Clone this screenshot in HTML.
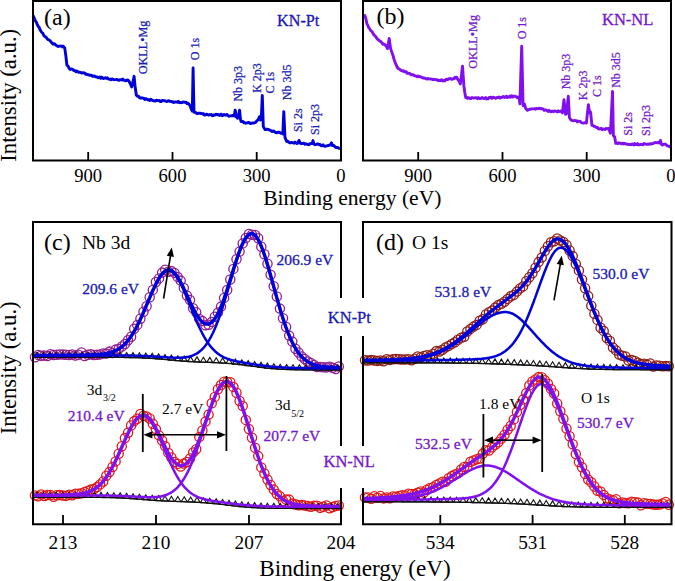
<!DOCTYPE html><html><head><meta charset="utf-8"><style>html,body{margin:0;padding:0;background:#fff;overflow:hidden}svg{display:block}text{font-family:"Liberation Serif",serif}</style></head><body>
<svg width="675" height="581" viewBox="0 0 675 581">
<rect width="675" height="581" fill="#fff"/>
<path d="M33 15.5 L34.2 18 L35.5 21 L36.4 22.3 L37.4 24.9 L38.3 26.5 L39.2 27.4 L40.1 29.8 L41 31.3 L41.9 32.5 L42.9 33.4 L43.8 35.5 L44.8 36.5 L45.8 36.8 L46.9 38.5 L47.9 39.6 L48.9 39.8 L50 40.6 L51 42 L52 43 L53 44.1 L54.1 43.6 L55.2 44.4 L56.2 45.5 L57.2 45.9 L58.2 46.5 L59.3 46.1 L60.3 46.1 L61.2 45.9 L62.1 46.9 L63 46.1 L64.7 47.9 L65.8 55.4 L66.9 65.1 L68.1 66.1 L69.2 68.5 L70.2 69.5 L71.1 69 L72.1 69.2 L73 69.6 L74 70.6 L75 70.6 L76 71.7 L77 71 L78 71.9 L79 72.3 L80 72.2 L81 72.7 L82 73.1 L82.9 72.6 L83.9 72.9 L84.9 73.4 L85.9 74.4 L86.8 74.3 L87.8 74.7 L88.7 74.6 L89.6 75.3 L90.6 75.3 L91.5 75.3 L92.4 76.3 L93.3 76.4 L94.3 75.9 L95.2 76.7 L96.1 76.8 L97 77 L97.9 77.7 L98.9 77.6 L99.8 77.1 L100.7 78.3 L101.6 77.1 L102.6 77.8 L103.5 78.5 L104.4 78.2 L105.4 77.8 L106.3 78.4 L107.3 77.8 L108.2 79 L109.2 79.2 L110.1 79.1 L111.1 79.7 L112 78.9 L113 79.3 L114 79.7 L115 79.6 L116 79.6 L117 79.4 L118 80.1 L119 80.3 L120 79.6 L121 79.7 L121.9 80 L122.8 79.1 L123.7 80.2 L124.7 80.2 L125.6 80.9 L126.5 80.7 L127.4 79.9 L128.3 80.3 L129.3 81.8 L130.3 83.7 L131.7 87 L133 81.7 L134.1 76.3 L135 85.7 L136.3 95 L137.4 96.2 L138.6 96.2 L139.7 97.9 L140.7 98.1 L141.7 97.8 L142.7 98 L143.7 98.1 L144.7 99.5 L145.7 98.7 L146.7 99.1 L147.7 99.7 L148.7 99.6 L149.6 100.5 L150.6 99.3 L151.6 100 L152.5 100.2 L153.5 100.9 L154.4 100.8 L155.4 101 L156.4 100.2 L157.3 100.5 L158.3 100.7 L159.3 100.5 L160.2 101.5 L161.2 101.6 L162.1 100.4 L163.1 100.5 L164 100.7 L165 100.8 L166 101.2 L166.9 101.5 L167.9 101 L168.8 100.7 L169.8 101.4 L170.7 101.4 L171.7 101.7 L172.6 101.8 L173.6 102.5 L174.5 102.1 L175.5 101.9 L176.4 102.1 L177.4 102.2 L178.3 101.3 L179.3 102.7 L180.2 102.5 L181.2 102.7 L182.2 102.6 L183.1 102 L184.1 102.1 L185 102.3 L186 102.2 L187 103.5 L188 103.1 L189 104.3 L190 105.6 L191 108.3 L192.3 111 L193.1 68 L194 112.3 L195 112.3 L196 112.6 L197 113.6 L197.9 113.5 L198.9 113.1 L199.8 113.2 L200.8 113.5 L201.8 113.5 L202.7 114.1 L203.7 113.7 L204.6 115.1 L205.6 114.8 L206.5 114.2 L207.5 114.5 L208.4 115 L209.3 114.8 L210.2 114.8 L211.2 114.4 L212.1 115.6 L213 115.8 L213.9 114.9 L214.9 115 L215.8 114.3 L216.7 114.4 L217.6 114.7 L218.5 114.6 L219.5 115.5 L220.4 114.5 L221.3 114.2 L222.2 115.7 L223.2 115 L224.1 114.4 L225 115 L225.9 115.2 L226.9 114.4 L227.8 115.3 L228.8 116.2 L229.7 116.1 L230.7 115.9 L231.6 115.7 L232.9 115.5 L234.2 116 L235.2 110.1 L236.4 117 L237.6 118.2 L238.6 116 L239.6 110.1 L240.4 119 L241.1 121.5 L242.1 121.5 L243 121.5 L244 122.7 L245 122.6 L245.9 123.2 L246.9 123 L247.9 122.6 L248.9 122.4 L249.8 123.3 L250.8 123.5 L251.8 123.2 L252.8 123 L253.7 123 L254.7 122.8 L255.7 122.3 L256.9 120.7 L258 120 L259.4 116.7 L260.5 120 L261.3 118 L262.3 95.5 L263.3 126.6 L264.2 128.1 L265.2 129.6 L266.2 129.5 L267.2 129.2 L268.2 129.4 L269.2 129.9 L270.2 130.1 L271.2 131 L272.2 131.6 L273.2 131 L274.1 131.2 L275.1 132.2 L276 132.6 L276.9 132.8 L277.8 132.2 L278.8 132.2 L279.7 132.5 L280.6 133.2 L281.7 133.1 L282.8 134 L283.8 111.6 L285 137.5 L286.7 141.4 L287.6 141.1 L288.5 142 L289.4 142.7 L290.3 142.8 L291.2 142.5 L292.2 142.5 L293.1 142.9 L294.1 143.2 L295 142.1 L296 143 L296.9 143.5 L297.9 142.9 L299 140.4 L300 142.9 L301 143.5 L301.9 143.7 L302.9 143.4 L303.9 143.1 L304.9 144.3 L305.8 143.7 L306.8 144.2 L307.9 144.5 L309 144.7 L310 143.6 L311.1 143.5 L312.2 143.5 L313 140.6 L313.8 143.8 L314.9 144.7 L315.9 144.6 L317 143.9 L318 144 L319.1 144.8 L320.1 144.4 L321.1 145.7 L322.1 145.7 L323.1 144.8 L324 146 L325 146.4 L326 146 L327 145.9 L327.9 145.4 L328.9 145.5 L329.9 144.6 L330.8 145 L331.5 142.8 L332.2 145.5 L333.5 145.2 L334.8 146.5 L335.8 147.6 L336.9 147.4 L337.9 147.5 L339 148.5 L340 148.1" fill="none" stroke="#0000d8" stroke-width="2.9" stroke-linejoin="round"/>
<path d="M363.4 16.2 L364.8 15.5 L365.8 18.3 L366.9 23.8 L367.8 25.3 L368.7 27.6 L369.6 28.6 L370.7 30.7 L371.7 31.2 L372.8 32.9 L373.8 34.8 L374.8 35.7 L375.9 36.8 L376.9 38.5 L377.9 39.6 L378.9 40.1 L379.9 41.2 L381 41.6 L382 43 L383.1 44.4 L384.1 44.2 L385.1 45 L386.2 45.8 L387.5 48.6 L389.2 38.5 L390.6 48.6 L391.8 52.1 L393 55.4 L394.1 59.5 L395.1 62.3 L396.1 64.6 L397.2 67.1 L398.2 68.6 L399.2 68.9 L400.3 69.8 L401.3 70.6 L402.3 71 L403.3 70.6 L404.3 71.7 L405.2 71.6 L406.2 71.7 L407.2 73.4 L408.2 73.3 L409.2 73.1 L410.2 74 L411.2 74.7 L412.1 74.8 L413.1 74.8 L414.1 75.5 L415.1 75.8 L416.1 76.1 L417.1 76.7 L418.1 75.9 L419 76.9 L420 76.6 L421 76.9 L422 77.5 L423 78.1 L423.9 77.9 L424.9 78.2 L425.9 78.7 L426.9 79.1 L427.8 78.5 L428.8 78.8 L429.8 79.1 L430.9 79 L431.9 79.2 L432.9 79.6 L434 79.3 L435 79.5 L435.9 79.6 L436.8 79.6 L437.7 80.5 L438.6 80.2 L439.5 80.6 L440.4 80.7 L441.3 79.7 L442.2 80.3 L443.1 81 L444 80.4 L444.9 80.8 L445.8 79.5 L446.7 79.3 L447.6 79.6 L448.5 78.8 L449.4 78.9 L450.3 78.5 L451.2 79.2 L452.1 79.2 L453 78.6 L453.9 78.9 L454.9 77.3 L455.8 77.9 L456.7 77.2 L457.6 79.1 L458.5 80.4 L459.4 81.6 L460.3 84 L461.4 75.7 L462.5 66.1 L463.9 85.9 L464.8 92.5 L465.7 97.6 L466.6 97.2 L467.5 98.4 L468.4 97.6 L469.3 97.8 L470.2 98.7 L471.1 98.5 L472 97.5 L472.9 97.9 L473.9 98.1 L474.8 97.9 L475.7 97.7 L476.6 98 L477.5 98.7 L478.4 97.6 L479.3 98.5 L480.2 98.5 L481.1 98.4 L482 97.6 L482.9 98.1 L483.8 98.5 L484.7 98.3 L485.6 97.5 L486.5 99 L487.4 98.6 L488.3 98.8 L489.2 97.4 L490.1 97.6 L491 97.2 L491.9 98.4 L492.8 97.5 L493.7 97.2 L494.6 97.7 L495.5 98.4 L496.4 98.2 L497.3 97.3 L498.2 97.6 L499.1 97 L500 98.1 L500.9 97.5 L501.8 97.6 L502.7 96.6 L503.6 96.5 L504.5 97.4 L505.4 96.9 L506.4 96.3 L507.3 97.6 L508.2 97 L509.1 97.2 L510 96 L510.9 97.2 L511.8 95.8 L512.7 97 L513.6 96.3 L514.5 96.3 L515.4 96.3 L516.3 96.9 L517.2 97.8 L518.1 97 L519 97.6 L519.9 103.9 L520.8 74.5 L521.7 46.2 L523.1 105.7 L524.5 104 L525.5 108 L527.1 110.2 L528 110.1 L529 109.5 L529.9 109.2 L530.9 109.1 L531.8 108.8 L532.8 108.9 L533.7 108.9 L534.6 108.8 L535.6 109.3 L536.5 108.4 L537.5 108.6 L538.4 108.5 L539.4 108.2 L540.3 108.7 L541.3 108.4 L542.3 109 L543.2 108.9 L544.2 110.3 L545.2 110.2 L546.1 109.9 L547.1 110.6 L548.1 111.5 L549 110.4 L550 111.3 L550.9 111.8 L551.8 111.1 L552.7 111.2 L553.6 111.7 L554.5 111 L555.5 111.2 L556.4 111.4 L557.3 111.9 L558.2 110.8 L559.1 111.6 L560 111.4 L560.9 111 L562.4 112.9 L564 99.6 L565.5 114.4 L566.5 113.5 L568.3 96.3 L569.4 117.5 L570.5 119.3 L571.7 120.6 L572.6 120.6 L573.6 120.7 L574.5 120.4 L575.4 120.6 L576.4 120.7 L577.3 121.9 L578.2 121.3 L579.1 121.3 L580.1 121.4 L581 122.2 L582.1 122.9 L583.2 123.1 L584.2 123 L585.3 122.5 L586.4 123 L587.4 113.4 L588.4 104.6 L589.5 112.9 L590.6 112.1 L591.9 125.3 L592.8 125.4 L593.7 126.2 L594.7 126.1 L595.6 127.1 L596.5 127.6 L597.4 127.4 L598.4 128.8 L599.3 129 L600.3 128.6 L601.2 128.3 L602.2 129.7 L603.1 128.9 L604.1 129.1 L605 129.6 L605.9 128.5 L606.8 128.8 L607.7 128.7 L608.6 128.4 L610.4 133.2 L611.5 112.3 L612.5 91.4 L613.4 135.6 L614.6 136.8 L615.8 143.4 L616.7 143 L617.6 143.6 L618.5 142.8 L619.5 143.3 L620.4 143.1 L621.3 143.7 L622.2 143.2 L623.1 144 L624 143.3 L624.9 143.7 L625.8 143.6 L626.7 144.2 L627.6 144.1 L628.5 144.5 L629.4 144.4 L630.3 144.5 L631.2 144.7 L632.1 144 L633 143.9 L633.9 145 L634.8 143.6 L635.7 144.6 L636.6 144.5 L637.5 143.5 L638.4 144.8 L639.3 144.9 L640.2 144.5 L641.1 144.3 L642 144.6 L643 144.7 L643.9 143.5 L644.8 144.1 L645.8 144 L646.7 144.4 L647.6 144.3 L648.5 144.3 L649.5 143.8 L650.4 144.2 L651.3 143.8 L652.3 143.8 L653.2 143.4 L654.2 142.9 L655.3 142.5 L656.4 142.6 L657.4 142.9 L658.5 142.4 L659.5 143 L660.4 140.4 L661.6 144.6 L662.5 145 L663.4 144.4 L664.3 144.4 L665.2 144 L666.3 144.9 L667.3 145.8 L668.4 146.2 L669.4 146.2 L670.5 147.7" fill="none" stroke="#8010ee" stroke-width="2.9" stroke-linejoin="round"/>
<g fill="none" stroke="#921e8c" stroke-width="1.3"><circle cx="35" cy="357.3" r="4.6"/><circle cx="38.1" cy="354.9" r="4.6"/><circle cx="41.2" cy="355.7" r="4.6"/><circle cx="44.3" cy="355.5" r="4.6"/><circle cx="47.4" cy="356" r="4.6"/><circle cx="50.5" cy="354.2" r="4.6"/><circle cx="53.6" cy="355" r="4.6"/><circle cx="56.7" cy="354.7" r="4.6"/><circle cx="59.8" cy="354.4" r="4.6"/><circle cx="62.9" cy="354.6" r="4.6"/><circle cx="66" cy="354.8" r="4.6"/><circle cx="69.1" cy="355" r="4.6"/><circle cx="72.2" cy="354.5" r="4.6"/><circle cx="75.3" cy="355.5" r="4.6"/><circle cx="78.4" cy="354.7" r="4.6"/><circle cx="81.5" cy="352.5" r="4.6"/><circle cx="84.6" cy="356" r="4.6"/><circle cx="87.7" cy="354.7" r="4.6"/><circle cx="90.8" cy="354.3" r="4.6"/><circle cx="93.9" cy="355" r="4.6"/><circle cx="97" cy="354.8" r="4.6"/><circle cx="100.1" cy="354.4" r="4.6"/><circle cx="103.2" cy="353.4" r="4.6"/><circle cx="106.3" cy="353.6" r="4.6"/><circle cx="109.4" cy="351.6" r="4.6"/><circle cx="112.5" cy="353" r="4.6"/><circle cx="115.6" cy="349.6" r="4.6"/><circle cx="118.7" cy="348.9" r="4.6"/><circle cx="121.8" cy="346.5" r="4.6"/><circle cx="124.9" cy="344" r="4.6"/><circle cx="128" cy="340.2" r="4.6"/><circle cx="131.1" cy="336.7" r="4.6"/><circle cx="134.2" cy="328.7" r="4.6"/><circle cx="137.3" cy="324.9" r="4.6"/><circle cx="140.4" cy="318.7" r="4.6"/><circle cx="143.5" cy="311.7" r="4.6"/><circle cx="146.6" cy="306.3" r="4.6"/><circle cx="149.7" cy="297.2" r="4.6"/><circle cx="152.8" cy="289.9" r="4.6"/><circle cx="155.9" cy="282" r="4.6"/><circle cx="159" cy="278.4" r="4.6"/><circle cx="162.1" cy="272.6" r="4.6"/><circle cx="165.2" cy="269.8" r="4.6"/><circle cx="168.3" cy="271.7" r="4.6"/><circle cx="171.4" cy="271.1" r="4.6"/><circle cx="174.5" cy="272.9" r="4.6"/><circle cx="177.6" cy="276.9" r="4.6"/><circle cx="180.7" cy="280.6" r="4.6"/><circle cx="183.8" cy="287.9" r="4.6"/><circle cx="186.9" cy="295.6" r="4.6"/><circle cx="190" cy="300" r="4.6"/><circle cx="193.1" cy="308.2" r="4.6"/><circle cx="196.2" cy="312.2" r="4.6"/><circle cx="199.3" cy="318.9" r="4.6"/><circle cx="202.4" cy="321.1" r="4.6"/><circle cx="205.5" cy="325.2" r="4.6"/><circle cx="208.6" cy="324.7" r="4.6"/><circle cx="211.7" cy="321.9" r="4.6"/><circle cx="214.8" cy="316.8" r="4.6"/><circle cx="217.9" cy="312.6" r="4.6"/><circle cx="221" cy="306.6" r="4.6"/><circle cx="224.1" cy="297.9" r="4.6"/><circle cx="227.2" cy="290" r="4.6"/><circle cx="230.3" cy="279.5" r="4.6"/><circle cx="233.4" cy="268.9" r="4.6"/><circle cx="236.5" cy="259.2" r="4.6"/><circle cx="239.6" cy="251.6" r="4.6"/><circle cx="242.7" cy="243.4" r="4.6"/><circle cx="245.8" cy="238" r="4.6"/><circle cx="248.9" cy="234" r="4.6"/><circle cx="252" cy="234.8" r="4.6"/><circle cx="255.1" cy="234.9" r="4.6"/><circle cx="258.2" cy="238.3" r="4.6"/><circle cx="261.3" cy="246.7" r="4.6"/><circle cx="264.4" cy="254.3" r="4.6"/><circle cx="267.5" cy="263.7" r="4.6"/><circle cx="270.6" cy="274.7" r="4.6"/><circle cx="273.7" cy="286.3" r="4.6"/><circle cx="276.8" cy="296.5" r="4.6"/><circle cx="279.9" cy="308.6" r="4.6"/><circle cx="283" cy="318.2" r="4.6"/><circle cx="286.1" cy="327" r="4.6"/><circle cx="289.2" cy="335.6" r="4.6"/><circle cx="292.3" cy="341.6" r="4.6"/><circle cx="295.4" cy="348.7" r="4.6"/><circle cx="298.5" cy="352.5" r="4.6"/><circle cx="301.6" cy="356.4" r="4.6"/><circle cx="304.7" cy="359" r="4.6"/><circle cx="307.8" cy="361.5" r="4.6"/><circle cx="310.9" cy="362.9" r="4.6"/><circle cx="314" cy="364.9" r="4.6"/><circle cx="317.1" cy="367.1" r="4.6"/><circle cx="320.2" cy="366.9" r="4.6"/><circle cx="323.3" cy="367.3" r="4.6"/><circle cx="326.4" cy="367.4" r="4.6"/><circle cx="329.5" cy="366.7" r="4.6"/><circle cx="332.6" cy="367.8" r="4.6"/><circle cx="335.7" cy="369.1" r="4.6"/><circle cx="338.8" cy="366.5" r="4.6"/></g>
<path d="M34 357.3 L35 357.3 L36 357.3 L37 357.3 L38 357.3 L39 357.3 L40 357.3 L41 357.3 L42 357.3 L43 357.3 L44 357.3 L45 357.3 L46 357.3 L47 357.3 L48 357.3 L49 357.3 L50 357.3 L51 357.3 L52 357.3 L53 357.3 L54 357.3 L55 357.3 L56 357.3 L57 357.3 L58 357.3 L59 357.3 L60 357.3 L61 357.3 L62 357.3 L63 357.3 L64 357.3 L65 357.3 L66 357.3 L67 357.3 L68 357.3 L69 357.3 L70 357.3 L71 357.3 L72 357.3 L73 357.3 L74 357.3 L75 357.3 L76 357.3 L77 357.3 L78 357.3 L79 357.3 L80 357.3 L81 357.3 L82 357.3 L83 357.3 L84 357.3 L85 357.3 L86 357.3 L87 357.3 L88 357.3 L89 357.3 L90 357.3 L91 357.3 L92 357.3 L93 357.3 L94 357.3 L95 357.3 L96 357.3 L97 357.3 L98 357.3 L99 357.3 L100 357.3 L101 357.3 L102 357.3 L103 357.3 L104 357.3 L105 357.3 L106 357.3 L107 357.4 L108 357.4 L109 357.4 L110 357.4 L111 357.4 L112 357.4 L113 357.4 L114 357.4 L115 357.4 L116 357.4 L117 357.4 L118 357.4 L119 357.4 L120 357.4 L121 357.4 L122 357.4 L123 357.4 L124 357.5 L125 357.5 L126 357.5 L127 357.5 L128 357.5 L129 357.5 L130 357.5 L131 357.6 L132 357.6 L133 357.6 L134 357.6 L135 357.7 L136 357.7 L137 357.7 L138 357.7 L139 357.8 L140 357.8 L141 357.9 L142 357.9 L143 357.9 L144 358 L145 358 L146 358.1 L147 358.1 L148 358.2 L149 358.3 L150 358.3 L151 358.4 L152 358.4 L153 358.5 L154 358.6 L155 358.7 L156 358.7 L157 358.8 L158 358.9 L159 359 L160 359.1 L161 359.1 L162 359.2 L163 359.3 L164 359.4 L165 359.5 L166 359.6 L167 359.7 L168 359.8 L169 359.9 L170 360 L171 360 L172 360.1 L173 360.2 L174 360.3 L175 360.4 L176 360.5 L177 360.6 L178 360.7 L179 360.7 L180 360.8 L181 360.9 L182 361 L183 361.1 L184 361.1 L185 361.2 L186 361.3 L187 361.4 L188 361.4 L189 361.5 L190 361.5 L191 361.6 L192 361.7 L193 361.7 L194 361.8 L195 361.8 L196 361.9 L197 361.9 L198 362 L199 362 L200 362.1 L201 362.1 L202 362.1 L203 362.2 L204 362.2 L205 362.3 L206 362.3 L207 362.3 L208 362.4 L209 362.4 L210 362.4 L211 362.5 L212 362.5 L213 362.6 L214 362.6 L215 362.7 L216 362.7 L217 362.7 L218 362.8 L219 362.8 L220 362.9 L221 363 L222 363 L223 363.1 L224 363.1 L225 363.2 L226 363.3 L227 363.3 L228 363.4 L229 363.5 L230 363.6 L231 363.7 L232 363.8 L233 363.9 L234 364 L235 364.1 L236 364.2 L237 364.3 L238 364.4 L239 364.5 L240 364.6 L241 364.7 L242 364.8 L243 365 L244 365.1 L245 365.2 L246 365.4 L247 365.5 L248 365.6 L249 365.8 L250 365.9 L251 366 L252 366.2 L253 366.3 L254 366.4 L255 366.6 L256 366.7 L257 366.8 L258 367 L259 367.1 L260 367.2 L261 367.4 L262 367.5 L263 367.6 L264 367.7 L265 367.8 L266 368 L267 368.1 L268 368.2 L269 368.3 L270 368.4 L271 368.5 L272 368.6 L273 368.7 L274 368.7 L275 368.8 L276 368.9 L277 369 L278 369 L279 369.1 L280 369.2 L281 369.2 L282 369.3 L283 369.3 L284 369.4 L285 369.4 L286 369.5 L287 369.5 L288 369.6 L289 369.6 L290 369.6 L291 369.7 L292 369.7 L293 369.7 L294 369.7 L295 369.8 L296 369.8 L297 369.8 L298 369.8 L299 369.8 L300 369.8 L301 369.9 L302 369.9 L303 369.9 L304 369.9 L305 369.9 L306 369.9 L307 369.9 L308 369.9 L309 369.9 L310 369.9 L311 369.9 L312 369.9 L313 370 L314 370 L315 370 L316 370 L317 370 L318 370 L319 370 L320 370 L321 370 L322 370 L323 370 L324 370 L325 370 L326 370 L327 370 L328 370 L329 370 L330 370 L331 370 L332 370 L333 370 L334 370 L335 370 L336 370 L337 370 L338 370 L339 370 L340 370" fill="none" stroke="#111" stroke-width="1.3"/>
<path d="M34 357.3L37 352.3L40 357.3ZM40.4 357.3L43.4 352.3L46.4 357.3ZM46.8 357.3L49.8 352.3L52.8 357.3ZM53.2 357.3L56.2 352.3L59.2 357.3ZM59.6 357.3L62.6 352.3L65.6 357.3ZM66 357.3L69 352.3L72 357.3ZM72.4 357.3L75.4 352.3L78.4 357.3ZM78.8 357.3L81.8 352.3L84.8 357.3ZM85.2 357.3L88.2 352.3L91.2 357.3ZM91.6 357.3L94.6 352.3L97.6 357.3ZM98 357.3L101 352.3L104 357.3ZM104.4 357.4L107.4 352.4L110.4 357.4ZM110.8 357.4L113.8 352.4L116.8 357.4ZM117.2 357.4L120.2 352.4L123.2 357.4ZM123.6 357.5L126.6 352.5L129.6 357.5ZM130 357.6L133 352.6L136 357.6ZM136.4 357.8L139.4 352.8L142.4 357.8ZM142.8 358.1L145.8 353.1L148.8 358.1ZM149.2 358.4L152.2 353.4L155.2 358.4ZM155.6 358.9L158.6 353.9L161.6 358.9ZM162 359.5L165 354.5L168 359.5ZM168.4 360.1L171.4 355.1L174.4 360.1ZM174.8 360.7L177.8 355.7L180.8 360.7ZM181.2 361.1L184.2 356.1L187.2 361.1ZM187.6 361.6L190.6 356.6L193.6 361.6ZM194 361.9L197 356.9L200 361.9ZM200.4 362.2L203.4 357.2L206.4 362.2ZM206.8 362.4L209.8 357.4L212.8 362.4ZM213.2 362.7L216.2 357.7L219.2 362.7ZM219.6 363L222.6 358L225.6 363ZM226 363.5L229 358.5L232 363.5ZM232.4 364.1L235.4 359.1L238.4 364.1ZM238.8 364.8L241.8 359.8L244.8 364.8ZM245.2 365.6L248.2 360.6L251.2 365.6ZM251.6 366.5L254.6 361.5L257.6 366.5ZM258 367.4L261 362.4L264 367.4ZM264.4 368.1L267.4 363.1L270.4 368.1ZM270.8 368.7L273.8 363.7L276.8 368.7ZM277.2 369.2L280.2 364.2L283.2 369.2ZM283.6 369.5L286.6 364.5L289.6 369.5ZM290 369.7L293 364.7L296 369.7ZM296.4 369.8L299.4 364.8L302.4 369.8ZM302.8 369.9L305.8 364.9L308.8 369.9ZM309.2 369.9L312.2 364.9L315.2 369.9ZM315.6 370L318.6 365L321.6 370ZM322 370L325 365L328 370ZM328.4 370L331.4 365L334.4 370ZM334.8 370L337.8 365L340.8 370Z" fill="none" stroke="#111" stroke-width="1.1"/>
<path d="M34 355.5 L34.5 355.5 L35 355.5 L35.5 355.5 L36 355.5 L36.5 355.5 L37 355.5 L37.5 355.5 L38 355.5 L38.5 355.5 L39 355.5 L39.5 355.5 L40 355.5 L40.5 355.5 L41 355.5 L41.5 355.5 L42 355.5 L42.5 355.5 L43 355.5 L43.5 355.5 L44 355.5 L44.5 355.5 L45 355.5 L45.5 355.5 L46 355.5 L46.5 355.5 L47 355.5 L47.5 355.5 L48 355.5 L48.5 355.5 L49 355.5 L49.5 355.5 L50 355.5 L50.5 355.5 L51 355.5 L51.5 355.5 L52 355.5 L52.5 355.5 L53 355.5 L53.5 355.5 L54 355.5 L54.5 355.5 L55 355.5 L55.5 355.5 L56 355.5 L56.5 355.5 L57 355.4 L57.5 355.4 L58 355.4 L58.5 355.4 L59 355.4 L59.5 355.4 L60 355.4 L60.5 355.4 L61 355.4 L61.5 355.4 L62 355.4 L62.5 355.4 L63 355.4 L63.5 355.4 L64 355.4 L64.5 355.4 L65 355.4 L65.5 355.4 L66 355.4 L66.5 355.4 L67 355.4 L67.5 355.4 L68 355.4 L68.5 355.4 L69 355.4 L69.5 355.4 L70 355.4 L70.5 355.4 L71 355.4 L71.5 355.4 L72 355.4 L72.5 355.4 L73 355.4 L73.5 355.4 L74 355.4 L74.5 355.4 L75 355.4 L75.5 355.3 L76 355.3 L76.5 355.3 L77 355.3 L77.5 355.3 L78 355.3 L78.5 355.3 L79 355.3 L79.5 355.3 L80 355.3 L80.5 355.3 L81 355.3 L81.5 355.3 L82 355.3 L82.5 355.3 L83 355.3 L83.5 355.3 L84 355.3 L84.5 355.2 L85 355.2 L85.5 355.2 L86 355.2 L86.5 355.2 L87 355.2 L87.5 355.2 L88 355.2 L88.5 355.2 L89 355.2 L89.5 355.1 L90 355.1 L90.5 355.1 L91 355.1 L91.5 355.1 L92 355.1 L92.5 355 L93 355 L93.5 355 L94 355 L94.5 355 L95 354.9 L95.5 354.9 L96 354.9 L96.5 354.9 L97 354.8 L97.5 354.8 L98 354.8 L98.5 354.7 L99 354.7 L99.5 354.6 L100 354.6 L100.5 354.5 L101 354.5 L101.5 354.4 L102 354.4 L102.5 354.3 L103 354.3 L103.5 354.2 L104 354.1 L104.5 354.1 L105 354 L105.5 353.9 L106 353.8 L106.5 353.7 L107 353.6 L107.5 353.5 L108 353.4 L108.5 353.3 L109 353.2 L109.5 353.1 L110 352.9 L110.5 352.8 L111 352.6 L111.5 352.5 L112 352.3 L112.5 352.1 L113 352 L113.5 351.8 L114 351.6 L114.5 351.4 L115 351.1 L115.5 350.9 L116 350.7 L116.5 350.4 L117 350.2 L117.5 349.9 L118 349.6 L118.5 349.3 L119 349 L119.5 348.7 L120 348.3 L120.5 348 L121 347.6 L121.5 347.2 L122 346.8 L122.5 346.4 L123 346 L123.5 345.5 L124 345.1 L124.5 344.6 L125 344.1 L125.5 343.6 L126 343.1 L126.5 342.5 L127 341.9 L127.5 341.3 L128 340.7 L128.5 340.1 L129 339.5 L129.5 338.8 L130 338.1 L130.5 337.4 L131 336.7 L131.5 335.9 L132 335.2 L132.5 334.4 L133 333.6 L133.5 332.8 L134 331.9 L134.5 331.1 L135 330.2 L135.5 329.3 L136 328.4 L136.5 327.4 L137 326.5 L137.5 325.5 L138 324.5 L138.5 323.5 L139 322.5 L139.5 321.4 L140 320.4 L140.5 319.3 L141 318.2 L141.5 317.1 L142 316 L142.5 314.9 L143 313.8 L143.5 312.6 L144 311.5 L144.5 310.3 L145 309.1 L145.5 308 L146 306.8 L146.5 305.6 L147 304.4 L147.5 303.2 L148 302.1 L148.5 300.9 L149 299.7 L149.5 298.5 L150 297.4 L150.5 296.2 L151 295 L151.5 293.9 L152 292.8 L152.5 291.6 L153 290.5 L153.5 289.4 L154 288.4 L154.5 287.3 L155 286.3 L155.5 285.3 L156 284.3 L156.5 283.3 L157 282.4 L157.5 281.5 L158 280.6 L158.5 279.7 L159 278.9 L159.5 278.1 L160 277.3 L160.5 276.6 L161 275.9 L161.5 275.3 L162 274.7 L162.5 274.1 L163 273.6 L163.5 273.1 L164 272.7 L164.5 272.3 L165 271.9 L165.5 271.6 L166 271.3 L166.5 271.1 L167 271 L167.5 270.8 L168 270.8 L168.5 270.7 L169 270.8 L169.5 270.8 L170 270.9 L170.5 271.1 L171 271.3 L171.5 271.6 L172 271.9 L172.5 272.2 L173 272.6 L173.5 273.1 L174 273.6 L174.5 274.1 L175 274.7 L175.5 275.3 L176 275.9 L176.5 276.6 L177 277.4 L177.5 278.1 L178 279 L178.5 279.8 L179 280.7 L179.5 281.6 L180 282.5 L180.5 283.5 L181 284.5 L181.5 285.5 L182 286.5 L182.5 287.6 L183 288.7 L183.5 289.8 L184 290.9 L184.5 292.1 L185 293.2 L185.5 294.4 L186 295.6 L186.5 296.8 L187 298 L187.5 299.2 L188 300.5 L188.5 301.7 L189 302.9 L189.5 304.2 L190 305.4 L190.5 306.7 L191 307.9 L191.5 309.1 L192 310.4 L192.5 311.6 L193 312.8 L193.5 314 L194 315.2 L194.5 316.4 L195 317.6 L195.5 318.8 L196 320 L196.5 321.1 L197 322.3 L197.5 323.4 L198 324.5 L198.5 325.6 L199 326.7 L199.5 327.8 L200 328.8 L200.5 329.8 L201 330.8 L201.5 331.8 L202 332.8 L202.5 333.8 L203 334.7 L203.5 335.6 L204 336.5 L204.5 337.4 L205 338.2 L205.5 339.1 L206 339.9 L206.5 340.7 L207 341.5 L207.5 342.2 L208 342.9 L208.5 343.7 L209 344.3 L209.5 345 L210 345.7 L210.5 346.3 L211 346.9 L211.5 347.5 L212 348.1 L212.5 348.7 L213 349.2 L213.5 349.7 L214 350.2 L214.5 350.7 L215 351.2 L215.5 351.7 L216 352.1 L216.5 352.5 L217 352.9 L217.5 353.3 L218 353.7 L218.5 354.1 L219 354.4 L219.5 354.8 L220 355.1 L220.5 355.4 L221 355.7 L221.5 356 L222 356.3 L222.5 356.6 L223 356.8 L223.5 357.1 L224 357.3 L224.5 357.6 L225 357.8 L225.5 358 L226 358.2 L226.5 358.4 L227 358.6 L227.5 358.8 L228 359 L228.5 359.2 L229 359.3 L229.5 359.5 L230 359.6 L230.5 359.8 L231 359.9 L231.5 360.1 L232 360.2 L232.5 360.4 L233 360.5 L233.5 360.6 L234 360.7 L234.5 360.9 L235 361 L235.5 361.1 L236 361.2 L236.5 361.3 L237 361.4 L237.5 361.5 L238 361.6 L238.5 361.7 L239 361.8 L239.5 361.9 L240 362 L240.5 362.1 L241 362.2 L241.5 362.3 L242 362.4 L242.5 362.5 L243 362.6 L243.5 362.7 L244 362.8 L244.5 362.8 L245 362.9 L245.5 363 L246 363.1 L246.5 363.2 L247 363.3 L247.5 363.3 L248 363.4 L248.5 363.5 L249 363.6 L249.5 363.7 L250 363.7 L250.5 363.8 L251 363.9 L251.5 364 L252 364.1 L252.5 364.1 L253 364.2 L253.5 364.3 L254 364.4 L254.5 364.4 L255 364.5 L255.5 364.6 L256 364.7 L256.5 364.7 L257 364.8 L257.5 364.9 L258 365 L258.5 365 L259 365.1 L259.5 365.2 L260 365.2 L260.5 365.3 L261 365.4 L261.5 365.4 L262 365.5 L262.5 365.6 L263 365.6 L263.5 365.7 L264 365.8 L264.5 365.8 L265 365.9 L265.5 366 L266 366 L266.5 366.1 L267 366.1 L267.5 366.2 L268 366.2 L268.5 366.3 L269 366.4 L269.5 366.4 L270 366.5 L270.5 366.5 L271 366.6 L271.5 366.6 L272 366.7 L272.5 366.7 L273 366.8 L273.5 366.8 L274 366.8 L274.5 366.9 L275 366.9 L275.5 367 L276 367 L276.5 367.1 L277 367.1 L277.5 367.1 L278 367.2 L278.5 367.2 L279 367.2 L279.5 367.3 L280 367.3 L280.5 367.3 L281 367.4 L281.5 367.4 L282 367.4 L282.5 367.5 L283 367.5 L283.5 367.5 L284 367.5 L284.5 367.6 L285 367.6 L285.5 367.6 L286 367.6 L286.5 367.7 L287 367.7 L287.5 367.7 L288 367.7 L288.5 367.7 L289 367.8 L289.5 367.8 L290 367.8 L290.5 367.8 L291 367.8 L291.5 367.9 L292 367.9 L292.5 367.9 L293 367.9 L293.5 367.9 L294 367.9 L294.5 367.9 L295 367.9 L295.5 368 L296 368 L296.5 368 L297 368 L297.5 368 L298 368 L298.5 368 L299 368 L299.5 368 L300 368.1 L300.5 368.1 L301 368.1 L301.5 368.1 L302 368.1 L302.5 368.1 L303 368.1 L303.5 368.1 L304 368.1 L304.5 368.1 L305 368.1 L305.5 368.1 L306 368.1 L306.5 368.1 L307 368.1 L307.5 368.1 L308 368.2 L308.5 368.2 L309 368.2 L309.5 368.2 L310 368.2 L310.5 368.2 L311 368.2 L311.5 368.2 L312 368.2 L312.5 368.2 L313 368.2 L313.5 368.2 L314 368.2 L314.5 368.2 L315 368.2 L315.5 368.2 L316 368.2 L316.5 368.2 L317 368.2 L317.5 368.2 L318 368.2 L318.5 368.2 L319 368.2 L319.5 368.2 L320 368.2 L320.5 368.2 L321 368.2 L321.5 368.2 L322 368.2 L322.5 368.2 L323 368.2 L323.5 368.2 L324 368.2 L324.5 368.2 L325 368.2 L325.5 368.2 L326 368.2 L326.5 368.3 L327 368.3 L327.5 368.3 L328 368.3 L328.5 368.3 L329 368.3 L329.5 368.3 L330 368.3 L330.5 368.3 L331 368.3 L331.5 368.3 L332 368.3 L332.5 368.3 L333 368.3 L333.5 368.3 L334 368.3 L334.5 368.3 L335 368.3 L335.5 368.3 L336 368.3 L336.5 368.3 L337 368.3 L337.5 368.3 L338 368.3 L338.5 368.3 L339 368.3 L339.5 368.3 L340 368.3" fill="none" stroke="#0000d8" stroke-width="2.5"/>
<path d="M34 355.6 L34.5 355.6 L35 355.6 L35.5 355.6 L36 355.6 L36.5 355.6 L37 355.6 L37.5 355.6 L38 355.6 L38.5 355.6 L39 355.6 L39.5 355.6 L40 355.6 L40.5 355.6 L41 355.6 L41.5 355.6 L42 355.6 L42.5 355.6 L43 355.6 L43.5 355.6 L44 355.6 L44.5 355.6 L45 355.6 L45.5 355.6 L46 355.6 L46.5 355.6 L47 355.6 L47.5 355.6 L48 355.6 L48.5 355.6 L49 355.6 L49.5 355.6 L50 355.6 L50.5 355.6 L51 355.6 L51.5 355.6 L52 355.6 L52.5 355.6 L53 355.6 L53.5 355.6 L54 355.6 L54.5 355.6 L55 355.6 L55.5 355.6 L56 355.6 L56.5 355.6 L57 355.6 L57.5 355.6 L58 355.6 L58.5 355.6 L59 355.6 L59.5 355.6 L60 355.6 L60.5 355.6 L61 355.6 L61.5 355.6 L62 355.6 L62.5 355.6 L63 355.6 L63.5 355.6 L64 355.6 L64.5 355.6 L65 355.6 L65.5 355.6 L66 355.6 L66.5 355.6 L67 355.6 L67.5 355.6 L68 355.6 L68.5 355.6 L69 355.6 L69.5 355.6 L70 355.6 L70.5 355.6 L71 355.6 L71.5 355.6 L72 355.6 L72.5 355.6 L73 355.6 L73.5 355.6 L74 355.6 L74.5 355.6 L75 355.6 L75.5 355.6 L76 355.6 L76.5 355.5 L77 355.5 L77.5 355.5 L78 355.5 L78.5 355.5 L79 355.5 L79.5 355.5 L80 355.5 L80.5 355.5 L81 355.5 L81.5 355.5 L82 355.5 L82.5 355.5 L83 355.5 L83.5 355.5 L84 355.5 L84.5 355.5 L85 355.5 L85.5 355.5 L86 355.5 L86.5 355.5 L87 355.5 L87.5 355.5 L88 355.5 L88.5 355.5 L89 355.5 L89.5 355.5 L90 355.5 L90.5 355.5 L91 355.5 L91.5 355.5 L92 355.5 L92.5 355.5 L93 355.5 L93.5 355.5 L94 355.5 L94.5 355.5 L95 355.5 L95.5 355.5 L96 355.5 L96.5 355.5 L97 355.5 L97.5 355.5 L98 355.5 L98.5 355.5 L99 355.5 L99.5 355.5 L100 355.5 L100.5 355.5 L101 355.5 L101.5 355.5 L102 355.5 L102.5 355.5 L103 355.5 L103.5 355.5 L104 355.5 L104.5 355.5 L105 355.5 L105.5 355.5 L106 355.5 L106.5 355.5 L107 355.5 L107.5 355.5 L108 355.5 L108.5 355.5 L109 355.5 L109.5 355.5 L110 355.5 L110.5 355.5 L111 355.5 L111.5 355.5 L112 355.5 L112.5 355.5 L113 355.5 L113.5 355.5 L114 355.5 L114.5 355.5 L115 355.5 L115.5 355.5 L116 355.5 L116.5 355.5 L117 355.5 L117.5 355.5 L118 355.5 L118.5 355.5 L119 355.5 L119.5 355.5 L120 355.5 L120.5 355.5 L121 355.5 L121.5 355.5 L122 355.5 L122.5 355.5 L123 355.5 L123.5 355.5 L124 355.5 L124.5 355.5 L125 355.5 L125.5 355.6 L126 355.6 L126.5 355.6 L127 355.6 L127.5 355.6 L128 355.6 L128.5 355.6 L129 355.6 L129.5 355.6 L130 355.6 L130.5 355.6 L131 355.6 L131.5 355.6 L132 355.6 L132.5 355.6 L133 355.6 L133.5 355.7 L134 355.7 L134.5 355.7 L135 355.7 L135.5 355.7 L136 355.7 L136.5 355.7 L137 355.7 L137.5 355.7 L138 355.8 L138.5 355.8 L139 355.8 L139.5 355.8 L140 355.8 L140.5 355.8 L141 355.8 L141.5 355.9 L142 355.9 L142.5 355.9 L143 355.9 L143.5 355.9 L144 356 L144.5 356 L145 356 L145.5 356 L146 356 L146.5 356.1 L147 356.1 L147.5 356.1 L148 356.1 L148.5 356.2 L149 356.2 L149.5 356.2 L150 356.2 L150.5 356.3 L151 356.3 L151.5 356.3 L152 356.3 L152.5 356.4 L153 356.4 L153.5 356.4 L154 356.5 L154.5 356.5 L155 356.5 L155.5 356.6 L156 356.6 L156.5 356.6 L157 356.7 L157.5 356.7 L158 356.7 L158.5 356.8 L159 356.8 L159.5 356.8 L160 356.9 L160.5 356.9 L161 356.9 L161.5 357 L162 357 L162.5 357 L163 357.1 L163.5 357.1 L164 357.1 L164.5 357.2 L165 357.2 L165.5 357.2 L166 357.3 L166.5 357.3 L167 357.3 L167.5 357.4 L168 357.4 L168.5 357.4 L169 357.5 L169.5 357.5 L170 357.5 L170.5 357.5 L171 357.6 L171.5 357.6 L172 357.6 L172.5 357.6 L173 357.7 L173.5 357.7 L174 357.7 L174.5 357.7 L175 357.7 L175.5 357.7 L176 357.7 L176.5 357.8 L177 357.8 L177.5 357.8 L178 357.8 L178.5 357.8 L179 357.7 L179.5 357.7 L180 357.7 L180.5 357.7 L181 357.7 L181.5 357.7 L182 357.6 L182.5 357.6 L183 357.6 L183.5 357.5 L184 357.5 L184.5 357.4 L185 357.4 L185.5 357.3 L186 357.2 L186.5 357.1 L187 357.1 L187.5 357 L188 356.9 L188.5 356.8 L189 356.6 L189.5 356.5 L190 356.4 L190.5 356.3 L191 356.1 L191.5 355.9 L192 355.8 L192.5 355.6 L193 355.4 L193.5 355.2 L194 355 L194.5 354.7 L195 354.5 L195.5 354.2 L196 354 L196.5 353.7 L197 353.4 L197.5 353.1 L198 352.7 L198.5 352.4 L199 352 L199.5 351.6 L200 351.2 L200.5 350.8 L201 350.4 L201.5 349.9 L202 349.4 L202.5 348.9 L203 348.4 L203.5 347.9 L204 347.3 L204.5 346.7 L205 346.1 L205.5 345.4 L206 344.8 L206.5 344.1 L207 343.4 L207.5 342.7 L208 341.9 L208.5 341.1 L209 340.3 L209.5 339.4 L210 338.6 L210.5 337.7 L211 336.8 L211.5 335.8 L212 334.8 L212.5 333.8 L213 332.8 L213.5 331.7 L214 330.6 L214.5 329.5 L215 328.3 L215.5 327.1 L216 325.9 L216.5 324.7 L217 323.4 L217.5 322.1 L218 320.8 L218.5 319.5 L219 318.1 L219.5 316.7 L220 315.3 L220.5 313.8 L221 312.3 L221.5 310.8 L222 309.3 L222.5 307.8 L223 306.2 L223.5 304.6 L224 303 L224.5 301.4 L225 299.7 L225.5 298.1 L226 296.4 L226.5 294.7 L227 293.1 L227.5 291.3 L228 289.6 L228.5 287.9 L229 286.2 L229.5 284.5 L230 282.7 L230.5 281 L231 279.3 L231.5 277.6 L232 275.8 L232.5 274.1 L233 272.4 L233.5 270.7 L234 269.1 L234.5 267.4 L235 265.8 L235.5 264.1 L236 262.5 L236.5 260.9 L237 259.4 L237.5 257.9 L238 256.4 L238.5 254.9 L239 253.5 L239.5 252.1 L240 250.7 L240.5 249.4 L241 248.1 L241.5 246.9 L242 245.7 L242.5 244.6 L243 243.5 L243.5 242.5 L244 241.5 L244.5 240.5 L245 239.7 L245.5 238.9 L246 238.1 L246.5 237.4 L247 236.8 L247.5 236.2 L248 235.7 L248.5 235.3 L249 234.9 L249.5 234.6 L250 234.3 L250.5 234.2 L251 234.1 L251.5 234 L252 234.1 L252.5 234.2 L253 234.3 L253.5 234.6 L254 234.9 L254.5 235.3 L255 235.7 L255.5 236.2 L256 236.8 L256.5 237.4 L257 238.1 L257.5 238.9 L258 239.7 L258.5 240.6 L259 241.5 L259.5 242.5 L260 243.6 L260.5 244.7 L261 245.9 L261.5 247.1 L262 248.4 L262.5 249.7 L263 251 L263.5 252.4 L264 253.8 L264.5 255.3 L265 256.8 L265.5 258.4 L266 260 L266.5 261.6 L267 263.2 L267.5 264.9 L268 266.5 L268.5 268.3 L269 270 L269.5 271.7 L270 273.5 L270.5 275.3 L271 277 L271.5 278.8 L272 280.6 L272.5 282.5 L273 284.3 L273.5 286.1 L274 287.9 L274.5 289.7 L275 291.5 L275.5 293.3 L276 295.1 L276.5 296.9 L277 298.7 L277.5 300.4 L278 302.2 L278.5 303.9 L279 305.6 L279.5 307.4 L280 309 L280.5 310.7 L281 312.3 L281.5 314 L282 315.6 L282.5 317.2 L283 318.7 L283.5 320.2 L284 321.7 L284.5 323.2 L285 324.7 L285.5 326.1 L286 327.5 L286.5 328.9 L287 330.2 L287.5 331.5 L288 332.8 L288.5 334 L289 335.3 L289.5 336.5 L290 337.6 L290.5 338.8 L291 339.9 L291.5 340.9 L292 342 L292.5 343 L293 344 L293.5 344.9 L294 345.9 L294.5 346.8 L295 347.6 L295.5 348.5 L296 349.3 L296.5 350.1 L297 350.9 L297.5 351.6 L298 352.3 L298.5 353 L299 353.7 L299.5 354.3 L300 354.9 L300.5 355.5 L301 356.1 L301.5 356.6 L302 357.2 L302.5 357.7 L303 358.1 L303.5 358.6 L304 359.1 L304.5 359.5 L305 359.9 L305.5 360.3 L306 360.7 L306.5 361 L307 361.4 L307.5 361.7 L308 362 L308.5 362.3 L309 362.6 L309.5 362.9 L310 363.1 L310.5 363.4 L311 363.6 L311.5 363.8 L312 364.1 L312.5 364.3 L313 364.4 L313.5 364.6 L314 364.8 L314.5 365 L315 365.1 L315.5 365.3 L316 365.4 L316.5 365.5 L317 365.7 L317.5 365.8 L318 365.9 L318.5 366 L319 366.1 L319.5 366.2 L320 366.3 L320.5 366.4 L321 366.5 L321.5 366.5 L322 366.6 L322.5 366.7 L323 366.8 L323.5 366.8 L324 366.9 L324.5 366.9 L325 367 L325.5 367 L326 367.1 L326.5 367.1 L327 367.2 L327.5 367.2 L328 367.2 L328.5 367.3 L329 367.3 L329.5 367.3 L330 367.4 L330.5 367.4 L331 367.4 L331.5 367.4 L332 367.5 L332.5 367.5 L333 367.5 L333.5 367.5 L334 367.6 L334.5 367.6 L335 367.6 L335.5 367.6 L336 367.6 L336.5 367.6 L337 367.7 L337.5 367.7 L338 367.7 L338.5 367.7 L339 367.7 L339.5 367.7 L340 367.7" fill="none" stroke="#0000d8" stroke-width="2.5"/>
<path d="M34 355.4 L34.5 355.4 L35 355.4 L35.5 355.4 L36 355.4 L36.5 355.4 L37 355.4 L37.5 355.4 L38 355.4 L38.5 355.4 L39 355.4 L39.5 355.4 L40 355.4 L40.5 355.4 L41 355.4 L41.5 355.4 L42 355.4 L42.5 355.4 L43 355.4 L43.5 355.4 L44 355.4 L44.5 355.4 L45 355.4 L45.5 355.4 L46 355.4 L46.5 355.4 L47 355.4 L47.5 355.4 L48 355.4 L48.5 355.4 L49 355.4 L49.5 355.3 L50 355.3 L50.5 355.3 L51 355.3 L51.5 355.3 L52 355.3 L52.5 355.3 L53 355.3 L53.5 355.3 L54 355.3 L54.5 355.3 L55 355.3 L55.5 355.3 L56 355.3 L56.5 355.3 L57 355.3 L57.5 355.3 L58 355.3 L58.5 355.3 L59 355.3 L59.5 355.3 L60 355.3 L60.5 355.3 L61 355.3 L61.5 355.3 L62 355.3 L62.5 355.3 L63 355.3 L63.5 355.3 L64 355.3 L64.5 355.3 L65 355.3 L65.5 355.3 L66 355.3 L66.5 355.3 L67 355.3 L67.5 355.2 L68 355.2 L68.5 355.2 L69 355.2 L69.5 355.2 L70 355.2 L70.5 355.2 L71 355.2 L71.5 355.2 L72 355.2 L72.5 355.2 L73 355.2 L73.5 355.2 L74 355.2 L74.5 355.2 L75 355.2 L75.5 355.2 L76 355.2 L76.5 355.2 L77 355.2 L77.5 355.2 L78 355.2 L78.5 355.1 L79 355.1 L79.5 355.1 L80 355.1 L80.5 355.1 L81 355.1 L81.5 355.1 L82 355.1 L82.5 355.1 L83 355.1 L83.5 355.1 L84 355.1 L84.5 355.1 L85 355.1 L85.5 355 L86 355 L86.5 355 L87 355 L87.5 355 L88 355 L88.5 355 L89 355 L89.5 354.9 L90 354.9 L90.5 354.9 L91 354.9 L91.5 354.9 L92 354.9 L92.5 354.8 L93 354.8 L93.5 354.8 L94 354.8 L94.5 354.8 L95 354.7 L95.5 354.7 L96 354.7 L96.5 354.6 L97 354.6 L97.5 354.6 L98 354.5 L98.5 354.5 L99 354.5 L99.5 354.4 L100 354.4 L100.5 354.3 L101 354.3 L101.5 354.2 L102 354.2 L102.5 354.1 L103 354 L103.5 354 L104 353.9 L104.5 353.8 L105 353.7 L105.5 353.7 L106 353.6 L106.5 353.5 L107 353.4 L107.5 353.3 L108 353.2 L108.5 353.1 L109 352.9 L109.5 352.8 L110 352.7 L110.5 352.5 L111 352.4 L111.5 352.2 L112 352.1 L112.5 351.9 L113 351.7 L113.5 351.5 L114 351.3 L114.5 351.1 L115 350.9 L115.5 350.6 L116 350.4 L116.5 350.2 L117 349.9 L117.5 349.6 L118 349.3 L118.5 349 L119 348.7 L119.5 348.4 L120 348 L120.5 347.7 L121 347.3 L121.5 346.9 L122 346.5 L122.5 346.1 L123 345.7 L123.5 345.2 L124 344.8 L124.5 344.3 L125 343.8 L125.5 343.3 L126 342.7 L126.5 342.2 L127 341.6 L127.5 341 L128 340.4 L128.5 339.8 L129 339.1 L129.5 338.5 L130 337.8 L130.5 337.1 L131 336.3 L131.5 335.6 L132 334.8 L132.5 334 L133 333.2 L133.5 332.4 L134 331.6 L134.5 330.7 L135 329.8 L135.5 328.9 L136 328 L136.5 327 L137 326.1 L137.5 325.1 L138 324.1 L138.5 323.1 L139 322.1 L139.5 321 L140 320 L140.5 318.9 L141 317.8 L141.5 316.7 L142 315.6 L142.5 314.5 L143 313.3 L143.5 312.2 L144 311 L144.5 309.9 L145 308.7 L145.5 307.5 L146 306.3 L146.5 305.2 L147 304 L147.5 302.8 L148 301.6 L148.5 300.4 L149 299.2 L149.5 298.1 L150 296.9 L150.5 295.7 L151 294.6 L151.5 293.4 L152 292.3 L152.5 291.1 L153 290 L153.5 288.9 L154 287.9 L154.5 286.8 L155 285.7 L155.5 284.7 L156 283.7 L156.5 282.8 L157 281.8 L157.5 280.9 L158 280 L158.5 279.1 L159 278.3 L159.5 277.5 L160 276.7 L160.5 276 L161 275.3 L161.5 274.7 L162 274 L162.5 273.5 L163 272.9 L163.5 272.4 L164 272 L164.5 271.6 L165 271.2 L165.5 270.9 L166 270.6 L166.5 270.4 L167 270.2 L167.5 270.1 L168 270 L168.5 269.9 L169 270 L169.5 270 L170 270.1 L170.5 270.3 L171 270.4 L171.5 270.7 L172 271 L172.5 271.3 L173 271.7 L173.5 272.1 L174 272.6 L174.5 273.1 L175 273.6 L175.5 274.2 L176 274.8 L176.5 275.5 L177 276.2 L177.5 276.9 L178 277.6 L178.5 278.4 L179 279.3 L179.5 280.1 L180 281 L180.5 281.9 L181 282.8 L181.5 283.8 L182 284.8 L182.5 285.8 L183 286.8 L183.5 287.8 L184 288.9 L184.5 289.9 L185 291 L185.5 292.1 L186 293.1 L186.5 294.2 L187 295.3 L187.5 296.4 L188 297.5 L188.5 298.6 L189 299.7 L189.5 300.8 L190 301.9 L190.5 302.9 L191 304 L191.5 305 L192 306.1 L192.5 307.1 L193 308.1 L193.5 309.1 L194 310 L194.5 311 L195 311.9 L195.5 312.8 L196 313.7 L196.5 314.5 L197 315.3 L197.5 316.1 L198 316.9 L198.5 317.6 L199 318.3 L199.5 319 L200 319.6 L200.5 320.2 L201 320.7 L201.5 321.2 L202 321.7 L202.5 322.1 L203 322.5 L203.5 322.9 L204 323.2 L204.5 323.4 L205 323.7 L205.5 323.8 L206 324 L206.5 324.1 L207 324.1 L207.5 324.1 L208 324.1 L208.5 324 L209 323.8 L209.5 323.6 L210 323.4 L210.5 323.1 L211 322.8 L211.5 322.4 L212 322 L212.5 321.5 L213 321 L213.5 320.4 L214 319.8 L214.5 319.2 L215 318.5 L215.5 317.7 L216 316.9 L216.5 316.1 L217 315.2 L217.5 314.3 L218 313.3 L218.5 312.3 L219 311.3 L219.5 310.2 L220 309.1 L220.5 307.9 L221 306.7 L221.5 305.5 L222 304.2 L222.5 302.9 L223 301.6 L223.5 300.2 L224 298.8 L224.5 297.4 L225 295.9 L225.5 294.5 L226 293 L226.5 291.5 L227 289.9 L227.5 288.4 L228 286.8 L228.5 285.2 L229 283.6 L229.5 282 L230 280.4 L230.5 278.8 L231 277.2 L231.5 275.5 L232 273.9 L232.5 272.3 L233 270.7 L233.5 269.1 L234 267.5 L234.5 265.9 L235 264.3 L235.5 262.7 L236 261.2 L236.5 259.7 L237 258.2 L237.5 256.7 L238 255.2 L238.5 253.8 L239 252.4 L239.5 251.1 L240 249.7 L240.5 248.5 L241 247.2 L241.5 246 L242 244.9 L242.5 243.8 L243 242.7 L243.5 241.7 L244 240.7 L244.5 239.8 L245 239 L245.5 238.2 L246 237.4 L246.5 236.8 L247 236.1 L247.5 235.6 L248 235.1 L248.5 234.7 L249 234.3 L249.5 234 L250 233.8 L250.5 233.6 L251 233.5 L251.5 233.5 L252 233.6 L252.5 233.7 L253 233.9 L253.5 234.1 L254 234.4 L254.5 234.8 L255 235.3 L255.5 235.8 L256 236.3 L256.5 237 L257 237.7 L257.5 238.5 L258 239.3 L258.5 240.2 L259 241.1 L259.5 242.1 L260 243.2 L260.5 244.3 L261 245.5 L261.5 246.7 L262 248 L262.5 249.3 L263 250.6 L263.5 252 L264 253.5 L264.5 255 L265 256.5 L265.5 258 L266 259.6 L266.5 261.2 L267 262.9 L267.5 264.5 L268 266.2 L268.5 267.9 L269 269.7 L269.5 271.4 L270 273.2 L270.5 274.9 L271 276.7 L271.5 278.5 L272 280.3 L272.5 282.2 L273 284 L273.5 285.8 L274 287.6 L274.5 289.4 L275 291.2 L275.5 293 L276 294.8 L276.5 296.6 L277 298.4 L277.5 300.2 L278 301.9 L278.5 303.7 L279 305.4 L279.5 307.1 L280 308.8 L280.5 310.4 L281 312.1 L281.5 313.7 L282 315.3 L282.5 316.9 L283 318.5 L283.5 320 L284 321.5 L284.5 323 L285 324.4 L285.5 325.9 L286 327.3 L286.5 328.6 L287 330 L287.5 331.3 L288 332.6 L288.5 333.8 L289 335 L289.5 336.2 L290 337.4 L290.5 338.5 L291 339.6 L291.5 340.7 L292 341.8 L292.5 342.8 L293 343.8 L293.5 344.7 L294 345.7 L294.5 346.6 L295 347.4 L295.5 348.3 L296 349.1 L296.5 349.9 L297 350.7 L297.5 351.4 L298 352.1 L298.5 352.8 L299 353.5 L299.5 354.1 L300 354.7 L300.5 355.3 L301 355.9 L301.5 356.4 L302 357 L302.5 357.5 L303 358 L303.5 358.4 L304 358.9 L304.5 359.3 L305 359.7 L305.5 360.1 L306 360.5 L306.5 360.9 L307 361.2 L307.5 361.5 L308 361.8 L308.5 362.1 L309 362.4 L309.5 362.7 L310 363 L310.5 363.2 L311 363.4 L311.5 363.7 L312 363.9 L312.5 364.1 L313 364.3 L313.5 364.5 L314 364.6 L314.5 364.8 L315 365 L315.5 365.1 L316 365.3 L316.5 365.4 L317 365.5 L317.5 365.6 L318 365.8 L318.5 365.9 L319 366 L319.5 366.1 L320 366.2 L320.5 366.2 L321 366.3 L321.5 366.4 L322 366.5 L322.5 366.5 L323 366.6 L323.5 366.7 L324 366.7 L324.5 366.8 L325 366.8 L325.5 366.9 L326 366.9 L326.5 367 L327 367 L327.5 367.1 L328 367.1 L328.5 367.1 L329 367.2 L329.5 367.2 L330 367.2 L330.5 367.3 L331 367.3 L331.5 367.3 L332 367.3 L332.5 367.4 L333 367.4 L333.5 367.4 L334 367.4 L334.5 367.5 L335 367.5 L335.5 367.5 L336 367.5 L336.5 367.5 L337 367.5 L337.5 367.5 L338 367.6 L338.5 367.6 L339 367.6 L339.5 367.6 L340 367.6" fill="none" stroke="#0000d8" stroke-width="3.4" stroke-linejoin="round"/>
<g fill="none" stroke="#e01818" stroke-width="1.3"><circle cx="35" cy="495.4" r="4.6"/><circle cx="38.1" cy="496.3" r="4.6"/><circle cx="41.2" cy="494.5" r="4.6"/><circle cx="44.3" cy="496" r="4.6"/><circle cx="47.4" cy="495" r="4.6"/><circle cx="50.5" cy="495" r="4.6"/><circle cx="53.6" cy="496.7" r="4.6"/><circle cx="56.7" cy="495.3" r="4.6"/><circle cx="59.8" cy="495.1" r="4.6"/><circle cx="62.9" cy="495.6" r="4.6"/><circle cx="66" cy="495.9" r="4.6"/><circle cx="69.1" cy="494.8" r="4.6"/><circle cx="72.2" cy="495.2" r="4.6"/><circle cx="75.3" cy="493.7" r="4.6"/><circle cx="78.4" cy="493.8" r="4.6"/><circle cx="81.5" cy="493.3" r="4.6"/><circle cx="84.6" cy="492" r="4.6"/><circle cx="87.7" cy="491" r="4.6"/><circle cx="90.8" cy="489.6" r="4.6"/><circle cx="93.9" cy="489.1" r="4.6"/><circle cx="97" cy="487.1" r="4.6"/><circle cx="100.1" cy="484.4" r="4.6"/><circle cx="103.2" cy="481.5" r="4.6"/><circle cx="106.3" cy="475.8" r="4.6"/><circle cx="109.4" cy="472.1" r="4.6"/><circle cx="112.5" cy="467" r="4.6"/><circle cx="115.6" cy="461.4" r="4.6"/><circle cx="118.7" cy="453.7" r="4.6"/><circle cx="121.8" cy="446.2" r="4.6"/><circle cx="124.9" cy="438.1" r="4.6"/><circle cx="128" cy="432.8" r="4.6"/><circle cx="131.1" cy="425.5" r="4.6"/><circle cx="134.2" cy="421.1" r="4.6"/><circle cx="137.3" cy="418.7" r="4.6"/><circle cx="140.4" cy="413.9" r="4.6"/><circle cx="143.5" cy="415.7" r="4.6"/><circle cx="146.6" cy="416.4" r="4.6"/><circle cx="149.7" cy="418.5" r="4.6"/><circle cx="152.8" cy="423.8" r="4.6"/><circle cx="155.9" cy="429.1" r="4.6"/><circle cx="159" cy="435.4" r="4.6"/><circle cx="162.1" cy="440.5" r="4.6"/><circle cx="165.2" cy="446.3" r="4.6"/><circle cx="168.3" cy="452.9" r="4.6"/><circle cx="171.4" cy="457.5" r="4.6"/><circle cx="174.5" cy="462" r="4.6"/><circle cx="177.6" cy="463.9" r="4.6"/><circle cx="180.7" cy="466.5" r="4.6"/><circle cx="183.8" cy="463.6" r="4.6"/><circle cx="186.9" cy="462" r="4.6"/><circle cx="190" cy="458.5" r="4.6"/><circle cx="193.1" cy="452.5" r="4.6"/><circle cx="196.2" cy="449.3" r="4.6"/><circle cx="199.3" cy="437.1" r="4.6"/><circle cx="202.4" cy="430.5" r="4.6"/><circle cx="205.5" cy="421.6" r="4.6"/><circle cx="208.6" cy="414.6" r="4.6"/><circle cx="211.7" cy="403.3" r="4.6"/><circle cx="214.8" cy="396.9" r="4.6"/><circle cx="217.9" cy="389.2" r="4.6"/><circle cx="221" cy="385" r="4.6"/><circle cx="224.1" cy="381.8" r="4.6"/><circle cx="227.2" cy="382" r="4.6"/><circle cx="230.3" cy="382.3" r="4.6"/><circle cx="233.4" cy="386.9" r="4.6"/><circle cx="236.5" cy="392.7" r="4.6"/><circle cx="239.6" cy="401" r="4.6"/><circle cx="242.7" cy="406" r="4.6"/><circle cx="245.8" cy="419.9" r="4.6"/><circle cx="248.9" cy="429.1" r="4.6"/><circle cx="252" cy="437.7" r="4.6"/><circle cx="255.1" cy="447.8" r="4.6"/><circle cx="258.2" cy="456.1" r="4.6"/><circle cx="261.3" cy="467.4" r="4.6"/><circle cx="264.4" cy="473.5" r="4.6"/><circle cx="267.5" cy="479.6" r="4.6"/><circle cx="270.6" cy="485" r="4.6"/><circle cx="273.7" cy="489.6" r="4.6"/><circle cx="276.8" cy="494" r="4.6"/><circle cx="279.9" cy="496.3" r="4.6"/><circle cx="283" cy="501" r="4.6"/><circle cx="286.1" cy="499.6" r="4.6"/><circle cx="289.2" cy="499.6" r="4.6"/><circle cx="292.3" cy="503.6" r="4.6"/><circle cx="295.4" cy="504.3" r="4.6"/><circle cx="298.5" cy="505.2" r="4.6"/><circle cx="301.6" cy="505.1" r="4.6"/><circle cx="304.7" cy="505.5" r="4.6"/><circle cx="307.8" cy="506.1" r="4.6"/><circle cx="310.9" cy="506.7" r="4.6"/><circle cx="314" cy="505.7" r="4.6"/><circle cx="317.1" cy="505.8" r="4.6"/><circle cx="320.2" cy="507.7" r="4.6"/><circle cx="323.3" cy="506.7" r="4.6"/><circle cx="326.4" cy="505.5" r="4.6"/><circle cx="329.5" cy="508.2" r="4.6"/><circle cx="332.6" cy="507" r="4.6"/><circle cx="335.7" cy="505.9" r="4.6"/><circle cx="338.8" cy="505.5" r="4.6"/></g>
<path d="M34 497.3 L35 497.3 L36 497.3 L37 497.3 L38 497.3 L39 497.3 L40 497.3 L41 497.3 L42 497.3 L43 497.3 L44 497.3 L45 497.3 L46 497.3 L47 497.3 L48 497.3 L49 497.3 L50 497.3 L51 497.3 L52 497.3 L53 497.3 L54 497.3 L55 497.3 L56 497.3 L57 497.3 L58 497.3 L59 497.3 L60 497.3 L61 497.3 L62 497.3 L63 497.3 L64 497.3 L65 497.3 L66 497.3 L67 497.3 L68 497.3 L69 497.3 L70 497.3 L71 497.3 L72 497.3 L73 497.3 L74 497.3 L75 497.3 L76 497.3 L77 497.3 L78 497.3 L79 497.3 L80 497.3 L81 497.3 L82 497.3 L83 497.3 L84 497.3 L85 497.3 L86 497.3 L87 497.3 L88 497.4 L89 497.4 L90 497.4 L91 497.4 L92 497.4 L93 497.4 L94 497.4 L95 497.4 L96 497.4 L97 497.4 L98 497.4 L99 497.4 L100 497.4 L101 497.4 L102 497.5 L103 497.5 L104 497.5 L105 497.5 L106 497.5 L107 497.5 L108 497.6 L109 497.6 L110 497.6 L111 497.6 L112 497.7 L113 497.7 L114 497.7 L115 497.7 L116 497.8 L117 497.8 L118 497.9 L119 497.9 L120 497.9 L121 498 L122 498 L123 498.1 L124 498.1 L125 498.2 L126 498.2 L127 498.3 L128 498.4 L129 498.4 L130 498.5 L131 498.5 L132 498.6 L133 498.7 L134 498.8 L135 498.8 L136 498.9 L137 499 L138 499.1 L139 499.1 L140 499.2 L141 499.3 L142 499.4 L143 499.5 L144 499.5 L145 499.6 L146 499.7 L147 499.8 L148 499.9 L149 499.9 L150 500 L151 500.1 L152 500.2 L153 500.2 L154 500.3 L155 500.4 L156 500.4 L157 500.5 L158 500.6 L159 500.6 L160 500.7 L161 500.8 L162 500.8 L163 500.9 L164 500.9 L165 501 L166 501 L167 501.1 L168 501.1 L169 501.2 L170 501.2 L171 501.3 L172 501.3 L173 501.3 L174 501.4 L175 501.4 L176 501.4 L177 501.5 L178 501.5 L179 501.6 L180 501.6 L181 501.6 L182 501.7 L183 501.7 L184 501.7 L185 501.8 L186 501.8 L187 501.8 L188 501.9 L189 501.9 L190 501.9 L191 502 L192 502 L193 502.1 L194 502.1 L195 502.2 L196 502.2 L197 502.3 L198 502.3 L199 502.4 L200 502.4 L201 502.5 L202 502.6 L203 502.6 L204 502.7 L205 502.8 L206 502.8 L207 502.9 L208 503 L209 503.1 L210 503.2 L211 503.3 L212 503.4 L213 503.5 L214 503.6 L215 503.7 L216 503.8 L217 503.9 L218 504 L219 504.1 L220 504.2 L221 504.3 L222 504.4 L223 504.6 L224 504.7 L225 504.8 L226 504.9 L227 505 L228 505.1 L229 505.3 L230 505.4 L231 505.5 L232 505.6 L233 505.7 L234 505.8 L235 505.9 L236 506.1 L237 506.2 L238 506.3 L239 506.4 L240 506.5 L241 506.6 L242 506.7 L243 506.8 L244 506.9 L245 507 L246 507 L247 507.1 L248 507.2 L249 507.3 L250 507.3 L251 507.4 L252 507.5 L253 507.5 L254 507.6 L255 507.7 L256 507.7 L257 507.8 L258 507.8 L259 507.9 L260 507.9 L261 508 L262 508 L263 508 L264 508.1 L265 508.1 L266 508.1 L267 508.2 L268 508.2 L269 508.2 L270 508.2 L271 508.3 L272 508.3 L273 508.3 L274 508.3 L275 508.3 L276 508.3 L277 508.3 L278 508.4 L279 508.4 L280 508.4 L281 508.4 L282 508.4 L283 508.4 L284 508.4 L285 508.4 L286 508.4 L287 508.4 L288 508.4 L289 508.4 L290 508.4 L291 508.4 L292 508.4 L293 508.5 L294 508.5 L295 508.5 L296 508.5 L297 508.5 L298 508.5 L299 508.5 L300 508.5 L301 508.5 L302 508.5 L303 508.5 L304 508.5 L305 508.5 L306 508.5 L307 508.5 L308 508.5 L309 508.5 L310 508.5 L311 508.5 L312 508.5 L313 508.5 L314 508.5 L315 508.5 L316 508.5 L317 508.5 L318 508.5 L319 508.5 L320 508.5 L321 508.5 L322 508.5 L323 508.5 L324 508.5 L325 508.5 L326 508.5 L327 508.5 L328 508.5 L329 508.5 L330 508.5 L331 508.5 L332 508.5 L333 508.5 L334 508.5 L335 508.5 L336 508.5 L337 508.5 L338 508.5 L339 508.5 L340 508.5" fill="none" stroke="#111" stroke-width="1.3"/>
<path d="M34 497.3L37 492.3L40 497.3ZM40.4 497.3L43.4 492.3L46.4 497.3ZM46.8 497.3L49.8 492.3L52.8 497.3ZM53.2 497.3L56.2 492.3L59.2 497.3ZM59.6 497.3L62.6 492.3L65.6 497.3ZM66 497.3L69 492.3L72 497.3ZM72.4 497.3L75.4 492.3L78.4 497.3ZM78.8 497.3L81.8 492.3L84.8 497.3ZM85.2 497.4L88.2 492.4L91.2 497.4ZM91.6 497.4L94.6 492.4L97.6 497.4ZM98 497.4L101 492.4L104 497.4ZM104.4 497.5L107.4 492.5L110.4 497.5ZM110.8 497.7L113.8 492.7L116.8 497.7ZM117.2 497.9L120.2 492.9L123.2 497.9ZM123.6 498.3L126.6 493.3L129.6 498.3ZM130 498.7L133 493.7L136 498.7ZM136.4 499.2L139.4 494.2L142.4 499.2ZM142.8 499.7L145.8 494.7L148.8 499.7ZM149.2 500.2L152.2 495.2L155.2 500.2ZM155.6 500.6L158.6 495.6L161.6 500.6ZM162 501L165 496L168 501ZM168.4 501.3L171.4 496.3L174.4 501.3ZM174.8 501.5L177.8 496.5L180.8 501.5ZM181.2 501.7L184.2 496.7L187.2 501.7ZM187.6 502L190.6 497L193.6 502ZM194 502.3L197 497.3L200 502.3ZM200.4 502.7L203.4 497.7L206.4 502.7ZM206.8 503.2L209.8 498.2L212.8 503.2ZM213.2 503.8L216.2 498.8L219.2 503.8ZM219.6 504.5L222.6 499.5L225.6 504.5ZM226 505.3L229 500.3L232 505.3ZM232.4 506L235.4 501L238.4 506ZM238.8 506.7L241.8 501.7L244.8 506.7ZM245.2 507.2L248.2 502.2L251.2 507.2ZM251.6 507.6L254.6 502.6L257.6 507.6ZM258 508L261 503L264 508ZM264.4 508.2L267.4 503.2L270.4 508.2ZM270.8 508.3L273.8 503.3L276.8 508.3ZM277.2 508.4L280.2 503.4L283.2 508.4ZM283.6 508.4L286.6 503.4L289.6 508.4ZM290 508.5L293 503.5L296 508.5ZM296.4 508.5L299.4 503.5L302.4 508.5ZM302.8 508.5L305.8 503.5L308.8 508.5ZM309.2 508.5L312.2 503.5L315.2 508.5ZM315.6 508.5L318.6 503.5L321.6 508.5ZM322 508.5L325 503.5L328 508.5ZM328.4 508.5L331.4 503.5L334.4 508.5ZM334.8 508.5L337.8 503.5L340.8 508.5Z" fill="none" stroke="#111" stroke-width="1.1"/>
<path d="M34 495.5 L34.5 495.5 L35 495.5 L35.5 495.4 L36 495.4 L36.5 495.4 L37 495.4 L37.5 495.4 L38 495.4 L38.5 495.4 L39 495.4 L39.5 495.4 L40 495.4 L40.5 495.4 L41 495.4 L41.5 495.4 L42 495.4 L42.5 495.4 L43 495.4 L43.5 495.4 L44 495.4 L44.5 495.4 L45 495.4 L45.5 495.4 L46 495.4 L46.5 495.4 L47 495.4 L47.5 495.4 L48 495.4 L48.5 495.4 L49 495.4 L49.5 495.4 L50 495.4 L50.5 495.4 L51 495.4 L51.5 495.4 L52 495.4 L52.5 495.4 L53 495.3 L53.5 495.3 L54 495.3 L54.5 495.3 L55 495.3 L55.5 495.3 L56 495.3 L56.5 495.3 L57 495.3 L57.5 495.3 L58 495.3 L58.5 495.3 L59 495.3 L59.5 495.3 L60 495.3 L60.5 495.3 L61 495.3 L61.5 495.2 L62 495.2 L62.5 495.2 L63 495.2 L63.5 495.2 L64 495.2 L64.5 495.2 L65 495.2 L65.5 495.2 L66 495.1 L66.5 495.1 L67 495.1 L67.5 495.1 L68 495.1 L68.5 495.1 L69 495 L69.5 495 L70 495 L70.5 495 L71 495 L71.5 494.9 L72 494.9 L72.5 494.9 L73 494.8 L73.5 494.8 L74 494.8 L74.5 494.7 L75 494.7 L75.5 494.7 L76 494.6 L76.5 494.6 L77 494.5 L77.5 494.5 L78 494.4 L78.5 494.4 L79 494.3 L79.5 494.2 L80 494.2 L80.5 494.1 L81 494 L81.5 493.9 L82 493.8 L82.5 493.7 L83 493.6 L83.5 493.5 L84 493.4 L84.5 493.3 L85 493.2 L85.5 493.1 L86 492.9 L86.5 492.8 L87 492.6 L87.5 492.5 L88 492.3 L88.5 492.1 L89 492 L89.5 491.8 L90 491.6 L90.5 491.4 L91 491.1 L91.5 490.9 L92 490.7 L92.5 490.4 L93 490.1 L93.5 489.9 L94 489.6 L94.5 489.3 L95 488.9 L95.5 488.6 L96 488.3 L96.5 487.9 L97 487.5 L97.5 487.2 L98 486.7 L98.5 486.3 L99 485.9 L99.5 485.4 L100 485 L100.5 484.5 L101 484 L101.5 483.5 L102 482.9 L102.5 482.4 L103 481.8 L103.5 481.2 L104 480.6 L104.5 479.9 L105 479.3 L105.5 478.6 L106 477.9 L106.5 477.2 L107 476.5 L107.5 475.7 L108 475 L108.5 474.2 L109 473.4 L109.5 472.5 L110 471.7 L110.5 470.8 L111 469.9 L111.5 469 L112 468.1 L112.5 467.2 L113 466.2 L113.5 465.3 L114 464.3 L114.5 463.3 L115 462.3 L115.5 461.2 L116 460.2 L116.5 459.2 L117 458.1 L117.5 457 L118 455.9 L118.5 454.8 L119 453.7 L119.5 452.6 L120 451.5 L120.5 450.4 L121 449.2 L121.5 448.1 L122 447 L122.5 445.8 L123 444.7 L123.5 443.6 L124 442.4 L124.5 441.3 L125 440.2 L125.5 439.1 L126 438 L126.5 436.9 L127 435.8 L127.5 434.8 L128 433.7 L128.5 432.7 L129 431.7 L129.5 430.7 L130 429.7 L130.5 428.7 L131 427.8 L131.5 426.9 L132 426 L132.5 425.2 L133 424.4 L133.5 423.6 L134 422.8 L134.5 422.1 L135 421.4 L135.5 420.7 L136 420.1 L136.5 419.5 L137 419 L137.5 418.5 L138 418 L138.5 417.6 L139 417.2 L139.5 416.9 L140 416.6 L140.5 416.4 L141 416.2 L141.5 416 L142 415.9 L142.5 415.9 L143 415.9 L143.5 415.9 L144 416 L144.5 416.1 L145 416.3 L145.5 416.5 L146 416.8 L146.5 417.1 L147 417.4 L147.5 417.8 L148 418.3 L148.5 418.8 L149 419.3 L149.5 419.9 L150 420.5 L150.5 421.1 L151 421.8 L151.5 422.5 L152 423.3 L152.5 424.1 L153 424.9 L153.5 425.8 L154 426.7 L154.5 427.6 L155 428.5 L155.5 429.5 L156 430.5 L156.5 431.5 L157 432.5 L157.5 433.6 L158 434.7 L158.5 435.8 L159 436.9 L159.5 438 L160 439.1 L160.5 440.3 L161 441.4 L161.5 442.6 L162 443.8 L162.5 444.9 L163 446.1 L163.5 447.3 L164 448.5 L164.5 449.7 L165 450.9 L165.5 452 L166 453.2 L166.5 454.4 L167 455.5 L167.5 456.7 L168 457.9 L168.5 459 L169 460.1 L169.5 461.2 L170 462.4 L170.5 463.5 L171 464.5 L171.5 465.6 L172 466.7 L172.5 467.7 L173 468.7 L173.5 469.7 L174 470.7 L174.5 471.7 L175 472.6 L175.5 473.6 L176 474.5 L176.5 475.4 L177 476.3 L177.5 477.1 L178 478 L178.5 478.8 L179 479.6 L179.5 480.4 L180 481.1 L180.5 481.9 L181 482.6 L181.5 483.3 L182 484 L182.5 484.6 L183 485.3 L183.5 485.9 L184 486.5 L184.5 487.1 L185 487.6 L185.5 488.2 L186 488.7 L186.5 489.2 L187 489.7 L187.5 490.2 L188 490.7 L188.5 491.1 L189 491.6 L189.5 492 L190 492.4 L190.5 492.8 L191 493.1 L191.5 493.5 L192 493.8 L192.5 494.2 L193 494.5 L193.5 494.8 L194 495.1 L194.5 495.4 L195 495.6 L195.5 495.9 L196 496.2 L196.5 496.4 L197 496.6 L197.5 496.9 L198 497.1 L198.5 497.3 L199 497.5 L199.5 497.7 L200 497.9 L200.5 498 L201 498.2 L201.5 498.4 L202 498.5 L202.5 498.7 L203 498.8 L203.5 499 L204 499.1 L204.5 499.2 L205 499.3 L205.5 499.5 L206 499.6 L206.5 499.7 L207 499.8 L207.5 499.9 L208 500 L208.5 500.1 L209 500.2 L209.5 500.3 L210 500.4 L210.5 500.5 L211 500.6 L211.5 500.7 L212 500.8 L212.5 500.9 L213 501 L213.5 501 L214 501.1 L214.5 501.2 L215 501.3 L215.5 501.4 L216 501.4 L216.5 501.5 L217 501.6 L217.5 501.7 L218 501.7 L218.5 501.8 L219 501.9 L219.5 501.9 L220 502 L220.5 502.1 L221 502.2 L221.5 502.2 L222 502.3 L222.5 502.4 L223 502.4 L223.5 502.5 L224 502.6 L224.5 502.6 L225 502.7 L225.5 502.8 L226 502.9 L226.5 502.9 L227 503 L227.5 503.1 L228 503.1 L228.5 503.2 L229 503.2 L229.5 503.3 L230 503.4 L230.5 503.4 L231 503.5 L231.5 503.6 L232 503.6 L232.5 503.7 L233 503.8 L233.5 503.8 L234 503.9 L234.5 503.9 L235 504 L235.5 504.1 L236 504.1 L236.5 504.2 L237 504.2 L237.5 504.3 L238 504.3 L238.5 504.4 L239 504.5 L239.5 504.5 L240 504.6 L240.5 504.6 L241 504.7 L241.5 504.7 L242 504.8 L242.5 504.8 L243 504.9 L243.5 504.9 L244 505 L244.5 505 L245 505.1 L245.5 505.1 L246 505.2 L246.5 505.2 L247 505.2 L247.5 505.3 L248 505.3 L248.5 505.4 L249 505.4 L249.5 505.5 L250 505.5 L250.5 505.5 L251 505.6 L251.5 505.6 L252 505.6 L252.5 505.7 L253 505.7 L253.5 505.7 L254 505.8 L254.5 505.8 L255 505.8 L255.5 505.9 L256 505.9 L256.5 505.9 L257 506 L257.5 506 L258 506 L258.5 506 L259 506.1 L259.5 506.1 L260 506.1 L260.5 506.1 L261 506.1 L261.5 506.2 L262 506.2 L262.5 506.2 L263 506.2 L263.5 506.2 L264 506.3 L264.5 506.3 L265 506.3 L265.5 506.3 L266 506.3 L266.5 506.4 L267 506.4 L267.5 506.4 L268 506.4 L268.5 506.4 L269 506.4 L269.5 506.4 L270 506.4 L270.5 506.5 L271 506.5 L271.5 506.5 L272 506.5 L272.5 506.5 L273 506.5 L273.5 506.5 L274 506.5 L274.5 506.5 L275 506.6 L275.5 506.6 L276 506.6 L276.5 506.6 L277 506.6 L277.5 506.6 L278 506.6 L278.5 506.6 L279 506.6 L279.5 506.6 L280 506.6 L280.5 506.6 L281 506.6 L281.5 506.6 L282 506.6 L282.5 506.6 L283 506.7 L283.5 506.7 L284 506.7 L284.5 506.7 L285 506.7 L285.5 506.7 L286 506.7 L286.5 506.7 L287 506.7 L287.5 506.7 L288 506.7 L288.5 506.7 L289 506.7 L289.5 506.7 L290 506.7 L290.5 506.7 L291 506.7 L291.5 506.7 L292 506.7 L292.5 506.7 L293 506.7 L293.5 506.7 L294 506.7 L294.5 506.7 L295 506.7 L295.5 506.7 L296 506.7 L296.5 506.7 L297 506.7 L297.5 506.7 L298 506.7 L298.5 506.7 L299 506.7 L299.5 506.7 L300 506.7 L300.5 506.7 L301 506.7 L301.5 506.8 L302 506.8 L302.5 506.8 L303 506.8 L303.5 506.8 L304 506.8 L304.5 506.8 L305 506.8 L305.5 506.8 L306 506.8 L306.5 506.8 L307 506.8 L307.5 506.8 L308 506.8 L308.5 506.8 L309 506.8 L309.5 506.8 L310 506.8 L310.5 506.8 L311 506.8 L311.5 506.8 L312 506.8 L312.5 506.8 L313 506.8 L313.5 506.8 L314 506.8 L314.5 506.8 L315 506.8 L315.5 506.8 L316 506.8 L316.5 506.8 L317 506.8 L317.5 506.8 L318 506.8 L318.5 506.8 L319 506.8 L319.5 506.8 L320 506.8 L320.5 506.8 L321 506.8 L321.5 506.8 L322 506.8 L322.5 506.8 L323 506.8 L323.5 506.8 L324 506.8 L324.5 506.8 L325 506.8 L325.5 506.8 L326 506.8 L326.5 506.8 L327 506.8 L327.5 506.8 L328 506.8 L328.5 506.8 L329 506.8 L329.5 506.8 L330 506.8 L330.5 506.8 L331 506.8 L331.5 506.8 L332 506.8 L332.5 506.8 L333 506.8 L333.5 506.8 L334 506.8 L334.5 506.8 L335 506.8 L335.5 506.8 L336 506.8 L336.5 506.8 L337 506.8 L337.5 506.8 L338 506.8 L338.5 506.8 L339 506.8 L339.5 506.8 L340 506.8" fill="none" stroke="#8010ee" stroke-width="2.5"/>
<path d="M34 495.6 L34.5 495.6 L35 495.6 L35.5 495.6 L36 495.6 L36.5 495.6 L37 495.6 L37.5 495.6 L38 495.6 L38.5 495.6 L39 495.6 L39.5 495.6 L40 495.6 L40.5 495.6 L41 495.6 L41.5 495.6 L42 495.6 L42.5 495.6 L43 495.6 L43.5 495.5 L44 495.5 L44.5 495.5 L45 495.5 L45.5 495.5 L46 495.5 L46.5 495.5 L47 495.5 L47.5 495.5 L48 495.5 L48.5 495.5 L49 495.5 L49.5 495.5 L50 495.5 L50.5 495.5 L51 495.5 L51.5 495.5 L52 495.5 L52.5 495.5 L53 495.5 L53.5 495.5 L54 495.5 L54.5 495.5 L55 495.5 L55.5 495.5 L56 495.5 L56.5 495.5 L57 495.5 L57.5 495.5 L58 495.5 L58.5 495.5 L59 495.5 L59.5 495.5 L60 495.5 L60.5 495.5 L61 495.5 L61.5 495.5 L62 495.5 L62.5 495.5 L63 495.5 L63.5 495.5 L64 495.5 L64.5 495.5 L65 495.5 L65.5 495.5 L66 495.5 L66.5 495.5 L67 495.5 L67.5 495.5 L68 495.5 L68.5 495.5 L69 495.5 L69.5 495.5 L70 495.5 L70.5 495.5 L71 495.5 L71.5 495.5 L72 495.5 L72.5 495.5 L73 495.5 L73.5 495.5 L74 495.5 L74.5 495.5 L75 495.5 L75.5 495.5 L76 495.5 L76.5 495.5 L77 495.5 L77.5 495.5 L78 495.5 L78.5 495.5 L79 495.5 L79.5 495.5 L80 495.5 L80.5 495.5 L81 495.5 L81.5 495.5 L82 495.5 L82.5 495.5 L83 495.5 L83.5 495.5 L84 495.5 L84.5 495.5 L85 495.5 L85.5 495.5 L86 495.5 L86.5 495.5 L87 495.5 L87.5 495.5 L88 495.5 L88.5 495.5 L89 495.5 L89.5 495.5 L90 495.5 L90.5 495.5 L91 495.5 L91.5 495.5 L92 495.5 L92.5 495.5 L93 495.5 L93.5 495.5 L94 495.5 L94.5 495.5 L95 495.5 L95.5 495.5 L96 495.5 L96.5 495.5 L97 495.5 L97.5 495.5 L98 495.5 L98.5 495.5 L99 495.5 L99.5 495.5 L100 495.5 L100.5 495.5 L101 495.5 L101.5 495.5 L102 495.5 L102.5 495.5 L103 495.5 L103.5 495.5 L104 495.5 L104.5 495.6 L105 495.6 L105.5 495.6 L106 495.6 L106.5 495.6 L107 495.6 L107.5 495.6 L108 495.6 L108.5 495.6 L109 495.6 L109.5 495.6 L110 495.6 L110.5 495.6 L111 495.6 L111.5 495.7 L112 495.7 L112.5 495.7 L113 495.7 L113.5 495.7 L114 495.7 L114.5 495.7 L115 495.7 L115.5 495.8 L116 495.8 L116.5 495.8 L117 495.8 L117.5 495.8 L118 495.8 L118.5 495.8 L119 495.9 L119.5 495.9 L120 495.9 L120.5 495.9 L121 495.9 L121.5 496 L122 496 L122.5 496 L123 496 L123.5 496 L124 496.1 L124.5 496.1 L125 496.1 L125.5 496.1 L126 496.1 L126.5 496.2 L127 496.2 L127.5 496.2 L128 496.2 L128.5 496.3 L129 496.3 L129.5 496.3 L130 496.3 L130.5 496.4 L131 496.4 L131.5 496.4 L132 496.5 L132.5 496.5 L133 496.5 L133.5 496.5 L134 496.6 L134.5 496.6 L135 496.6 L135.5 496.7 L136 496.7 L136.5 496.7 L137 496.7 L137.5 496.8 L138 496.8 L138.5 496.8 L139 496.8 L139.5 496.9 L140 496.9 L140.5 496.9 L141 496.9 L141.5 497 L142 497 L142.5 497 L143 497 L143.5 497.1 L144 497.1 L144.5 497.1 L145 497.1 L145.5 497.1 L146 497.2 L146.5 497.2 L147 497.2 L147.5 497.2 L148 497.2 L148.5 497.2 L149 497.2 L149.5 497.2 L150 497.2 L150.5 497.2 L151 497.2 L151.5 497.2 L152 497.2 L152.5 497.2 L153 497.2 L153.5 497.2 L154 497.1 L154.5 497.1 L155 497.1 L155.5 497 L156 497 L156.5 497 L157 496.9 L157.5 496.9 L158 496.8 L158.5 496.8 L159 496.7 L159.5 496.6 L160 496.5 L160.5 496.4 L161 496.4 L161.5 496.3 L162 496.2 L162.5 496 L163 495.9 L163.5 495.8 L164 495.6 L164.5 495.5 L165 495.3 L165.5 495.2 L166 495 L166.5 494.8 L167 494.6 L167.5 494.4 L168 494.2 L168.5 494 L169 493.7 L169.5 493.5 L170 493.2 L170.5 492.9 L171 492.6 L171.5 492.3 L172 492 L172.5 491.7 L173 491.3 L173.5 490.9 L174 490.5 L174.5 490.1 L175 489.7 L175.5 489.3 L176 488.8 L176.5 488.3 L177 487.8 L177.5 487.3 L178 486.8 L178.5 486.2 L179 485.7 L179.5 485.1 L180 484.5 L180.5 483.8 L181 483.2 L181.5 482.5 L182 481.8 L182.5 481 L183 480.3 L183.5 479.5 L184 478.7 L184.5 477.9 L185 477 L185.5 476.2 L186 475.3 L186.5 474.3 L187 473.4 L187.5 472.4 L188 471.4 L188.5 470.4 L189 469.4 L189.5 468.3 L190 467.2 L190.5 466.1 L191 464.9 L191.5 463.8 L192 462.6 L192.5 461.3 L193 460.1 L193.5 458.8 L194 457.6 L194.5 456.3 L195 454.9 L195.5 453.6 L196 452.2 L196.5 450.8 L197 449.4 L197.5 448 L198 446.6 L198.5 445.1 L199 443.7 L199.5 442.2 L200 440.7 L200.5 439.2 L201 437.7 L201.5 436.2 L202 434.6 L202.5 433.1 L203 431.5 L203.5 430 L204 428.4 L204.5 426.9 L205 425.3 L205.5 423.8 L206 422.2 L206.5 420.7 L207 419.2 L207.5 417.6 L208 416.1 L208.5 414.6 L209 413.1 L209.5 411.7 L210 410.2 L210.5 408.7 L211 407.3 L211.5 405.9 L212 404.5 L212.5 403.2 L213 401.9 L213.5 400.6 L214 399.3 L214.5 398.1 L215 396.9 L215.5 395.7 L216 394.6 L216.5 393.5 L217 392.4 L217.5 391.4 L218 390.5 L218.5 389.6 L219 388.7 L219.5 387.9 L220 387.1 L220.5 386.4 L221 385.7 L221.5 385.1 L222 384.5 L222.5 384 L223 383.5 L223.5 383.1 L224 382.8 L224.5 382.5 L225 382.3 L225.5 382.1 L226 382 L226.5 381.9 L227 381.9 L227.5 382 L228 382.1 L228.5 382.3 L229 382.5 L229.5 382.8 L230 383.2 L230.5 383.6 L231 384.1 L231.5 384.6 L232 385.2 L232.5 385.8 L233 386.5 L233.5 387.3 L234 388.1 L234.5 388.9 L235 389.8 L235.5 390.8 L236 391.8 L236.5 392.8 L237 393.9 L237.5 395 L238 396.2 L238.5 397.4 L239 398.6 L239.5 399.9 L240 401.2 L240.5 402.5 L241 403.9 L241.5 405.3 L242 406.7 L242.5 408.2 L243 409.7 L243.5 411.2 L244 412.7 L244.5 414.2 L245 415.8 L245.5 417.3 L246 418.9 L246.5 420.5 L247 422.1 L247.5 423.7 L248 425.3 L248.5 427 L249 428.6 L249.5 430.2 L250 431.8 L250.5 433.4 L251 435.1 L251.5 436.7 L252 438.3 L252.5 439.9 L253 441.5 L253.5 443.1 L254 444.6 L254.5 446.2 L255 447.8 L255.5 449.3 L256 450.8 L256.5 452.3 L257 453.8 L257.5 455.3 L258 456.7 L258.5 458.1 L259 459.6 L259.5 460.9 L260 462.3 L260.5 463.7 L261 465 L261.5 466.3 L262 467.5 L262.5 468.8 L263 470 L263.5 471.2 L264 472.4 L264.5 473.6 L265 474.7 L265.5 475.8 L266 476.9 L266.5 477.9 L267 478.9 L267.5 479.9 L268 480.9 L268.5 481.9 L269 482.8 L269.5 483.7 L270 484.5 L270.5 485.4 L271 486.2 L271.5 487 L272 487.8 L272.5 488.5 L273 489.3 L273.5 490 L274 490.7 L274.5 491.3 L275 491.9 L275.5 492.6 L276 493.2 L276.5 493.7 L277 494.3 L277.5 494.8 L278 495.3 L278.5 495.8 L279 496.3 L279.5 496.8 L280 497.2 L280.5 497.6 L281 498 L281.5 498.4 L282 498.8 L282.5 499.2 L283 499.5 L283.5 499.8 L284 500.2 L284.5 500.5 L285 500.7 L285.5 501 L286 501.3 L286.5 501.5 L287 501.8 L287.5 502 L288 502.2 L288.5 502.4 L289 502.6 L289.5 502.8 L290 503 L290.5 503.2 L291 503.4 L291.5 503.5 L292 503.7 L292.5 503.8 L293 503.9 L293.5 504.1 L294 504.2 L294.5 504.3 L295 504.4 L295.5 504.5 L296 504.6 L296.5 504.7 L297 504.8 L297.5 504.9 L298 505 L298.5 505 L299 505.1 L299.5 505.2 L300 505.2 L300.5 505.3 L301 505.4 L301.5 505.4 L302 505.5 L302.5 505.5 L303 505.6 L303.5 505.6 L304 505.7 L304.5 505.7 L305 505.7 L305.5 505.8 L306 505.8 L306.5 505.8 L307 505.9 L307.5 505.9 L308 505.9 L308.5 505.9 L309 506 L309.5 506 L310 506 L310.5 506 L311 506.1 L311.5 506.1 L312 506.1 L312.5 506.1 L313 506.1 L313.5 506.1 L314 506.2 L314.5 506.2 L315 506.2 L315.5 506.2 L316 506.2 L316.5 506.2 L317 506.2 L317.5 506.2 L318 506.3 L318.5 506.3 L319 506.3 L319.5 506.3 L320 506.3 L320.5 506.3 L321 506.3 L321.5 506.3 L322 506.3 L322.5 506.3 L323 506.3 L323.5 506.3 L324 506.3 L324.5 506.4 L325 506.4 L325.5 506.4 L326 506.4 L326.5 506.4 L327 506.4 L327.5 506.4 L328 506.4 L328.5 506.4 L329 506.4 L329.5 506.4 L330 506.4 L330.5 506.4 L331 506.4 L331.5 506.4 L332 506.4 L332.5 506.4 L333 506.4 L333.5 506.5 L334 506.5 L334.5 506.5 L335 506.5 L335.5 506.5 L336 506.5 L336.5 506.5 L337 506.5 L337.5 506.5 L338 506.5 L338.5 506.5 L339 506.5 L339.5 506.5 L340 506.5" fill="none" stroke="#8010ee" stroke-width="2.5"/>
<path d="M34 495.3 L34.5 495.3 L35 495.3 L35.5 495.3 L36 495.3 L36.5 495.3 L37 495.3 L37.5 495.3 L38 495.3 L38.5 495.3 L39 495.3 L39.5 495.3 L40 495.3 L40.5 495.3 L41 495.3 L41.5 495.3 L42 495.3 L42.5 495.3 L43 495.3 L43.5 495.3 L44 495.3 L44.5 495.3 L45 495.2 L45.5 495.2 L46 495.2 L46.5 495.2 L47 495.2 L47.5 495.2 L48 495.2 L48.5 495.2 L49 495.2 L49.5 495.2 L50 495.2 L50.5 495.2 L51 495.2 L51.5 495.2 L52 495.2 L52.5 495.2 L53 495.2 L53.5 495.2 L54 495.2 L54.5 495.2 L55 495.2 L55.5 495.1 L56 495.1 L56.5 495.1 L57 495.1 L57.5 495.1 L58 495.1 L58.5 495.1 L59 495.1 L59.5 495.1 L60 495.1 L60.5 495.1 L61 495.1 L61.5 495.1 L62 495 L62.5 495 L63 495 L63.5 495 L64 495 L64.5 495 L65 495 L65.5 495 L66 494.9 L66.5 494.9 L67 494.9 L67.5 494.9 L68 494.9 L68.5 494.9 L69 494.8 L69.5 494.8 L70 494.8 L70.5 494.8 L71 494.7 L71.5 494.7 L72 494.7 L72.5 494.7 L73 494.6 L73.5 494.6 L74 494.6 L74.5 494.5 L75 494.5 L75.5 494.4 L76 494.4 L76.5 494.3 L77 494.3 L77.5 494.2 L78 494.2 L78.5 494.1 L79 494.1 L79.5 494 L80 493.9 L80.5 493.8 L81 493.8 L81.5 493.7 L82 493.6 L82.5 493.5 L83 493.4 L83.5 493.3 L84 493.2 L84.5 493.1 L85 492.9 L85.5 492.8 L86 492.7 L86.5 492.5 L87 492.4 L87.5 492.2 L88 492.1 L88.5 491.9 L89 491.7 L89.5 491.5 L90 491.3 L90.5 491.1 L91 490.9 L91.5 490.6 L92 490.4 L92.5 490.1 L93 489.9 L93.5 489.6 L94 489.3 L94.5 489 L95 488.7 L95.5 488.3 L96 488 L96.5 487.6 L97 487.2 L97.5 486.8 L98 486.4 L98.5 486 L99 485.6 L99.5 485.1 L100 484.7 L100.5 484.2 L101 483.7 L101.5 483.1 L102 482.6 L102.5 482 L103 481.4 L103.5 480.8 L104 480.2 L104.5 479.6 L105 478.9 L105.5 478.3 L106 477.6 L106.5 476.9 L107 476.1 L107.5 475.4 L108 474.6 L108.5 473.8 L109 473 L109.5 472.2 L110 471.3 L110.5 470.5 L111 469.6 L111.5 468.7 L112 467.7 L112.5 466.8 L113 465.9 L113.5 464.9 L114 463.9 L114.5 462.9 L115 461.9 L115.5 460.8 L116 459.8 L116.5 458.7 L117 457.7 L117.5 456.6 L118 455.5 L118.5 454.4 L119 453.3 L119.5 452.2 L120 451 L120.5 449.9 L121 448.8 L121.5 447.7 L122 446.5 L122.5 445.4 L123 444.2 L123.5 443.1 L124 442 L124.5 440.9 L125 439.7 L125.5 438.6 L126 437.5 L126.5 436.4 L127 435.3 L127.5 434.3 L128 433.2 L128.5 432.2 L129 431.1 L129.5 430.1 L130 429.2 L130.5 428.2 L131 427.3 L131.5 426.4 L132 425.5 L132.5 424.6 L133 423.8 L133.5 423 L134 422.2 L134.5 421.5 L135 420.8 L135.5 420.1 L136 419.5 L136.5 418.9 L137 418.3 L137.5 417.8 L138 417.4 L138.5 416.9 L139 416.6 L139.5 416.2 L140 415.9 L140.5 415.7 L141 415.4 L141.5 415.3 L142 415.2 L142.5 415.1 L143 415.1 L143.5 415.1 L144 415.1 L144.5 415.2 L145 415.4 L145.5 415.6 L146 415.8 L146.5 416.1 L147 416.5 L147.5 416.8 L148 417.2 L148.5 417.7 L149 418.2 L149.5 418.7 L150 419.3 L150.5 419.9 L151 420.5 L151.5 421.2 L152 421.9 L152.5 422.7 L153 423.5 L153.5 424.3 L154 425.1 L154.5 425.9 L155 426.8 L155.5 427.7 L156 428.6 L156.5 429.6 L157 430.5 L157.5 431.5 L158 432.5 L158.5 433.5 L159 434.5 L159.5 435.5 L160 436.6 L160.5 437.6 L161 438.6 L161.5 439.7 L162 440.7 L162.5 441.7 L163 442.8 L163.5 443.8 L164 444.8 L164.5 445.8 L165 446.8 L165.5 447.8 L166 448.8 L166.5 449.7 L167 450.7 L167.5 451.6 L168 452.5 L168.5 453.4 L169 454.3 L169.5 455.1 L170 455.9 L170.5 456.7 L171 457.5 L171.5 458.2 L172 458.9 L172.5 459.6 L173 460.3 L173.5 460.9 L174 461.5 L174.5 462 L175 462.5 L175.5 463 L176 463.5 L176.5 463.9 L177 464.2 L177.5 464.6 L178 464.8 L178.5 465.1 L179 465.3 L179.5 465.5 L180 465.6 L180.5 465.7 L181 465.7 L181.5 465.7 L182 465.7 L182.5 465.6 L183 465.5 L183.5 465.3 L184 465.1 L184.5 464.8 L185 464.5 L185.5 464.2 L186 463.8 L186.5 463.4 L187 462.9 L187.5 462.4 L188 461.8 L188.5 461.2 L189 460.6 L189.5 459.9 L190 459.2 L190.5 458.5 L191 457.7 L191.5 456.8 L192 456 L192.5 455.1 L193 454.1 L193.5 453.2 L194 452.1 L194.5 451.1 L195 450 L195.5 448.9 L196 447.8 L196.5 446.6 L197 445.4 L197.5 444.2 L198 442.9 L198.5 441.7 L199 440.4 L199.5 439.1 L200 437.7 L200.5 436.4 L201 435 L201.5 433.6 L202 432.2 L202.5 430.8 L203 429.3 L203.5 427.9 L204 426.4 L204.5 425 L205 423.5 L205.5 422.1 L206 420.6 L206.5 419.1 L207 417.7 L207.5 416.2 L208 414.7 L208.5 413.3 L209 411.9 L209.5 410.4 L210 409 L210.5 407.6 L211 406.3 L211.5 404.9 L212 403.6 L212.5 402.2 L213 401 L213.5 399.7 L214 398.5 L214.5 397.3 L215 396.1 L215.5 394.9 L216 393.8 L216.5 392.8 L217 391.8 L217.5 390.8 L218 389.8 L218.5 388.9 L219 388.1 L219.5 387.3 L220 386.5 L220.5 385.8 L221 385.1 L221.5 384.5 L222 384 L222.5 383.5 L223 383 L223.5 382.6 L224 382.3 L224.5 382 L225 381.8 L225.5 381.6 L226 381.5 L226.5 381.5 L227 381.5 L227.5 381.6 L228 381.7 L228.5 381.9 L229 382.1 L229.5 382.4 L230 382.8 L230.5 383.2 L231 383.7 L231.5 384.2 L232 384.8 L232.5 385.5 L233 386.2 L233.5 386.9 L234 387.7 L234.5 388.6 L235 389.5 L235.5 390.4 L236 391.4 L236.5 392.5 L237 393.6 L237.5 394.7 L238 395.8 L238.5 397 L239 398.3 L239.5 399.6 L240 400.9 L240.5 402.2 L241 403.6 L241.5 405 L242 406.4 L242.5 407.9 L243 409.4 L243.5 410.9 L244 412.4 L244.5 413.9 L245 415.5 L245.5 417.1 L246 418.6 L246.5 420.2 L247 421.8 L247.5 423.4 L248 425.1 L248.5 426.7 L249 428.3 L249.5 429.9 L250 431.6 L250.5 433.2 L251 434.8 L251.5 436.4 L252 438 L252.5 439.6 L253 441.2 L253.5 442.8 L254 444.4 L254.5 446 L255 447.5 L255.5 449.1 L256 450.6 L256.5 452.1 L257 453.6 L257.5 455 L258 456.5 L258.5 457.9 L259 459.3 L259.5 460.7 L260 462.1 L260.5 463.4 L261 464.8 L261.5 466.1 L262 467.3 L262.5 468.6 L263 469.8 L263.5 471 L264 472.2 L264.5 473.4 L265 474.5 L265.5 475.6 L266 476.7 L266.5 477.7 L267 478.7 L267.5 479.7 L268 480.7 L268.5 481.7 L269 482.6 L269.5 483.5 L270 484.4 L270.5 485.2 L271 486 L271.5 486.8 L272 487.6 L272.5 488.4 L273 489.1 L273.5 489.8 L274 490.5 L274.5 491.1 L275 491.8 L275.5 492.4 L276 493 L276.5 493.6 L277 494.1 L277.5 494.7 L278 495.2 L278.5 495.7 L279 496.1 L279.5 496.6 L280 497 L280.5 497.5 L281 497.9 L281.5 498.3 L282 498.6 L282.5 499 L283 499.4 L283.5 499.7 L284 500 L284.5 500.3 L285 500.6 L285.5 500.9 L286 501.1 L286.5 501.4 L287 501.6 L287.5 501.9 L288 502.1 L288.5 502.3 L289 502.5 L289.5 502.7 L290 502.9 L290.5 503.1 L291 503.2 L291.5 503.4 L292 503.5 L292.5 503.7 L293 503.8 L293.5 503.9 L294 504.1 L294.5 504.2 L295 504.3 L295.5 504.4 L296 504.5 L296.5 504.6 L297 504.7 L297.5 504.8 L298 504.8 L298.5 504.9 L299 505 L299.5 505.1 L300 505.1 L300.5 505.2 L301 505.2 L301.5 505.3 L302 505.4 L302.5 505.4 L303 505.5 L303.5 505.5 L304 505.5 L304.5 505.6 L305 505.6 L305.5 505.7 L306 505.7 L306.5 505.7 L307 505.7 L307.5 505.8 L308 505.8 L308.5 505.8 L309 505.9 L309.5 505.9 L310 505.9 L310.5 505.9 L311 505.9 L311.5 506 L312 506 L312.5 506 L313 506 L313.5 506 L314 506 L314.5 506.1 L315 506.1 L315.5 506.1 L316 506.1 L316.5 506.1 L317 506.1 L317.5 506.1 L318 506.2 L318.5 506.2 L319 506.2 L319.5 506.2 L320 506.2 L320.5 506.2 L321 506.2 L321.5 506.2 L322 506.2 L322.5 506.2 L323 506.2 L323.5 506.3 L324 506.3 L324.5 506.3 L325 506.3 L325.5 506.3 L326 506.3 L326.5 506.3 L327 506.3 L327.5 506.3 L328 506.3 L328.5 506.3 L329 506.3 L329.5 506.3 L330 506.3 L330.5 506.3 L331 506.3 L331.5 506.3 L332 506.4 L332.5 506.4 L333 506.4 L333.5 506.4 L334 506.4 L334.5 506.4 L335 506.4 L335.5 506.4 L336 506.4 L336.5 506.4 L337 506.4 L337.5 506.4 L338 506.4 L338.5 506.4 L339 506.4 L339.5 506.4 L340 506.4" fill="none" stroke="#8010ee" stroke-width="3.4" stroke-linejoin="round"/>
<g fill="none" stroke="#901c14" stroke-width="1.3"><circle cx="365" cy="360.3" r="4.6"/><circle cx="368.1" cy="360.6" r="4.6"/><circle cx="371.2" cy="359.9" r="4.6"/><circle cx="374.3" cy="360.5" r="4.6"/><circle cx="377.4" cy="360.9" r="4.6"/><circle cx="380.5" cy="360.4" r="4.6"/><circle cx="383.6" cy="361.3" r="4.6"/><circle cx="386.7" cy="359.2" r="4.6"/><circle cx="389.8" cy="359.9" r="4.6"/><circle cx="392.9" cy="359.2" r="4.6"/><circle cx="396" cy="359" r="4.6"/><circle cx="399.1" cy="359.3" r="4.6"/><circle cx="402.2" cy="359.5" r="4.6"/><circle cx="405.3" cy="359.4" r="4.6"/><circle cx="408.4" cy="359.2" r="4.6"/><circle cx="411.5" cy="360.3" r="4.6"/><circle cx="414.6" cy="358.8" r="4.6"/><circle cx="417.7" cy="356.4" r="4.6"/><circle cx="420.8" cy="357.2" r="4.6"/><circle cx="423.9" cy="355.9" r="4.6"/><circle cx="427" cy="355.3" r="4.6"/><circle cx="430.1" cy="355.9" r="4.6"/><circle cx="433.2" cy="353.7" r="4.6"/><circle cx="436.3" cy="351.1" r="4.6"/><circle cx="439.4" cy="351.6" r="4.6"/><circle cx="442.5" cy="349.7" r="4.6"/><circle cx="445.6" cy="347.4" r="4.6"/><circle cx="448.7" cy="345.9" r="4.6"/><circle cx="451.8" cy="343.9" r="4.6"/><circle cx="454.9" cy="342.3" r="4.6"/><circle cx="458" cy="339.7" r="4.6"/><circle cx="461.1" cy="337.7" r="4.6"/><circle cx="464.2" cy="336.7" r="4.6"/><circle cx="467.3" cy="331.5" r="4.6"/><circle cx="470.4" cy="328.9" r="4.6"/><circle cx="473.5" cy="326.6" r="4.6"/><circle cx="476.6" cy="324.9" r="4.6"/><circle cx="479.7" cy="320.8" r="4.6"/><circle cx="482.8" cy="319.3" r="4.6"/><circle cx="485.9" cy="314.5" r="4.6"/><circle cx="489" cy="312.2" r="4.6"/><circle cx="492.1" cy="310.6" r="4.6"/><circle cx="495.2" cy="307.6" r="4.6"/><circle cx="498.3" cy="305.1" r="4.6"/><circle cx="501.4" cy="303.7" r="4.6"/><circle cx="504.5" cy="301.7" r="4.6"/><circle cx="507.6" cy="298.9" r="4.6"/><circle cx="510.7" cy="296.3" r="4.6"/><circle cx="513.8" cy="294.9" r="4.6"/><circle cx="516.9" cy="291.6" r="4.6"/><circle cx="520" cy="288.4" r="4.6"/><circle cx="523.1" cy="286.4" r="4.6"/><circle cx="526.2" cy="281.2" r="4.6"/><circle cx="529.3" cy="277.3" r="4.6"/><circle cx="532.4" cy="273.2" r="4.6"/><circle cx="535.5" cy="267.7" r="4.6"/><circle cx="538.6" cy="262.1" r="4.6"/><circle cx="541.7" cy="257.6" r="4.6"/><circle cx="544.8" cy="250.9" r="4.6"/><circle cx="547.9" cy="246.3" r="4.6"/><circle cx="551" cy="242.2" r="4.6"/><circle cx="554.1" cy="241.3" r="4.6"/><circle cx="557.2" cy="238.5" r="4.6"/><circle cx="560.3" cy="240.4" r="4.6"/><circle cx="563.4" cy="242" r="4.6"/><circle cx="566.5" cy="245" r="4.6"/><circle cx="569.6" cy="250.5" r="4.6"/><circle cx="572.7" cy="256.1" r="4.6"/><circle cx="575.8" cy="264" r="4.6"/><circle cx="578.9" cy="270.4" r="4.6"/><circle cx="582" cy="279.5" r="4.6"/><circle cx="585.1" cy="288.3" r="4.6"/><circle cx="588.2" cy="296.1" r="4.6"/><circle cx="591.3" cy="305.7" r="4.6"/><circle cx="594.4" cy="313.7" r="4.6"/><circle cx="597.5" cy="319.9" r="4.6"/><circle cx="600.6" cy="327.7" r="4.6"/><circle cx="603.7" cy="330.9" r="4.6"/><circle cx="606.8" cy="338.1" r="4.6"/><circle cx="609.9" cy="340.9" r="4.6"/><circle cx="613" cy="347.6" r="4.6"/><circle cx="616.1" cy="350.4" r="4.6"/><circle cx="619.2" cy="354.6" r="4.6"/><circle cx="622.3" cy="355.8" r="4.6"/><circle cx="625.4" cy="356.4" r="4.6"/><circle cx="628.5" cy="360.6" r="4.6"/><circle cx="631.6" cy="359.9" r="4.6"/><circle cx="634.7" cy="361" r="4.6"/><circle cx="637.8" cy="362.8" r="4.6"/><circle cx="640.9" cy="364.1" r="4.6"/><circle cx="644" cy="363.7" r="4.6"/><circle cx="647.1" cy="364.7" r="4.6"/><circle cx="650.2" cy="363.4" r="4.6"/><circle cx="653.3" cy="366.6" r="4.6"/><circle cx="656.4" cy="365.4" r="4.6"/><circle cx="659.5" cy="365.8" r="4.6"/><circle cx="662.6" cy="366.3" r="4.6"/><circle cx="665.7" cy="366.1" r="4.6"/><circle cx="668.8" cy="366.3" r="4.6"/></g>
<path d="M364 362.8 L365 362.8 L366 362.8 L367 362.8 L368 362.8 L369 362.8 L370 362.8 L371 362.8 L372 362.8 L373 362.8 L374 362.8 L375 362.8 L376 362.8 L377 362.8 L378 362.8 L379 362.8 L380 362.8 L381 362.8 L382 362.8 L383 362.8 L384 362.8 L385 362.8 L386 362.8 L387 362.8 L388 362.8 L389 362.8 L390 362.8 L391 362.8 L392 362.8 L393 362.8 L394 362.8 L395 362.8 L396 362.8 L397 362.8 L398 362.8 L399 362.8 L400 362.8 L401 362.8 L402 362.8 L403 362.8 L404 362.8 L405 362.8 L406 362.8 L407 362.8 L408 362.8 L409 362.8 L410 362.8 L411 362.8 L412 362.8 L413 362.8 L414 362.8 L415 362.8 L416 362.8 L417 362.9 L418 362.9 L419 362.9 L420 362.9 L421 362.9 L422 362.9 L423 362.9 L424 362.9 L425 362.9 L426 362.9 L427 362.9 L428 362.9 L429 362.9 L430 362.9 L431 362.9 L432 362.9 L433 362.9 L434 362.9 L435 362.9 L436 362.9 L437 362.9 L438 362.9 L439 362.9 L440 362.9 L441 362.9 L442 362.9 L443 363 L444 363 L445 363 L446 363 L447 363 L448 363 L449 363 L450 363 L451 363 L452 363 L453 363 L454 363 L455 363.1 L456 363.1 L457 363.1 L458 363.1 L459 363.1 L460 363.1 L461 363.1 L462 363.1 L463 363.2 L464 363.2 L465 363.2 L466 363.2 L467 363.2 L468 363.2 L469 363.3 L470 363.3 L471 363.3 L472 363.3 L473 363.3 L474 363.4 L475 363.4 L476 363.4 L477 363.4 L478 363.4 L479 363.5 L480 363.5 L481 363.5 L482 363.5 L483 363.6 L484 363.6 L485 363.6 L486 363.6 L487 363.7 L488 363.7 L489 363.7 L490 363.8 L491 363.8 L492 363.8 L493 363.8 L494 363.9 L495 363.9 L496 363.9 L497 364 L498 364 L499 364 L500 364.1 L501 364.1 L502 364.1 L503 364.2 L504 364.2 L505 364.2 L506 364.3 L507 364.3 L508 364.4 L509 364.4 L510 364.4 L511 364.5 L512 364.5 L513 364.5 L514 364.6 L515 364.6 L516 364.7 L517 364.7 L518 364.8 L519 364.8 L520 364.8 L521 364.9 L522 364.9 L523 365 L524 365 L525 365.1 L526 365.1 L527 365.2 L528 365.2 L529 365.3 L530 365.3 L531 365.4 L532 365.4 L533 365.5 L534 365.5 L535 365.6 L536 365.6 L537 365.7 L538 365.7 L539 365.8 L540 365.9 L541 365.9 L542 366 L543 366.1 L544 366.1 L545 366.2 L546 366.2 L547 366.3 L548 366.4 L549 366.5 L550 366.5 L551 366.6 L552 366.7 L553 366.7 L554 366.8 L555 366.9 L556 367 L557 367 L558 367.1 L559 367.2 L560 367.2 L561 367.3 L562 367.4 L563 367.5 L564 367.5 L565 367.6 L566 367.7 L567 367.8 L568 367.8 L569 367.9 L570 368 L571 368 L572 368.1 L573 368.2 L574 368.2 L575 368.3 L576 368.3 L577 368.4 L578 368.5 L579 368.5 L580 368.6 L581 368.6 L582 368.7 L583 368.7 L584 368.8 L585 368.8 L586 368.9 L587 368.9 L588 369 L589 369 L590 369 L591 369.1 L592 369.1 L593 369.1 L594 369.2 L595 369.2 L596 369.2 L597 369.3 L598 369.3 L599 369.3 L600 369.3 L601 369.4 L602 369.4 L603 369.4 L604 369.4 L605 369.5 L606 369.5 L607 369.5 L608 369.5 L609 369.5 L610 369.5 L611 369.6 L612 369.6 L613 369.6 L614 369.6 L615 369.6 L616 369.6 L617 369.6 L618 369.6 L619 369.6 L620 369.7 L621 369.7 L622 369.7 L623 369.7 L624 369.7 L625 369.7 L626 369.7 L627 369.7 L628 369.7 L629 369.7 L630 369.7 L631 369.7 L632 369.7 L633 369.7 L634 369.7 L635 369.7 L636 369.7 L637 369.7 L638 369.7 L639 369.7 L640 369.7 L641 369.8 L642 369.8 L643 369.8 L644 369.8 L645 369.8 L646 369.8 L647 369.8 L648 369.8 L649 369.8 L650 369.8 L651 369.8 L652 369.8 L653 369.8 L654 369.8 L655 369.8 L656 369.8 L657 369.8 L658 369.8 L659 369.8 L660 369.8 L661 369.8 L662 369.8 L663 369.8 L664 369.8 L665 369.8 L666 369.8 L667 369.8 L668 369.8 L669 369.8 L670 369.8" fill="none" stroke="#111" stroke-width="1.3"/>
<path d="M364 362.8L367 357.8L370 362.8ZM370.4 362.8L373.4 357.8L376.4 362.8ZM376.8 362.8L379.8 357.8L382.8 362.8ZM383.2 362.8L386.2 357.8L389.2 362.8ZM389.6 362.8L392.6 357.8L395.6 362.8ZM396 362.8L399 357.8L402 362.8ZM402.4 362.8L405.4 357.8L408.4 362.8ZM408.8 362.8L411.8 357.8L414.8 362.8ZM415.2 362.9L418.2 357.9L421.2 362.9ZM421.6 362.9L424.6 357.9L427.6 362.9ZM428 362.9L431 357.9L434 362.9ZM434.4 362.9L437.4 357.9L440.4 362.9ZM440.8 363L443.8 358L446.8 363ZM447.2 363L450.2 358L453.2 363ZM453.6 363.1L456.6 358.1L459.6 363.1ZM460 363.2L463 358.2L466 363.2ZM466.4 363.3L469.4 358.3L472.4 363.3ZM472.8 363.4L475.8 358.4L478.8 363.4ZM479.2 363.5L482.2 358.5L485.2 363.5ZM485.6 363.7L488.6 358.7L491.6 363.7ZM492 363.9L495 358.9L498 363.9ZM498.4 364.1L501.4 359.1L504.4 364.1ZM504.8 364.4L507.8 359.4L510.8 364.4ZM511.2 364.6L514.2 359.6L517.2 364.6ZM517.6 364.9L520.6 359.9L523.6 364.9ZM524 365.2L527 360.2L530 365.2ZM530.4 365.5L533.4 360.5L536.4 365.5ZM536.8 365.9L539.8 360.9L542.8 365.9ZM543.2 366.2L546.2 361.2L549.2 366.2ZM549.6 366.7L552.6 361.7L555.6 366.7ZM556 367.2L559 362.2L562 367.2ZM562.4 367.6L565.4 362.6L568.4 367.6ZM568.8 368.1L571.8 363.1L574.8 368.1ZM575.2 368.5L578.2 363.5L581.2 368.5ZM581.6 368.8L584.6 363.8L587.6 368.8ZM588 369.1L591 364.1L594 369.1ZM594.4 369.3L597.4 364.3L600.4 369.3ZM600.8 369.4L603.8 364.4L606.8 369.4ZM607.2 369.5L610.2 364.5L613.2 369.5ZM613.6 369.6L616.6 364.6L619.6 369.6ZM620 369.7L623 364.7L626 369.7ZM626.4 369.7L629.4 364.7L632.4 369.7ZM632.8 369.7L635.8 364.7L638.8 369.7ZM639.2 369.8L642.2 364.8L645.2 369.8ZM645.6 369.8L648.6 364.8L651.6 369.8ZM652 369.8L655 364.8L658 369.8ZM658.4 369.8L661.4 364.8L664.4 369.8ZM664.8 369.8L667.8 364.8L670.8 369.8Z" fill="none" stroke="#111" stroke-width="1.1"/>
<path d="M364 360.7 L364.5 360.7 L365 360.7 L365.5 360.7 L366 360.7 L366.5 360.7 L367 360.7 L367.5 360.7 L368 360.7 L368.5 360.7 L369 360.7 L369.5 360.7 L370 360.7 L370.5 360.7 L371 360.7 L371.5 360.7 L372 360.7 L372.5 360.7 L373 360.7 L373.5 360.7 L374 360.7 L374.5 360.7 L375 360.7 L375.5 360.7 L376 360.7 L376.5 360.7 L377 360.7 L377.5 360.7 L378 360.6 L378.5 360.6 L379 360.6 L379.5 360.6 L380 360.6 L380.5 360.6 L381 360.6 L381.5 360.6 L382 360.6 L382.5 360.6 L383 360.6 L383.5 360.6 L384 360.6 L384.5 360.6 L385 360.6 L385.5 360.6 L386 360.6 L386.5 360.6 L387 360.6 L387.5 360.6 L388 360.6 L388.5 360.6 L389 360.6 L389.5 360.6 L390 360.6 L390.5 360.6 L391 360.6 L391.5 360.6 L392 360.6 L392.5 360.6 L393 360.6 L393.5 360.6 L394 360.6 L394.5 360.5 L395 360.5 L395.5 360.5 L396 360.5 L396.5 360.5 L397 360.5 L397.5 360.5 L398 360.5 L398.5 360.5 L399 360.5 L399.5 360.5 L400 360.5 L400.5 360.5 L401 360.5 L401.5 360.5 L402 360.5 L402.5 360.5 L403 360.5 L403.5 360.5 L404 360.5 L404.5 360.5 L405 360.5 L405.5 360.5 L406 360.5 L406.5 360.5 L407 360.5 L407.5 360.4 L408 360.4 L408.5 360.4 L409 360.4 L409.5 360.4 L410 360.4 L410.5 360.4 L411 360.4 L411.5 360.4 L412 360.4 L412.5 360.4 L413 360.4 L413.5 360.4 L414 360.4 L414.5 360.4 L415 360.4 L415.5 360.4 L416 360.4 L416.5 360.4 L417 360.4 L417.5 360.4 L418 360.4 L418.5 360.3 L419 360.3 L419.5 360.3 L420 360.3 L420.5 360.3 L421 360.3 L421.5 360.3 L422 360.3 L422.5 360.3 L423 360.3 L423.5 360.3 L424 360.3 L424.5 360.3 L425 360.3 L425.5 360.3 L426 360.3 L426.5 360.3 L427 360.3 L427.5 360.2 L428 360.2 L428.5 360.2 L429 360.2 L429.5 360.2 L430 360.2 L430.5 360.2 L431 360.2 L431.5 360.2 L432 360.2 L432.5 360.2 L433 360.2 L433.5 360.2 L434 360.2 L434.5 360.2 L435 360.2 L435.5 360.2 L436 360.1 L436.5 360.1 L437 360.1 L437.5 360.1 L438 360.1 L438.5 360.1 L439 360.1 L439.5 360.1 L440 360.1 L440.5 360.1 L441 360.1 L441.5 360.1 L442 360.1 L442.5 360.1 L443 360.1 L443.5 360 L444 360 L444.5 360 L445 360 L445.5 360 L446 360 L446.5 360 L447 360 L447.5 360 L448 360 L448.5 360 L449 360 L449.5 360 L450 359.9 L450.5 359.9 L451 359.9 L451.5 359.9 L452 359.9 L452.5 359.9 L453 359.9 L453.5 359.9 L454 359.9 L454.5 359.9 L455 359.9 L455.5 359.9 L456 359.8 L456.5 359.8 L457 359.8 L457.5 359.8 L458 359.8 L458.5 359.8 L459 359.8 L459.5 359.8 L460 359.8 L460.5 359.8 L461 359.7 L461.5 359.7 L462 359.7 L462.5 359.7 L463 359.7 L463.5 359.7 L464 359.7 L464.5 359.7 L465 359.6 L465.5 359.6 L466 359.6 L466.5 359.6 L467 359.6 L467.5 359.6 L468 359.6 L468.5 359.5 L469 359.5 L469.5 359.5 L470 359.5 L470.5 359.5 L471 359.5 L471.5 359.4 L472 359.4 L472.5 359.4 L473 359.4 L473.5 359.3 L474 359.3 L474.5 359.3 L475 359.3 L475.5 359.2 L476 359.2 L476.5 359.2 L477 359.2 L477.5 359.1 L478 359.1 L478.5 359.1 L479 359 L479.5 359 L480 358.9 L480.5 358.9 L481 358.9 L481.5 358.8 L482 358.8 L482.5 358.7 L483 358.7 L483.5 358.6 L484 358.5 L484.5 358.5 L485 358.4 L485.5 358.4 L486 358.3 L486.5 358.2 L487 358.1 L487.5 358.1 L488 358 L488.5 357.9 L489 357.8 L489.5 357.7 L490 357.6 L490.5 357.5 L491 357.4 L491.5 357.3 L492 357.2 L492.5 357 L493 356.9 L493.5 356.8 L494 356.6 L494.5 356.5 L495 356.3 L495.5 356.1 L496 356 L496.5 355.8 L497 355.6 L497.5 355.4 L498 355.2 L498.5 355 L499 354.8 L499.5 354.5 L500 354.3 L500.5 354 L501 353.8 L501.5 353.5 L502 353.2 L502.5 352.9 L503 352.6 L503.5 352.3 L504 352 L504.5 351.6 L505 351.3 L505.5 350.9 L506 350.5 L506.5 350.1 L507 349.7 L507.5 349.3 L508 348.9 L508.5 348.4 L509 347.9 L509.5 347.5 L510 347 L510.5 346.4 L511 345.9 L511.5 345.3 L512 344.8 L512.5 344.2 L513 343.6 L513.5 343 L514 342.3 L514.5 341.6 L515 341 L515.5 340.3 L516 339.5 L516.5 338.8 L517 338 L517.5 337.3 L518 336.5 L518.5 335.6 L519 334.8 L519.5 333.9 L520 333.1 L520.5 332.2 L521 331.2 L521.5 330.3 L522 329.3 L522.5 328.3 L523 327.3 L523.5 326.3 L524 325.3 L524.5 324.2 L525 323.1 L525.5 322 L526 320.9 L526.5 319.8 L527 318.6 L527.5 317.4 L528 316.3 L528.5 315 L529 313.8 L529.5 312.6 L530 311.3 L530.5 310.1 L531 308.8 L531.5 307.5 L532 306.2 L532.5 304.8 L533 303.5 L533.5 302.2 L534 300.8 L534.5 299.4 L535 298.1 L535.5 296.7 L536 295.3 L536.5 293.9 L537 292.5 L537.5 291.1 L538 289.7 L538.5 288.4 L539 287 L539.5 285.6 L540 284.2 L540.5 282.8 L541 281.4 L541.5 280 L542 278.7 L542.5 277.3 L543 276 L543.5 274.7 L544 273.3 L544.5 272 L545 270.8 L545.5 269.5 L546 268.3 L546.5 267 L547 265.8 L547.5 264.7 L548 263.5 L548.5 262.4 L549 261.3 L549.5 260.3 L550 259.2 L550.5 258.3 L551 257.3 L551.5 256.4 L552 255.5 L552.5 254.7 L553 253.9 L553.5 253.1 L554 252.4 L554.5 251.8 L555 251.1 L555.5 250.6 L556 250.1 L556.5 249.6 L557 249.2 L557.5 248.8 L558 248.5 L558.5 248.2 L559 248 L559.5 247.9 L560 247.8 L560.5 247.7 L561 247.7 L561.5 247.8 L562 247.9 L562.5 248 L563 248.2 L563.5 248.5 L564 248.7 L564.5 249.1 L565 249.4 L565.5 249.8 L566 250.3 L566.5 250.8 L567 251.3 L567.5 251.9 L568 252.5 L568.5 253.2 L569 253.8 L569.5 254.6 L570 255.3 L570.5 256.1 L571 257 L571.5 257.8 L572 258.7 L572.5 259.6 L573 260.6 L573.5 261.6 L574 262.6 L574.5 263.6 L575 264.7 L575.5 265.7 L576 266.8 L576.5 268 L577 269.1 L577.5 270.3 L578 271.4 L578.5 272.6 L579 273.8 L579.5 275.1 L580 276.3 L580.5 277.6 L581 278.8 L581.5 280.1 L582 281.4 L582.5 282.6 L583 283.9 L583.5 285.2 L584 286.5 L584.5 287.9 L585 289.2 L585.5 290.5 L586 291.8 L586.5 293.1 L587 294.4 L587.5 295.7 L588 297 L588.5 298.3 L589 299.6 L589.5 300.9 L590 302.2 L590.5 303.5 L591 304.8 L591.5 306 L592 307.3 L592.5 308.5 L593 309.8 L593.5 311 L594 312.2 L594.5 313.4 L595 314.6 L595.5 315.8 L596 317 L596.5 318.1 L597 319.3 L597.5 320.4 L598 321.5 L598.5 322.6 L599 323.7 L599.5 324.8 L600 325.8 L600.5 326.8 L601 327.9 L601.5 328.9 L602 329.9 L602.5 330.8 L603 331.8 L603.5 332.7 L604 333.7 L604.5 334.6 L605 335.4 L605.5 336.3 L606 337.2 L606.5 338 L607 338.8 L607.5 339.6 L608 340.4 L608.5 341.2 L609 341.9 L609.5 342.7 L610 343.4 L610.5 344.1 L611 344.8 L611.5 345.5 L612 346.1 L612.5 346.7 L613 347.4 L613.5 348 L614 348.6 L614.5 349.1 L615 349.7 L615.5 350.2 L616 350.8 L616.5 351.3 L617 351.8 L617.5 352.3 L618 352.8 L618.5 353.2 L619 353.7 L619.5 354.1 L620 354.5 L620.5 354.9 L621 355.3 L621.5 355.7 L622 356.1 L622.5 356.4 L623 356.8 L623.5 357.1 L624 357.5 L624.5 357.8 L625 358.1 L625.5 358.4 L626 358.7 L626.5 358.9 L627 359.2 L627.5 359.5 L628 359.7 L628.5 360 L629 360.2 L629.5 360.4 L630 360.6 L630.5 360.9 L631 361.1 L631.5 361.3 L632 361.4 L632.5 361.6 L633 361.8 L633.5 362 L634 362.1 L634.5 362.3 L635 362.5 L635.5 362.6 L636 362.7 L636.5 362.9 L637 363 L637.5 363.1 L638 363.3 L638.5 363.4 L639 363.5 L639.5 363.6 L640 363.7 L640.5 363.8 L641 363.9 L641.5 364 L642 364.1 L642.5 364.2 L643 364.3 L643.5 364.3 L644 364.4 L644.5 364.5 L645 364.6 L645.5 364.6 L646 364.7 L646.5 364.8 L647 364.8 L647.5 364.9 L648 365 L648.5 365 L649 365.1 L649.5 365.1 L650 365.2 L650.5 365.2 L651 365.3 L651.5 365.3 L652 365.4 L652.5 365.4 L653 365.4 L653.5 365.5 L654 365.5 L654.5 365.6 L655 365.6 L655.5 365.6 L656 365.7 L656.5 365.7 L657 365.7 L657.5 365.8 L658 365.8 L658.5 365.8 L659 365.9 L659.5 365.9 L660 365.9 L660.5 365.9 L661 366 L661.5 366 L662 366 L662.5 366 L663 366.1 L663.5 366.1 L664 366.1 L664.5 366.1 L665 366.2 L665.5 366.2 L666 366.2 L666.5 366.2 L667 366.2 L667.5 366.3 L668 366.3 L668.5 366.3 L669 366.3 L669.5 366.3 L670 366.4" fill="none" stroke="#0000d8" stroke-width="2.5"/>
<path d="M364 360.8 L364.5 360.8 L365 360.8 L365.5 360.8 L366 360.8 L366.5 360.8 L367 360.8 L367.5 360.8 L368 360.8 L368.5 360.8 L369 360.8 L369.5 360.8 L370 360.8 L370.5 360.8 L371 360.8 L371.5 360.7 L372 360.7 L372.5 360.7 L373 360.7 L373.5 360.7 L374 360.7 L374.5 360.7 L375 360.7 L375.5 360.7 L376 360.7 L376.5 360.7 L377 360.7 L377.5 360.7 L378 360.7 L378.5 360.7 L379 360.7 L379.5 360.7 L380 360.7 L380.5 360.7 L381 360.6 L381.5 360.6 L382 360.6 L382.5 360.6 L383 360.6 L383.5 360.6 L384 360.6 L384.5 360.6 L385 360.6 L385.5 360.6 L386 360.6 L386.5 360.6 L387 360.5 L387.5 360.5 L388 360.5 L388.5 360.5 L389 360.5 L389.5 360.5 L390 360.5 L390.5 360.5 L391 360.5 L391.5 360.4 L392 360.4 L392.5 360.4 L393 360.4 L393.5 360.4 L394 360.4 L394.5 360.3 L395 360.3 L395.5 360.3 L396 360.3 L396.5 360.3 L397 360.3 L397.5 360.2 L398 360.2 L398.5 360.2 L399 360.2 L399.5 360.1 L400 360.1 L400.5 360.1 L401 360.1 L401.5 360 L402 360 L402.5 360 L403 360 L403.5 359.9 L404 359.9 L404.5 359.9 L405 359.8 L405.5 359.8 L406 359.8 L406.5 359.7 L407 359.7 L407.5 359.7 L408 359.6 L408.5 359.6 L409 359.5 L409.5 359.5 L410 359.4 L410.5 359.4 L411 359.3 L411.5 359.3 L412 359.2 L412.5 359.2 L413 359.1 L413.5 359.1 L414 359 L414.5 359 L415 358.9 L415.5 358.8 L416 358.8 L416.5 358.7 L417 358.6 L417.5 358.6 L418 358.5 L418.5 358.4 L419 358.3 L419.5 358.2 L420 358.2 L420.5 358.1 L421 358 L421.5 357.9 L422 357.8 L422.5 357.7 L423 357.6 L423.5 357.5 L424 357.4 L424.5 357.3 L425 357.2 L425.5 357.1 L426 357 L426.5 356.9 L427 356.7 L427.5 356.6 L428 356.5 L428.5 356.3 L429 356.2 L429.5 356.1 L430 355.9 L430.5 355.8 L431 355.6 L431.5 355.5 L432 355.3 L432.5 355.2 L433 355 L433.5 354.9 L434 354.7 L434.5 354.5 L435 354.3 L435.5 354.2 L436 354 L436.5 353.8 L437 353.6 L437.5 353.4 L438 353.2 L438.5 353 L439 352.8 L439.5 352.6 L440 352.4 L440.5 352.1 L441 351.9 L441.5 351.7 L442 351.5 L442.5 351.2 L443 351 L443.5 350.7 L444 350.5 L444.5 350.2 L445 350 L445.5 349.7 L446 349.4 L446.5 349.2 L447 348.9 L447.5 348.6 L448 348.3 L448.5 348 L449 347.7 L449.5 347.4 L450 347.1 L450.5 346.8 L451 346.5 L451.5 346.2 L452 345.9 L452.5 345.6 L453 345.2 L453.5 344.9 L454 344.6 L454.5 344.2 L455 343.9 L455.5 343.5 L456 343.2 L456.5 342.8 L457 342.5 L457.5 342.1 L458 341.7 L458.5 341.4 L459 341 L459.5 340.6 L460 340.2 L460.5 339.9 L461 339.5 L461.5 339.1 L462 338.7 L462.5 338.3 L463 337.9 L463.5 337.5 L464 337.1 L464.5 336.7 L465 336.3 L465.5 335.9 L466 335.5 L466.5 335.1 L467 334.6 L467.5 334.2 L468 333.8 L468.5 333.4 L469 333 L469.5 332.6 L470 332.1 L470.5 331.7 L471 331.3 L471.5 330.9 L472 330.4 L472.5 330 L473 329.6 L473.5 329.2 L474 328.8 L474.5 328.3 L475 327.9 L475.5 327.5 L476 327.1 L476.5 326.7 L477 326.3 L477.5 325.8 L478 325.4 L478.5 325 L479 324.6 L479.5 324.2 L480 323.8 L480.5 323.4 L481 323 L481.5 322.6 L482 322.3 L482.5 321.9 L483 321.5 L483.5 321.1 L484 320.8 L484.5 320.4 L485 320 L485.5 319.7 L486 319.3 L486.5 319 L487 318.7 L487.5 318.3 L488 318 L488.5 317.7 L489 317.4 L489.5 317.1 L490 316.8 L490.5 316.5 L491 316.2 L491.5 315.9 L492 315.7 L492.5 315.4 L493 315.2 L493.5 314.9 L494 314.7 L494.5 314.5 L495 314.3 L495.5 314.1 L496 313.9 L496.5 313.7 L497 313.5 L497.5 313.3 L498 313.2 L498.5 313 L499 312.9 L499.5 312.8 L500 312.6 L500.5 312.5 L501 312.4 L501.5 312.4 L502 312.3 L502.5 312.2 L503 312.2 L503.5 312.1 L504 312.1 L504.5 312.1 L505 312.1 L505.5 312.1 L506 312.1 L506.5 312.1 L507 312.2 L507.5 312.2 L508 312.3 L508.5 312.4 L509 312.5 L509.5 312.6 L510 312.8 L510.5 312.9 L511 313.1 L511.5 313.3 L512 313.5 L512.5 313.7 L513 314 L513.5 314.2 L514 314.5 L514.5 314.8 L515 315.1 L515.5 315.4 L516 315.7 L516.5 316 L517 316.4 L517.5 316.8 L518 317.1 L518.5 317.5 L519 317.9 L519.5 318.3 L520 318.8 L520.5 319.2 L521 319.6 L521.5 320.1 L522 320.5 L522.5 321 L523 321.5 L523.5 322 L524 322.5 L524.5 323 L525 323.5 L525.5 324 L526 324.5 L526.5 325 L527 325.6 L527.5 326.1 L528 326.6 L528.5 327.2 L529 327.7 L529.5 328.3 L530 328.8 L530.5 329.4 L531 330 L531.5 330.5 L532 331.1 L532.5 331.6 L533 332.2 L533.5 332.8 L534 333.3 L534.5 333.9 L535 334.5 L535.5 335 L536 335.6 L536.5 336.1 L537 336.7 L537.5 337.3 L538 337.8 L538.5 338.4 L539 338.9 L539.5 339.4 L540 340 L540.5 340.5 L541 341.1 L541.5 341.6 L542 342.1 L542.5 342.6 L543 343.2 L543.5 343.7 L544 344.2 L544.5 344.7 L545 345.2 L545.5 345.7 L546 346.1 L546.5 346.6 L547 347.1 L547.5 347.6 L548 348 L548.5 348.5 L549 348.9 L549.5 349.4 L550 349.8 L550.5 350.2 L551 350.7 L551.5 351.1 L552 351.5 L552.5 351.9 L553 352.3 L553.5 352.7 L554 353.1 L554.5 353.5 L555 353.8 L555.5 354.2 L556 354.5 L556.5 354.9 L557 355.2 L557.5 355.6 L558 355.9 L558.5 356.2 L559 356.5 L559.5 356.9 L560 357.2 L560.5 357.5 L561 357.7 L561.5 358 L562 358.3 L562.5 358.6 L563 358.8 L563.5 359.1 L564 359.4 L564.5 359.6 L565 359.8 L565.5 360.1 L566 360.3 L566.5 360.5 L567 360.7 L567.5 361 L568 361.2 L568.5 361.4 L569 361.6 L569.5 361.8 L570 361.9 L570.5 362.1 L571 362.3 L571.5 362.5 L572 362.6 L572.5 362.8 L573 363 L573.5 363.1 L574 363.3 L574.5 363.4 L575 363.5 L575.5 363.7 L576 363.8 L576.5 363.9 L577 364.1 L577.5 364.2 L578 364.3 L578.5 364.4 L579 364.5 L579.5 364.6 L580 364.7 L580.5 364.8 L581 364.9 L581.5 365 L582 365.1 L582.5 365.2 L583 365.3 L583.5 365.4 L584 365.5 L584.5 365.5 L585 365.6 L585.5 365.7 L586 365.8 L586.5 365.8 L587 365.9 L587.5 366 L588 366 L588.5 366.1 L589 366.1 L589.5 366.2 L590 366.2 L590.5 366.3 L591 366.3 L591.5 366.4 L592 366.4 L592.5 366.5 L593 366.5 L593.5 366.6 L594 366.6 L594.5 366.7 L595 366.7 L595.5 366.7 L596 366.8 L596.5 366.8 L597 366.8 L597.5 366.9 L598 366.9 L598.5 366.9 L599 367 L599.5 367 L600 367 L600.5 367.1 L601 367.1 L601.5 367.1 L602 367.1 L602.5 367.2 L603 367.2 L603.5 367.2 L604 367.2 L604.5 367.2 L605 367.3 L605.5 367.3 L606 367.3 L606.5 367.3 L607 367.3 L607.5 367.4 L608 367.4 L608.5 367.4 L609 367.4 L609.5 367.4 L610 367.4 L610.5 367.4 L611 367.5 L611.5 367.5 L612 367.5 L612.5 367.5 L613 367.5 L613.5 367.5 L614 367.5 L614.5 367.5 L615 367.6 L615.5 367.6 L616 367.6 L616.5 367.6 L617 367.6 L617.5 367.6 L618 367.6 L618.5 367.6 L619 367.6 L619.5 367.6 L620 367.6 L620.5 367.7 L621 367.7 L621.5 367.7 L622 367.7 L622.5 367.7 L623 367.7 L623.5 367.7 L624 367.7 L624.5 367.7 L625 367.7 L625.5 367.7 L626 367.7 L626.5 367.7 L627 367.7 L627.5 367.7 L628 367.8 L628.5 367.8 L629 367.8 L629.5 367.8 L630 367.8 L630.5 367.8 L631 367.8 L631.5 367.8 L632 367.8 L632.5 367.8 L633 367.8 L633.5 367.8 L634 367.8 L634.5 367.8 L635 367.8 L635.5 367.8 L636 367.8 L636.5 367.8 L637 367.8 L637.5 367.8 L638 367.8 L638.5 367.8 L639 367.9 L639.5 367.9 L640 367.9 L640.5 367.9 L641 367.9 L641.5 367.9 L642 367.9 L642.5 367.9 L643 367.9 L643.5 367.9 L644 367.9 L644.5 367.9 L645 367.9 L645.5 367.9 L646 367.9 L646.5 367.9 L647 367.9 L647.5 367.9 L648 367.9 L648.5 367.9 L649 367.9 L649.5 367.9 L650 367.9 L650.5 367.9 L651 367.9 L651.5 367.9 L652 367.9 L652.5 367.9 L653 367.9 L653.5 367.9 L654 367.9 L654.5 367.9 L655 367.9 L655.5 367.9 L656 367.9 L656.5 367.9 L657 368 L657.5 368 L658 368 L658.5 368 L659 368 L659.5 368 L660 368 L660.5 368 L661 368 L661.5 368 L662 368 L662.5 368 L663 368 L663.5 368 L664 368 L664.5 368 L665 368 L665.5 368 L666 368 L666.5 368 L667 368 L667.5 368 L668 368 L668.5 368 L669 368 L669.5 368 L670 368" fill="none" stroke="#0000d8" stroke-width="2.5"/>
<path d="M364 360.3 L364.5 360.3 L365 360.3 L365.5 360.3 L366 360.3 L366.5 360.3 L367 360.3 L367.5 360.3 L368 360.3 L368.5 360.3 L369 360.3 L369.5 360.3 L370 360.2 L370.5 360.2 L371 360.2 L371.5 360.2 L372 360.2 L372.5 360.2 L373 360.2 L373.5 360.2 L374 360.2 L374.5 360.2 L375 360.2 L375.5 360.2 L376 360.2 L376.5 360.2 L377 360.1 L377.5 360.1 L378 360.1 L378.5 360.1 L379 360.1 L379.5 360.1 L380 360.1 L380.5 360.1 L381 360.1 L381.5 360.1 L382 360 L382.5 360 L383 360 L383.5 360 L384 360 L384.5 360 L385 360 L385.5 360 L386 360 L386.5 359.9 L387 359.9 L387.5 359.9 L388 359.9 L388.5 359.9 L389 359.9 L389.5 359.9 L390 359.8 L390.5 359.8 L391 359.8 L391.5 359.8 L392 359.8 L392.5 359.8 L393 359.7 L393.5 359.7 L394 359.7 L394.5 359.7 L395 359.7 L395.5 359.6 L396 359.6 L396.5 359.6 L397 359.6 L397.5 359.5 L398 359.5 L398.5 359.5 L399 359.5 L399.5 359.4 L400 359.4 L400.5 359.4 L401 359.3 L401.5 359.3 L402 359.3 L402.5 359.3 L403 359.2 L403.5 359.2 L404 359.1 L404.5 359.1 L405 359.1 L405.5 359 L406 359 L406.5 359 L407 358.9 L407.5 358.9 L408 358.8 L408.5 358.8 L409 358.7 L409.5 358.7 L410 358.6 L410.5 358.6 L411 358.5 L411.5 358.5 L412 358.4 L412.5 358.3 L413 358.3 L413.5 358.2 L414 358.2 L414.5 358.1 L415 358 L415.5 358 L416 357.9 L416.5 357.8 L417 357.7 L417.5 357.7 L418 357.6 L418.5 357.5 L419 357.4 L419.5 357.3 L420 357.2 L420.5 357.1 L421 357.1 L421.5 357 L422 356.9 L422.5 356.8 L423 356.6 L423.5 356.5 L424 356.4 L424.5 356.3 L425 356.2 L425.5 356.1 L426 356 L426.5 355.8 L427 355.7 L427.5 355.6 L428 355.4 L428.5 355.3 L429 355.2 L429.5 355 L430 354.9 L430.5 354.7 L431 354.6 L431.5 354.4 L432 354.2 L432.5 354.1 L433 353.9 L433.5 353.7 L434 353.6 L434.5 353.4 L435 353.2 L435.5 353 L436 352.8 L436.5 352.6 L437 352.4 L437.5 352.2 L438 352 L438.5 351.8 L439 351.6 L439.5 351.4 L440 351.1 L440.5 350.9 L441 350.7 L441.5 350.4 L442 350.2 L442.5 349.9 L443 349.7 L443.5 349.4 L444 349.2 L444.5 348.9 L445 348.6 L445.5 348.4 L446 348.1 L446.5 347.8 L447 347.5 L447.5 347.2 L448 346.9 L448.5 346.6 L449 346.3 L449.5 346 L450 345.7 L450.5 345.4 L451 345 L451.5 344.7 L452 344.4 L452.5 344 L453 343.7 L453.5 343.4 L454 343 L454.5 342.7 L455 342.3 L455.5 341.9 L456 341.6 L456.5 341.2 L457 340.8 L457.5 340.4 L458 340.1 L458.5 339.7 L459 339.3 L459.5 338.9 L460 338.5 L460.5 338.1 L461 337.7 L461.5 337.3 L462 336.9 L462.5 336.5 L463 336 L463.5 335.6 L464 335.2 L464.5 334.8 L465 334.3 L465.5 333.9 L466 333.5 L466.5 333 L467 332.6 L467.5 332.2 L468 331.7 L468.5 331.3 L469 330.8 L469.5 330.4 L470 329.9 L470.5 329.5 L471 329 L471.5 328.6 L472 328.1 L472.5 327.7 L473 327.2 L473.5 326.8 L474 326.3 L474.5 325.9 L475 325.4 L475.5 325 L476 324.5 L476.5 324 L477 323.6 L477.5 323.1 L478 322.7 L478.5 322.2 L479 321.8 L479.5 321.3 L480 320.9 L480.5 320.4 L481 320 L481.5 319.5 L482 319.1 L482.5 318.6 L483 318.2 L483.5 317.8 L484 317.3 L484.5 316.9 L485 316.4 L485.5 316 L486 315.6 L486.5 315.2 L487 314.7 L487.5 314.3 L488 313.9 L488.5 313.5 L489 313.1 L489.5 312.6 L490 312.2 L490.5 311.8 L491 311.4 L491.5 311 L492 310.6 L492.5 310.2 L493 309.8 L493.5 309.4 L494 309 L494.5 308.6 L495 308.3 L495.5 307.9 L496 307.5 L496.5 307.1 L497 306.7 L497.5 306.4 L498 306 L498.5 305.6 L499 305.2 L499.5 304.8 L500 304.5 L500.5 304.1 L501 303.7 L501.5 303.4 L502 303 L502.5 302.6 L503 302.2 L503.5 301.9 L504 301.5 L504.5 301.1 L505 300.7 L505.5 300.3 L506 299.9 L506.5 299.6 L507 299.2 L507.5 298.8 L508 298.4 L508.5 298 L509 297.6 L509.5 297.3 L510 296.9 L510.5 296.5 L511 296.1 L511.5 295.8 L512 295.4 L512.5 295 L513 294.6 L513.5 294.2 L514 293.8 L514.5 293.4 L515 293 L515.5 292.6 L516 292.2 L516.5 291.8 L517 291.3 L517.5 290.9 L518 290.4 L518.5 290 L519 289.5 L519.5 289.1 L520 288.6 L520.5 288.1 L521 287.6 L521.5 287.1 L522 286.5 L522.5 286 L523 285.5 L523.5 284.9 L524 284.3 L524.5 283.7 L525 283.1 L525.5 282.5 L526 281.9 L526.5 281.3 L527 280.6 L527.5 280 L528 279.3 L528.5 278.6 L529 277.9 L529.5 277.2 L530 276.5 L530.5 275.7 L531 275 L531.5 274.2 L532 273.4 L532.5 272.6 L533 271.8 L533.5 271 L534 270.2 L534.5 269.4 L535 268.6 L535.5 267.7 L536 266.9 L536.5 266 L537 265.1 L537.5 264.3 L538 263.4 L538.5 262.5 L539 261.7 L539.5 260.8 L540 259.9 L540.5 259 L541 258.1 L541.5 257.3 L542 256.4 L542.5 255.5 L543 254.7 L543.5 253.8 L544 253 L544.5 252.2 L545 251.4 L545.5 250.5 L546 249.8 L546.5 249 L547 248.2 L547.5 247.5 L548 246.8 L548.5 246.1 L549 245.4 L549.5 244.8 L550 244.1 L550.5 243.5 L551 243 L551.5 242.4 L552 241.9 L552.5 241.5 L553 241 L553.5 240.6 L554 240.3 L554.5 240 L555 239.7 L555.5 239.4 L556 239.2 L556.5 239.1 L557 239 L557.5 238.9 L558 238.9 L558.5 238.9 L559 239 L559.5 239.1 L560 239.3 L560.5 239.5 L561 239.7 L561.5 240 L562 240.4 L562.5 240.8 L563 241.2 L563.5 241.7 L564 242.2 L564.5 242.7 L565 243.3 L565.5 243.9 L566 244.5 L566.5 245.2 L567 245.9 L567.5 246.7 L568 247.4 L568.5 248.3 L569 249.1 L569.5 250 L570 250.9 L570.5 251.9 L571 252.8 L571.5 253.8 L572 254.8 L572.5 255.9 L573 257 L573.5 258.1 L574 259.2 L574.5 260.3 L575 261.5 L575.5 262.7 L576 263.9 L576.5 265.1 L577 266.4 L577.5 267.6 L578 268.9 L578.5 270.2 L579 271.5 L579.5 272.8 L580 274.1 L580.5 275.4 L581 276.7 L581.5 278.1 L582 279.4 L582.5 280.8 L583 282.1 L583.5 283.5 L584 284.8 L584.5 286.2 L585 287.5 L585.5 288.9 L586 290.3 L586.5 291.6 L587 293 L587.5 294.3 L588 295.7 L588.5 297 L589 298.4 L589.5 299.7 L590 301 L590.5 302.3 L591 303.6 L591.5 304.9 L592 306.2 L592.5 307.5 L593 308.8 L593.5 310 L594 311.3 L594.5 312.5 L595 313.7 L595.5 314.9 L596 316.1 L596.5 317.3 L597 318.4 L597.5 319.6 L598 320.7 L598.5 321.8 L599 322.9 L599.5 324 L600 325.1 L600.5 326.1 L601 327.2 L601.5 328.2 L602 329.2 L602.5 330.2 L603 331.2 L603.5 332.1 L604 333 L604.5 334 L605 334.9 L605.5 335.7 L606 336.6 L606.5 337.4 L607 338.3 L607.5 339.1 L608 339.9 L608.5 340.7 L609 341.4 L609.5 342.2 L610 342.9 L610.5 343.6 L611 344.3 L611.5 345 L612 345.6 L612.5 346.3 L613 346.9 L613.5 347.5 L614 348.1 L614.5 348.7 L615 349.3 L615.5 349.8 L616 350.3 L616.5 350.9 L617 351.4 L617.5 351.9 L618 352.3 L618.5 352.8 L619 353.3 L619.5 353.7 L620 354.1 L620.5 354.5 L621 354.9 L621.5 355.3 L622 355.7 L622.5 356.1 L623 356.4 L623.5 356.8 L624 357.1 L624.5 357.4 L625 357.7 L625.5 358 L626 358.3 L626.5 358.6 L627 358.9 L627.5 359.1 L628 359.4 L628.5 359.6 L629 359.9 L629.5 360.1 L630 360.3 L630.5 360.5 L631 360.7 L631.5 360.9 L632 361.1 L632.5 361.3 L633 361.5 L633.5 361.7 L634 361.8 L634.5 362 L635 362.1 L635.5 362.3 L636 362.4 L636.5 362.6 L637 362.7 L637.5 362.8 L638 363 L638.5 363.1 L639 363.2 L639.5 363.3 L640 363.4 L640.5 363.5 L641 363.6 L641.5 363.7 L642 363.8 L642.5 363.9 L643 364 L643.5 364.1 L644 364.1 L644.5 364.2 L645 364.3 L645.5 364.4 L646 364.4 L646.5 364.5 L647 364.6 L647.5 364.6 L648 364.7 L648.5 364.8 L649 364.8 L649.5 364.9 L650 364.9 L650.5 365 L651 365 L651.5 365.1 L652 365.1 L652.5 365.2 L653 365.2 L653.5 365.2 L654 365.3 L654.5 365.3 L655 365.4 L655.5 365.4 L656 365.4 L656.5 365.5 L657 365.5 L657.5 365.5 L658 365.6 L658.5 365.6 L659 365.6 L659.5 365.7 L660 365.7 L660.5 365.7 L661 365.8 L661.5 365.8 L662 365.8 L662.5 365.8 L663 365.9 L663.5 365.9 L664 365.9 L664.5 365.9 L665 366 L665.5 366 L666 366 L666.5 366 L667 366 L667.5 366.1 L668 366.1 L668.5 366.1 L669 366.1 L669.5 366.1 L670 366.2" fill="none" stroke="#0000d8" stroke-width="3.4" stroke-linejoin="round"/>
<g fill="none" stroke="#e01818" stroke-width="1.3"><circle cx="365" cy="497.5" r="4.6"/><circle cx="368.1" cy="497.4" r="4.6"/><circle cx="371.2" cy="498.8" r="4.6"/><circle cx="374.3" cy="496.2" r="4.6"/><circle cx="377.4" cy="497.8" r="4.6"/><circle cx="380.5" cy="495.9" r="4.6"/><circle cx="383.6" cy="498.4" r="4.6"/><circle cx="386.7" cy="497.5" r="4.6"/><circle cx="389.8" cy="498.2" r="4.6"/><circle cx="392.9" cy="496.4" r="4.6"/><circle cx="396" cy="496.8" r="4.6"/><circle cx="399.1" cy="495.9" r="4.6"/><circle cx="402.2" cy="495.2" r="4.6"/><circle cx="405.3" cy="495.4" r="4.6"/><circle cx="408.4" cy="493.7" r="4.6"/><circle cx="411.5" cy="493.9" r="4.6"/><circle cx="414.6" cy="494.1" r="4.6"/><circle cx="417.7" cy="492.8" r="4.6"/><circle cx="420.8" cy="491.4" r="4.6"/><circle cx="423.9" cy="492.5" r="4.6"/><circle cx="427" cy="489.7" r="4.6"/><circle cx="430.1" cy="488" r="4.6"/><circle cx="433.2" cy="487.3" r="4.6"/><circle cx="436.3" cy="485" r="4.6"/><circle cx="439.4" cy="483.5" r="4.6"/><circle cx="442.5" cy="481.8" r="4.6"/><circle cx="445.6" cy="481.9" r="4.6"/><circle cx="448.7" cy="478.3" r="4.6"/><circle cx="451.8" cy="476.1" r="4.6"/><circle cx="454.9" cy="474.4" r="4.6"/><circle cx="458" cy="473.4" r="4.6"/><circle cx="461.1" cy="469.4" r="4.6"/><circle cx="464.2" cy="466.9" r="4.6"/><circle cx="467.3" cy="466.9" r="4.6"/><circle cx="470.4" cy="461.7" r="4.6"/><circle cx="473.5" cy="460.5" r="4.6"/><circle cx="476.6" cy="459.3" r="4.6"/><circle cx="479.7" cy="458.6" r="4.6"/><circle cx="482.8" cy="453.6" r="4.6"/><circle cx="485.9" cy="450.3" r="4.6"/><circle cx="489" cy="450.5" r="4.6"/><circle cx="492.1" cy="447.3" r="4.6"/><circle cx="495.2" cy="444.8" r="4.6"/><circle cx="498.3" cy="442.2" r="4.6"/><circle cx="501.4" cy="438.6" r="4.6"/><circle cx="504.5" cy="434.8" r="4.6"/><circle cx="507.6" cy="429.7" r="4.6"/><circle cx="510.7" cy="426" r="4.6"/><circle cx="513.8" cy="419.4" r="4.6"/><circle cx="516.9" cy="412" r="4.6"/><circle cx="520" cy="405.1" r="4.6"/><circle cx="523.1" cy="399.6" r="4.6"/><circle cx="526.2" cy="393.1" r="4.6"/><circle cx="529.3" cy="385.4" r="4.6"/><circle cx="532.4" cy="381.4" r="4.6"/><circle cx="535.5" cy="379.5" r="4.6"/><circle cx="538.6" cy="377.1" r="4.6"/><circle cx="541.7" cy="377.3" r="4.6"/><circle cx="544.8" cy="380.3" r="4.6"/><circle cx="547.9" cy="383.8" r="4.6"/><circle cx="551" cy="388.9" r="4.6"/><circle cx="554.1" cy="393.5" r="4.6"/><circle cx="557.2" cy="403.5" r="4.6"/><circle cx="560.3" cy="411.3" r="4.6"/><circle cx="563.4" cy="418.7" r="4.6"/><circle cx="566.5" cy="428.6" r="4.6"/><circle cx="569.6" cy="436.3" r="4.6"/><circle cx="572.7" cy="444.2" r="4.6"/><circle cx="575.8" cy="454" r="4.6"/><circle cx="578.9" cy="462.1" r="4.6"/><circle cx="582" cy="467.2" r="4.6"/><circle cx="585.1" cy="473.9" r="4.6"/><circle cx="588.2" cy="479.6" r="4.6"/><circle cx="591.3" cy="482.3" r="4.6"/><circle cx="594.4" cy="486.5" r="4.6"/><circle cx="597.5" cy="490.8" r="4.6"/><circle cx="600.6" cy="491.5" r="4.6"/><circle cx="603.7" cy="494.9" r="4.6"/><circle cx="606.8" cy="498.3" r="4.6"/><circle cx="609.9" cy="499.5" r="4.6"/><circle cx="613" cy="500.3" r="4.6"/><circle cx="616.1" cy="499.2" r="4.6"/><circle cx="619.2" cy="503.3" r="4.6"/><circle cx="622.3" cy="502.5" r="4.6"/><circle cx="625.4" cy="503.1" r="4.6"/><circle cx="628.5" cy="503.3" r="4.6"/><circle cx="631.6" cy="501.8" r="4.6"/><circle cx="634.7" cy="502.2" r="4.6"/><circle cx="637.8" cy="502.6" r="4.6"/><circle cx="640.9" cy="505.3" r="4.6"/><circle cx="644" cy="503.2" r="4.6"/><circle cx="647.1" cy="503.8" r="4.6"/><circle cx="650.2" cy="503.9" r="4.6"/><circle cx="653.3" cy="504.6" r="4.6"/><circle cx="656.4" cy="504.7" r="4.6"/><circle cx="659.5" cy="504.6" r="4.6"/><circle cx="662.6" cy="503.4" r="4.6"/><circle cx="665.7" cy="502" r="4.6"/><circle cx="668.8" cy="504.7" r="4.6"/></g>
<path d="M364 501.8 L365 501.8 L366 501.8 L367 501.8 L368 501.8 L369 501.8 L370 501.8 L371 501.8 L372 501.8 L373 501.8 L374 501.8 L375 501.8 L376 501.8 L377 501.8 L378 501.8 L379 501.8 L380 501.8 L381 501.8 L382 501.8 L383 501.8 L384 501.8 L385 501.8 L386 501.8 L387 501.8 L388 501.8 L389 501.8 L390 501.8 L391 501.8 L392 501.8 L393 501.8 L394 501.8 L395 501.8 L396 501.8 L397 501.8 L398 501.8 L399 501.8 L400 501.8 L401 501.9 L402 501.9 L403 501.9 L404 501.9 L405 501.9 L406 501.9 L407 501.9 L408 501.9 L409 501.9 L410 501.9 L411 501.9 L412 501.9 L413 501.9 L414 501.9 L415 501.9 L416 501.9 L417 501.9 L418 501.9 L419 501.9 L420 501.9 L421 501.9 L422 501.9 L423 501.9 L424 501.9 L425 501.9 L426 501.9 L427 501.9 L428 501.9 L429 502 L430 502 L431 502 L432 502 L433 502 L434 502 L435 502 L436 502 L437 502 L438 502 L439 502 L440 502 L441 502 L442 502.1 L443 502.1 L444 502.1 L445 502.1 L446 502.1 L447 502.1 L448 502.1 L449 502.1 L450 502.1 L451 502.1 L452 502.2 L453 502.2 L454 502.2 L455 502.2 L456 502.2 L457 502.2 L458 502.2 L459 502.3 L460 502.3 L461 502.3 L462 502.3 L463 502.3 L464 502.3 L465 502.4 L466 502.4 L467 502.4 L468 502.4 L469 502.4 L470 502.4 L471 502.5 L472 502.5 L473 502.5 L474 502.5 L475 502.5 L476 502.6 L477 502.6 L478 502.6 L479 502.6 L480 502.7 L481 502.7 L482 502.7 L483 502.7 L484 502.7 L485 502.8 L486 502.8 L487 502.8 L488 502.8 L489 502.9 L490 502.9 L491 502.9 L492 503 L493 503 L494 503 L495 503 L496 503.1 L497 503.1 L498 503.1 L499 503.2 L500 503.2 L501 503.2 L502 503.2 L503 503.3 L504 503.3 L505 503.3 L506 503.4 L507 503.4 L508 503.5 L509 503.5 L510 503.5 L511 503.6 L512 503.6 L513 503.7 L514 503.7 L515 503.7 L516 503.8 L517 503.8 L518 503.9 L519 503.9 L520 504 L521 504 L522 504.1 L523 504.1 L524 504.2 L525 504.2 L526 504.3 L527 504.3 L528 504.4 L529 504.5 L530 504.5 L531 504.6 L532 504.6 L533 504.7 L534 504.8 L535 504.8 L536 504.9 L537 505 L538 505 L539 505.1 L540 505.1 L541 505.2 L542 505.3 L543 505.3 L544 505.4 L545 505.5 L546 505.5 L547 505.6 L548 505.7 L549 505.7 L550 505.8 L551 505.8 L552 505.9 L553 505.9 L554 506 L555 506.1 L556 506.1 L557 506.2 L558 506.2 L559 506.3 L560 506.3 L561 506.4 L562 506.4 L563 506.5 L564 506.5 L565 506.5 L566 506.6 L567 506.6 L568 506.7 L569 506.7 L570 506.7 L571 506.8 L572 506.8 L573 506.8 L574 506.9 L575 506.9 L576 506.9 L577 506.9 L578 507 L579 507 L580 507 L581 507 L582 507 L583 507.1 L584 507.1 L585 507.1 L586 507.1 L587 507.1 L588 507.1 L589 507.2 L590 507.2 L591 507.2 L592 507.2 L593 507.2 L594 507.2 L595 507.2 L596 507.2 L597 507.2 L598 507.3 L599 507.3 L600 507.3 L601 507.3 L602 507.3 L603 507.3 L604 507.3 L605 507.3 L606 507.3 L607 507.3 L608 507.3 L609 507.3 L610 507.3 L611 507.3 L612 507.3 L613 507.3 L614 507.3 L615 507.3 L616 507.3 L617 507.3 L618 507.3 L619 507.3 L620 507.3 L621 507.3 L622 507.4 L623 507.4 L624 507.4 L625 507.4 L626 507.4 L627 507.4 L628 507.4 L629 507.4 L630 507.4 L631 507.4 L632 507.4 L633 507.4 L634 507.4 L635 507.4 L636 507.4 L637 507.4 L638 507.4 L639 507.4 L640 507.4 L641 507.4 L642 507.4 L643 507.4 L644 507.4 L645 507.4 L646 507.4 L647 507.4 L648 507.4 L649 507.4 L650 507.4 L651 507.4 L652 507.4 L653 507.4 L654 507.4 L655 507.4 L656 507.4 L657 507.4 L658 507.4 L659 507.4 L660 507.4 L661 507.4 L662 507.4 L663 507.4 L664 507.4 L665 507.4 L666 507.4 L667 507.4 L668 507.4 L669 507.4 L670 507.4" fill="none" stroke="#111" stroke-width="1.3"/>
<path d="M364 501.8L367 496.8L370 501.8ZM370.4 501.8L373.4 496.8L376.4 501.8ZM376.8 501.8L379.8 496.8L382.8 501.8ZM383.2 501.8L386.2 496.8L389.2 501.8ZM389.6 501.8L392.6 496.8L395.6 501.8ZM396 501.8L399 496.8L402 501.8ZM402.4 501.9L405.4 496.9L408.4 501.9ZM408.8 501.9L411.8 496.9L414.8 501.9ZM415.2 501.9L418.2 496.9L421.2 501.9ZM421.6 501.9L424.6 496.9L427.6 501.9ZM428 502L431 497L434 502ZM434.4 502L437.4 497L440.4 502ZM440.8 502.1L443.8 497.1L446.8 502.1ZM447.2 502.1L450.2 497.1L453.2 502.1ZM453.6 502.2L456.6 497.2L459.6 502.2ZM460 502.3L463 497.3L466 502.3ZM466.4 502.4L469.4 497.4L472.4 502.4ZM472.8 502.6L475.8 497.6L478.8 502.6ZM479.2 502.7L482.2 497.7L485.2 502.7ZM485.6 502.9L488.6 497.9L491.6 502.9ZM492 503L495 498L498 503ZM498.4 503.2L501.4 498.2L504.4 503.2ZM504.8 503.5L507.8 498.5L510.8 503.5ZM511.2 503.7L514.2 498.7L517.2 503.7ZM517.6 504L520.6 499L523.6 504ZM524 504.3L527 499.3L530 504.3ZM530.4 504.7L533.4 499.7L536.4 504.7ZM536.8 505.1L539.8 500.1L542.8 505.1ZM543.2 505.5L546.2 500.5L549.2 505.5ZM549.6 505.9L552.6 500.9L555.6 505.9ZM556 506.3L559 501.3L562 506.3ZM562.4 506.6L565.4 501.6L568.4 506.6ZM568.8 506.8L571.8 501.8L574.8 506.8ZM575.2 507L578.2 502L581.2 507ZM581.6 507.1L584.6 502.1L587.6 507.1ZM588 507.2L591 502.2L594 507.2ZM594.4 507.3L597.4 502.3L600.4 507.3ZM600.8 507.3L603.8 502.3L606.8 507.3ZM607.2 507.3L610.2 502.3L613.2 507.3ZM613.6 507.3L616.6 502.3L619.6 507.3ZM620 507.4L623 502.4L626 507.4ZM626.4 507.4L629.4 502.4L632.4 507.4ZM632.8 507.4L635.8 502.4L638.8 507.4ZM639.2 507.4L642.2 502.4L645.2 507.4ZM645.6 507.4L648.6 502.4L651.6 507.4ZM652 507.4L655 502.4L658 507.4ZM658.4 507.4L661.4 502.4L664.4 507.4ZM664.8 507.4L667.8 502.4L670.8 507.4Z" fill="none" stroke="#111" stroke-width="1.1"/>
<path d="M364 499.8 L364.5 499.8 L365 499.8 L365.5 499.8 L366 499.8 L366.5 499.8 L367 499.8 L367.5 499.8 L368 499.8 L368.5 499.8 L369 499.8 L369.5 499.8 L370 499.8 L370.5 499.8 L371 499.8 L371.5 499.7 L372 499.7 L372.5 499.7 L373 499.7 L373.5 499.7 L374 499.7 L374.5 499.7 L375 499.7 L375.5 499.7 L376 499.7 L376.5 499.7 L377 499.7 L377.5 499.7 L378 499.7 L378.5 499.7 L379 499.7 L379.5 499.7 L380 499.7 L380.5 499.7 L381 499.7 L381.5 499.7 L382 499.7 L382.5 499.7 L383 499.7 L383.5 499.7 L384 499.7 L384.5 499.7 L385 499.7 L385.5 499.7 L386 499.7 L386.5 499.7 L387 499.7 L387.5 499.7 L388 499.7 L388.5 499.7 L389 499.7 L389.5 499.7 L390 499.7 L390.5 499.7 L391 499.7 L391.5 499.6 L392 499.6 L392.5 499.6 L393 499.6 L393.5 499.6 L394 499.6 L394.5 499.6 L395 499.6 L395.5 499.6 L396 499.6 L396.5 499.6 L397 499.6 L397.5 499.6 L398 499.6 L398.5 499.6 L399 499.6 L399.5 499.6 L400 499.6 L400.5 499.6 L401 499.6 L401.5 499.6 L402 499.6 L402.5 499.6 L403 499.6 L403.5 499.6 L404 499.6 L404.5 499.6 L405 499.6 L405.5 499.6 L406 499.6 L406.5 499.5 L407 499.5 L407.5 499.5 L408 499.5 L408.5 499.5 L409 499.5 L409.5 499.5 L410 499.5 L410.5 499.5 L411 499.5 L411.5 499.5 L412 499.5 L412.5 499.5 L413 499.5 L413.5 499.5 L414 499.5 L414.5 499.5 L415 499.5 L415.5 499.5 L416 499.5 L416.5 499.5 L417 499.5 L417.5 499.5 L418 499.5 L418.5 499.4 L419 499.4 L419.5 499.4 L420 499.4 L420.5 499.4 L421 499.4 L421.5 499.4 L422 499.4 L422.5 499.4 L423 499.4 L423.5 499.4 L424 499.4 L424.5 499.4 L425 499.4 L425.5 499.4 L426 499.4 L426.5 499.4 L427 499.4 L427.5 499.4 L428 499.4 L428.5 499.3 L429 499.3 L429.5 499.3 L430 499.3 L430.5 499.3 L431 499.3 L431.5 499.3 L432 499.3 L432.5 499.3 L433 499.3 L433.5 499.3 L434 499.3 L434.5 499.3 L435 499.3 L435.5 499.3 L436 499.3 L436.5 499.2 L437 499.2 L437.5 499.2 L438 499.2 L438.5 499.2 L439 499.2 L439.5 499.2 L440 499.2 L440.5 499.2 L441 499.2 L441.5 499.2 L442 499.2 L442.5 499.2 L443 499.1 L443.5 499.1 L444 499.1 L444.5 499.1 L445 499.1 L445.5 499.1 L446 499.1 L446.5 499.1 L447 499.1 L447.5 499.1 L448 499 L448.5 499 L449 499 L449.5 499 L450 499 L450.5 499 L451 499 L451.5 499 L452 498.9 L452.5 498.9 L453 498.9 L453.5 498.9 L454 498.9 L454.5 498.9 L455 498.8 L455.5 498.8 L456 498.8 L456.5 498.8 L457 498.8 L457.5 498.7 L458 498.7 L458.5 498.7 L459 498.7 L459.5 498.6 L460 498.6 L460.5 498.6 L461 498.5 L461.5 498.5 L462 498.5 L462.5 498.4 L463 498.4 L463.5 498.4 L464 498.3 L464.5 498.3 L465 498.2 L465.5 498.2 L466 498.1 L466.5 498.1 L467 498 L467.5 497.9 L468 497.9 L468.5 497.8 L469 497.7 L469.5 497.7 L470 497.6 L470.5 497.5 L471 497.4 L471.5 497.3 L472 497.2 L472.5 497.1 L473 497 L473.5 496.9 L474 496.8 L474.5 496.7 L475 496.5 L475.5 496.4 L476 496.3 L476.5 496.1 L477 496 L477.5 495.8 L478 495.6 L478.5 495.4 L479 495.3 L479.5 495.1 L480 494.9 L480.5 494.6 L481 494.4 L481.5 494.2 L482 493.9 L482.5 493.7 L483 493.4 L483.5 493.1 L484 492.8 L484.5 492.5 L485 492.2 L485.5 491.9 L486 491.6 L486.5 491.2 L487 490.8 L487.5 490.4 L488 490 L488.5 489.6 L489 489.2 L489.5 488.8 L490 488.3 L490.5 487.8 L491 487.3 L491.5 486.8 L492 486.3 L492.5 485.7 L493 485.1 L493.5 484.5 L494 483.9 L494.5 483.3 L495 482.7 L495.5 482 L496 481.3 L496.5 480.6 L497 479.8 L497.5 479.1 L498 478.3 L498.5 477.5 L499 476.7 L499.5 475.9 L500 475 L500.5 474.1 L501 473.2 L501.5 472.3 L502 471.3 L502.5 470.3 L503 469.3 L503.5 468.3 L504 467.2 L504.5 466.2 L505 465.1 L505.5 464 L506 462.8 L506.5 461.7 L507 460.5 L507.5 459.3 L508 458.1 L508.5 456.8 L509 455.6 L509.5 454.3 L510 453 L510.5 451.7 L511 450.4 L511.5 449 L512 447.7 L512.5 446.3 L513 444.9 L513.5 443.5 L514 442.1 L514.5 440.6 L515 439.2 L515.5 437.7 L516 436.3 L516.5 434.8 L517 433.3 L517.5 431.9 L518 430.4 L518.5 428.9 L519 427.4 L519.5 425.9 L520 424.4 L520.5 423 L521 421.5 L521.5 420 L522 418.6 L522.5 417.1 L523 415.7 L523.5 414.2 L524 412.8 L524.5 411.4 L525 410 L525.5 408.7 L526 407.3 L526.5 406 L527 404.7 L527.5 403.4 L528 402.2 L528.5 400.9 L529 399.7 L529.5 398.6 L530 397.5 L530.5 396.4 L531 395.3 L531.5 394.3 L532 393.3 L532.5 392.4 L533 391.5 L533.5 390.6 L534 389.8 L534.5 389.1 L535 388.4 L535.5 387.7 L536 387.1 L536.5 386.6 L537 386.1 L537.5 385.6 L538 385.3 L538.5 384.9 L539 384.7 L539.5 384.4 L540 384.3 L540.5 384.2 L541 384.1 L541.5 384.1 L542 384.2 L542.5 384.3 L543 384.5 L543.5 384.7 L544 384.9 L544.5 385.2 L545 385.5 L545.5 385.9 L546 386.4 L546.5 386.8 L547 387.3 L547.5 387.9 L548 388.5 L548.5 389.1 L549 389.8 L549.5 390.5 L550 391.2 L550.5 392 L551 392.8 L551.5 393.7 L552 394.6 L552.5 395.5 L553 396.4 L553.5 397.4 L554 398.4 L554.5 399.5 L555 400.5 L555.5 401.6 L556 402.7 L556.5 403.9 L557 405 L557.5 406.2 L558 407.4 L558.5 408.6 L559 409.9 L559.5 411.1 L560 412.4 L560.5 413.7 L561 415 L561.5 416.3 L562 417.6 L562.5 418.9 L563 420.2 L563.5 421.6 L564 422.9 L564.5 424.3 L565 425.6 L565.5 427 L566 428.3 L566.5 429.7 L567 431 L567.5 432.4 L568 433.8 L568.5 435.1 L569 436.5 L569.5 437.8 L570 439.1 L570.5 440.5 L571 441.8 L571.5 443.1 L572 444.4 L572.5 445.7 L573 447 L573.5 448.3 L574 449.6 L574.5 450.8 L575 452 L575.5 453.3 L576 454.5 L576.5 455.7 L577 456.9 L577.5 458.1 L578 459.2 L578.5 460.4 L579 461.5 L579.5 462.6 L580 463.7 L580.5 464.8 L581 465.8 L581.5 466.9 L582 467.9 L582.5 468.9 L583 469.9 L583.5 470.9 L584 471.8 L584.5 472.8 L585 473.7 L585.5 474.6 L586 475.5 L586.5 476.4 L587 477.2 L587.5 478 L588 478.8 L588.5 479.6 L589 480.4 L589.5 481.2 L590 481.9 L590.5 482.6 L591 483.3 L591.5 484 L592 484.7 L592.5 485.3 L593 486 L593.5 486.6 L594 487.2 L594.5 487.8 L595 488.3 L595.5 488.9 L596 489.4 L596.5 490 L597 490.5 L597.5 491 L598 491.4 L598.5 491.9 L599 492.4 L599.5 492.8 L600 493.2 L600.5 493.6 L601 494 L601.5 494.4 L602 494.8 L602.5 495.1 L603 495.5 L603.5 495.8 L604 496.1 L604.5 496.5 L605 496.8 L605.5 497.1 L606 497.3 L606.5 497.6 L607 497.9 L607.5 498.1 L608 498.4 L608.5 498.6 L609 498.8 L609.5 499.1 L610 499.3 L610.5 499.5 L611 499.7 L611.5 499.9 L612 500 L612.5 500.2 L613 500.4 L613.5 500.5 L614 500.7 L614.5 500.8 L615 501 L615.5 501.1 L616 501.3 L616.5 501.4 L617 501.5 L617.5 501.6 L618 501.7 L618.5 501.9 L619 502 L619.5 502.1 L620 502.2 L620.5 502.2 L621 502.3 L621.5 502.4 L622 502.5 L622.5 502.6 L623 502.7 L623.5 502.7 L624 502.8 L624.5 502.9 L625 502.9 L625.5 503 L626 503.1 L626.5 503.1 L627 503.2 L627.5 503.2 L628 503.3 L628.5 503.3 L629 503.4 L629.5 503.4 L630 503.5 L630.5 503.5 L631 503.5 L631.5 503.6 L632 503.6 L632.5 503.7 L633 503.7 L633.5 503.7 L634 503.8 L634.5 503.8 L635 503.8 L635.5 503.8 L636 503.9 L636.5 503.9 L637 503.9 L637.5 504 L638 504 L638.5 504 L639 504 L639.5 504 L640 504.1 L640.5 504.1 L641 504.1 L641.5 504.1 L642 504.2 L642.5 504.2 L643 504.2 L643.5 504.2 L644 504.2 L644.5 504.2 L645 504.3 L645.5 504.3 L646 504.3 L646.5 504.3 L647 504.3 L647.5 504.3 L648 504.4 L648.5 504.4 L649 504.4 L649.5 504.4 L650 504.4 L650.5 504.4 L651 504.4 L651.5 504.5 L652 504.5 L652.5 504.5 L653 504.5 L653.5 504.5 L654 504.5 L654.5 504.5 L655 504.5 L655.5 504.5 L656 504.6 L656.5 504.6 L657 504.6 L657.5 504.6 L658 504.6 L658.5 504.6 L659 504.6 L659.5 504.6 L660 504.6 L660.5 504.7 L661 504.7 L661.5 504.7 L662 504.7 L662.5 504.7 L663 504.7 L663.5 504.7 L664 504.7 L664.5 504.7 L665 504.7 L665.5 504.7 L666 504.8 L666.5 504.8 L667 504.8 L667.5 504.8 L668 504.8 L668.5 504.8 L669 504.8 L669.5 504.8 L670 504.8" fill="none" stroke="#8010ee" stroke-width="2.5"/>
<path d="M364 499.6 L364.5 499.6 L365 499.6 L365.5 499.6 L366 499.6 L366.5 499.6 L367 499.5 L367.5 499.5 L368 499.5 L368.5 499.5 L369 499.5 L369.5 499.5 L370 499.5 L370.5 499.5 L371 499.5 L371.5 499.5 L372 499.5 L372.5 499.5 L373 499.5 L373.5 499.5 L374 499.5 L374.5 499.4 L375 499.4 L375.5 499.4 L376 499.4 L376.5 499.4 L377 499.4 L377.5 499.4 L378 499.4 L378.5 499.4 L379 499.4 L379.5 499.4 L380 499.3 L380.5 499.3 L381 499.3 L381.5 499.3 L382 499.3 L382.5 499.3 L383 499.3 L383.5 499.3 L384 499.2 L384.5 499.2 L385 499.2 L385.5 499.2 L386 499.2 L386.5 499.2 L387 499.2 L387.5 499.1 L388 499.1 L388.5 499.1 L389 499.1 L389.5 499.1 L390 499 L390.5 499 L391 499 L391.5 499 L392 499 L392.5 498.9 L393 498.9 L393.5 498.9 L394 498.9 L394.5 498.8 L395 498.8 L395.5 498.8 L396 498.8 L396.5 498.7 L397 498.7 L397.5 498.7 L398 498.6 L398.5 498.6 L399 498.6 L399.5 498.5 L400 498.5 L400.5 498.4 L401 498.4 L401.5 498.4 L402 498.3 L402.5 498.3 L403 498.2 L403.5 498.2 L404 498.1 L404.5 498.1 L405 498 L405.5 498 L406 497.9 L406.5 497.9 L407 497.8 L407.5 497.8 L408 497.7 L408.5 497.6 L409 497.6 L409.5 497.5 L410 497.4 L410.5 497.4 L411 497.3 L411.5 497.2 L412 497.1 L412.5 497.1 L413 497 L413.5 496.9 L414 496.8 L414.5 496.7 L415 496.6 L415.5 496.6 L416 496.5 L416.5 496.4 L417 496.3 L417.5 496.2 L418 496.1 L418.5 495.9 L419 495.8 L419.5 495.7 L420 495.6 L420.5 495.5 L421 495.4 L421.5 495.2 L422 495.1 L422.5 495 L423 494.8 L423.5 494.7 L424 494.6 L424.5 494.4 L425 494.3 L425.5 494.1 L426 494 L426.5 493.8 L427 493.7 L427.5 493.5 L428 493.3 L428.5 493.2 L429 493 L429.5 492.8 L430 492.6 L430.5 492.4 L431 492.3 L431.5 492.1 L432 491.9 L432.5 491.7 L433 491.5 L433.5 491.3 L434 491.1 L434.5 490.9 L435 490.6 L435.5 490.4 L436 490.2 L436.5 490 L437 489.7 L437.5 489.5 L438 489.3 L438.5 489 L439 488.8 L439.5 488.5 L440 488.3 L440.5 488 L441 487.8 L441.5 487.5 L442 487.3 L442.5 487 L443 486.7 L443.5 486.5 L444 486.2 L444.5 485.9 L445 485.6 L445.5 485.3 L446 485.1 L446.5 484.8 L447 484.5 L447.5 484.2 L448 483.9 L448.5 483.6 L449 483.3 L449.5 483 L450 482.7 L450.5 482.4 L451 482.1 L451.5 481.8 L452 481.4 L452.5 481.1 L453 480.8 L453.5 480.5 L454 480.2 L454.5 479.9 L455 479.6 L455.5 479.2 L456 478.9 L456.5 478.6 L457 478.3 L457.5 478 L458 477.6 L458.5 477.3 L459 477 L459.5 476.7 L460 476.4 L460.5 476 L461 475.7 L461.5 475.4 L462 475.1 L462.5 474.8 L463 474.5 L463.5 474.2 L464 473.9 L464.5 473.6 L465 473.2 L465.5 473 L466 472.7 L466.5 472.4 L467 472.1 L467.5 471.8 L468 471.5 L468.5 471.2 L469 471 L469.5 470.7 L470 470.4 L470.5 470.2 L471 469.9 L471.5 469.7 L472 469.4 L472.5 469.2 L473 468.9 L473.5 468.7 L474 468.5 L474.5 468.3 L475 468.1 L475.5 467.9 L476 467.7 L476.5 467.5 L477 467.3 L477.5 467.1 L478 467 L478.5 466.8 L479 466.7 L479.5 466.5 L480 466.4 L480.5 466.3 L481 466.2 L481.5 466.1 L482 466 L482.5 465.9 L483 465.8 L483.5 465.7 L484 465.7 L484.5 465.6 L485 465.6 L485.5 465.6 L486 465.5 L486.5 465.5 L487 465.5 L487.5 465.5 L488 465.6 L488.5 465.6 L489 465.6 L489.5 465.7 L490 465.7 L490.5 465.8 L491 465.9 L491.5 465.9 L492 466 L492.5 466.1 L493 466.3 L493.5 466.4 L494 466.5 L494.5 466.6 L495 466.8 L495.5 466.9 L496 467.1 L496.5 467.3 L497 467.5 L497.5 467.7 L498 467.9 L498.5 468.1 L499 468.3 L499.5 468.5 L500 468.7 L500.5 468.9 L501 469.2 L501.5 469.4 L502 469.7 L502.5 469.9 L503 470.2 L503.5 470.5 L504 470.8 L504.5 471 L505 471.3 L505.5 471.6 L506 471.9 L506.5 472.2 L507 472.5 L507.5 472.8 L508 473.1 L508.5 473.5 L509 473.8 L509.5 474.1 L510 474.4 L510.5 474.8 L511 475.1 L511.5 475.4 L512 475.8 L512.5 476.1 L513 476.4 L513.5 476.8 L514 477.1 L514.5 477.5 L515 477.8 L515.5 478.2 L516 478.5 L516.5 478.9 L517 479.2 L517.5 479.6 L518 479.9 L518.5 480.3 L519 480.6 L519.5 481 L520 481.3 L520.5 481.7 L521 482 L521.5 482.4 L522 482.7 L522.5 483.1 L523 483.4 L523.5 483.8 L524 484.1 L524.5 484.4 L525 484.8 L525.5 485.1 L526 485.5 L526.5 485.8 L527 486.1 L527.5 486.5 L528 486.8 L528.5 487.1 L529 487.4 L529.5 487.7 L530 488.1 L530.5 488.4 L531 488.7 L531.5 489 L532 489.3 L532.5 489.6 L533 489.9 L533.5 490.2 L534 490.5 L534.5 490.8 L535 491.1 L535.5 491.4 L536 491.7 L536.5 491.9 L537 492.2 L537.5 492.5 L538 492.8 L538.5 493 L539 493.3 L539.5 493.5 L540 493.8 L540.5 494 L541 494.3 L541.5 494.5 L542 494.8 L542.5 495 L543 495.2 L543.5 495.5 L544 495.7 L544.5 495.9 L545 496.1 L545.5 496.4 L546 496.6 L546.5 496.8 L547 497 L547.5 497.2 L548 497.4 L548.5 497.6 L549 497.7 L549.5 497.9 L550 498.1 L550.5 498.3 L551 498.5 L551.5 498.6 L552 498.8 L552.5 499 L553 499.1 L553.5 499.3 L554 499.5 L554.5 499.6 L555 499.8 L555.5 499.9 L556 500 L556.5 500.2 L557 500.3 L557.5 500.4 L558 500.6 L558.5 500.7 L559 500.8 L559.5 500.9 L560 501.1 L560.5 501.2 L561 501.3 L561.5 501.4 L562 501.5 L562.5 501.6 L563 501.7 L563.5 501.8 L564 501.9 L564.5 502 L565 502.1 L565.5 502.2 L566 502.3 L566.5 502.4 L567 502.5 L567.5 502.5 L568 502.6 L568.5 502.7 L569 502.8 L569.5 502.8 L570 502.9 L570.5 503 L571 503 L571.5 503.1 L572 503.2 L572.5 503.2 L573 503.3 L573.5 503.4 L574 503.4 L574.5 503.5 L575 503.5 L575.5 503.6 L576 503.6 L576.5 503.7 L577 503.7 L577.5 503.8 L578 503.8 L578.5 503.9 L579 503.9 L579.5 503.9 L580 504 L580.5 504 L581 504.1 L581.5 504.1 L582 504.1 L582.5 504.2 L583 504.2 L583.5 504.2 L584 504.3 L584.5 504.3 L585 504.3 L585.5 504.3 L586 504.4 L586.5 504.4 L587 504.4 L587.5 504.5 L588 504.5 L588.5 504.5 L589 504.5 L589.5 504.6 L590 504.6 L590.5 504.6 L591 504.6 L591.5 504.6 L592 504.7 L592.5 504.7 L593 504.7 L593.5 504.7 L594 504.7 L594.5 504.7 L595 504.8 L595.5 504.8 L596 504.8 L596.5 504.8 L597 504.8 L597.5 504.8 L598 504.8 L598.5 504.9 L599 504.9 L599.5 504.9 L600 504.9 L600.5 504.9 L601 504.9 L601.5 504.9 L602 504.9 L602.5 505 L603 505 L603.5 505 L604 505 L604.5 505 L605 505 L605.5 505 L606 505 L606.5 505 L607 505 L607.5 505.1 L608 505.1 L608.5 505.1 L609 505.1 L609.5 505.1 L610 505.1 L610.5 505.1 L611 505.1 L611.5 505.1 L612 505.1 L612.5 505.1 L613 505.1 L613.5 505.1 L614 505.1 L614.5 505.2 L615 505.2 L615.5 505.2 L616 505.2 L616.5 505.2 L617 505.2 L617.5 505.2 L618 505.2 L618.5 505.2 L619 505.2 L619.5 505.2 L620 505.2 L620.5 505.2 L621 505.2 L621.5 505.2 L622 505.2 L622.5 505.2 L623 505.2 L623.5 505.2 L624 505.3 L624.5 505.3 L625 505.3 L625.5 505.3 L626 505.3 L626.5 505.3 L627 505.3 L627.5 505.3 L628 505.3 L628.5 505.3 L629 505.3 L629.5 505.3 L630 505.3 L630.5 505.3 L631 505.3 L631.5 505.3 L632 505.3 L632.5 505.3 L633 505.3 L633.5 505.3 L634 505.3 L634.5 505.3 L635 505.3 L635.5 505.3 L636 505.3 L636.5 505.3 L637 505.3 L637.5 505.4 L638 505.4 L638.5 505.4 L639 505.4 L639.5 505.4 L640 505.4 L640.5 505.4 L641 505.4 L641.5 505.4 L642 505.4 L642.5 505.4 L643 505.4 L643.5 505.4 L644 505.4 L644.5 505.4 L645 505.4 L645.5 505.4 L646 505.4 L646.5 505.4 L647 505.4 L647.5 505.4 L648 505.4 L648.5 505.4 L649 505.4 L649.5 505.4 L650 505.4 L650.5 505.4 L651 505.4 L651.5 505.4 L652 505.4 L652.5 505.4 L653 505.4 L653.5 505.4 L654 505.4 L654.5 505.4 L655 505.4 L655.5 505.5 L656 505.5 L656.5 505.5 L657 505.5 L657.5 505.5 L658 505.5 L658.5 505.5 L659 505.5 L659.5 505.5 L660 505.5 L660.5 505.5 L661 505.5 L661.5 505.5 L662 505.5 L662.5 505.5 L663 505.5 L663.5 505.5 L664 505.5 L664.5 505.5 L665 505.5 L665.5 505.5 L666 505.5 L666.5 505.5 L667 505.5 L667.5 505.5 L668 505.5 L668.5 505.5 L669 505.5 L669.5 505.5 L670 505.5" fill="none" stroke="#8010ee" stroke-width="2.5"/>
<path d="M364 498.5 L364.5 498.5 L365 498.5 L365.5 498.4 L366 498.4 L366.5 498.4 L367 498.4 L367.5 498.4 L368 498.4 L368.5 498.3 L369 498.3 L369.5 498.3 L370 498.3 L370.5 498.3 L371 498.2 L371.5 498.2 L372 498.2 L372.5 498.2 L373 498.1 L373.5 498.1 L374 498.1 L374.5 498.1 L375 498 L375.5 498 L376 498 L376.5 498 L377 497.9 L377.5 497.9 L378 497.9 L378.5 497.9 L379 497.8 L379.5 497.8 L380 497.8 L380.5 497.7 L381 497.7 L381.5 497.7 L382 497.7 L382.5 497.6 L383 497.6 L383.5 497.6 L384 497.5 L384.5 497.5 L385 497.5 L385.5 497.4 L386 497.4 L386.5 497.4 L387 497.3 L387.5 497.3 L388 497.2 L388.5 497.2 L389 497.2 L389.5 497.1 L390 497.1 L390.5 497 L391 497 L391.5 496.9 L392 496.9 L392.5 496.9 L393 496.8 L393.5 496.8 L394 496.7 L394.5 496.7 L395 496.6 L395.5 496.6 L396 496.5 L396.5 496.5 L397 496.4 L397.5 496.3 L398 496.3 L398.5 496.2 L399 496.2 L399.5 496.1 L400 496 L400.5 496 L401 495.9 L401.5 495.8 L402 495.8 L402.5 495.7 L403 495.6 L403.5 495.6 L404 495.5 L404.5 495.4 L405 495.3 L405.5 495.3 L406 495.2 L406.5 495.1 L407 495 L407.5 494.9 L408 494.8 L408.5 494.7 L409 494.7 L409.5 494.6 L410 494.5 L410.5 494.4 L411 494.3 L411.5 494.2 L412 494.1 L412.5 494 L413 493.8 L413.5 493.7 L414 493.6 L414.5 493.5 L415 493.4 L415.5 493.3 L416 493.1 L416.5 493 L417 492.9 L417.5 492.7 L418 492.6 L418.5 492.5 L419 492.3 L419.5 492.2 L420 492 L420.5 491.9 L421 491.7 L421.5 491.6 L422 491.4 L422.5 491.3 L423 491.1 L423.5 490.9 L424 490.8 L424.5 490.6 L425 490.4 L425.5 490.2 L426 490.1 L426.5 489.9 L427 489.7 L427.5 489.5 L428 489.3 L428.5 489.1 L429 488.9 L429.5 488.7 L430 488.5 L430.5 488.3 L431 488 L431.5 487.8 L432 487.6 L432.5 487.4 L433 487.1 L433.5 486.9 L434 486.7 L434.5 486.4 L435 486.2 L435.5 485.9 L436 485.7 L436.5 485.4 L437 485.2 L437.5 484.9 L438 484.6 L438.5 484.4 L439 484.1 L439.5 483.8 L440 483.5 L440.5 483.3 L441 483 L441.5 482.7 L442 482.4 L442.5 482.1 L443 481.8 L443.5 481.5 L444 481.2 L444.5 480.9 L445 480.6 L445.5 480.3 L446 479.9 L446.5 479.6 L447 479.3 L447.5 479 L448 478.7 L448.5 478.3 L449 478 L449.5 477.7 L450 477.3 L450.5 477 L451 476.7 L451.5 476.3 L452 476 L452.5 475.6 L453 475.3 L453.5 474.9 L454 474.6 L454.5 474.2 L455 473.9 L455.5 473.5 L456 473.2 L456.5 472.8 L457 472.5 L457.5 472.1 L458 471.7 L458.5 471.4 L459 471 L459.5 470.7 L460 470.3 L460.5 469.9 L461 469.6 L461.5 469.2 L462 468.9 L462.5 468.5 L463 468.1 L463.5 467.8 L464 467.4 L464.5 467.1 L465 466.7 L465.5 466.4 L466 466 L466.5 465.6 L467 465.3 L467.5 464.9 L468 464.6 L468.5 464.2 L469 463.9 L469.5 463.5 L470 463.2 L470.5 462.8 L471 462.5 L471.5 462.1 L472 461.8 L472.5 461.4 L473 461.1 L473.5 460.8 L474 460.4 L474.5 460.1 L475 459.7 L475.5 459.4 L476 459.1 L476.5 458.7 L477 458.4 L477.5 458.1 L478 457.7 L478.5 457.4 L479 457.1 L479.5 456.7 L480 456.4 L480.5 456.1 L481 455.7 L481.5 455.4 L482 455 L482.5 454.7 L483 454.4 L483.5 454 L484 453.7 L484.5 453.3 L485 453 L485.5 452.6 L486 452.2 L486.5 451.9 L487 451.5 L487.5 451.1 L488 450.8 L488.5 450.4 L489 450 L489.5 449.6 L490 449.2 L490.5 448.9 L491 448.5 L491.5 448.1 L492 447.7 L492.5 447.3 L493 446.9 L493.5 446.4 L494 446 L494.5 445.6 L495 445.2 L495.5 444.7 L496 444.3 L496.5 443.8 L497 443.3 L497.5 442.8 L498 442.3 L498.5 441.8 L499 441.3 L499.5 440.8 L500 440.2 L500.5 439.6 L501 439.1 L501.5 438.5 L502 437.9 L502.5 437.2 L503 436.6 L503.5 435.9 L504 435.3 L504.5 434.6 L505 433.9 L505.5 433.1 L506 432.4 L506.5 431.6 L507 430.9 L507.5 430.1 L508 429.2 L508.5 428.4 L509 427.6 L509.5 426.7 L510 425.8 L510.5 424.9 L511 424 L511.5 423.1 L512 422.1 L512.5 421.2 L513 420.2 L513.5 419.2 L514 418.2 L514.5 417.2 L515 416.2 L515.5 415.2 L516 414.1 L516.5 413.1 L517 412 L517.5 410.9 L518 409.8 L518.5 408.8 L519 407.7 L519.5 406.6 L520 405.5 L520.5 404.4 L521 403.3 L521.5 402.2 L522 401.1 L522.5 400.1 L523 399 L523.5 397.9 L524 396.9 L524.5 395.8 L525 394.8 L525.5 393.7 L526 392.7 L526.5 391.7 L527 390.8 L527.5 389.8 L528 388.9 L528.5 388 L529 387.1 L529.5 386.3 L530 385.4 L530.5 384.6 L531 383.9 L531.5 383.1 L532 382.4 L532.5 381.8 L533 381.1 L533.5 380.6 L534 380 L534.5 379.5 L535 379.1 L535.5 378.6 L536 378.3 L536.5 378 L537 377.7 L537.5 377.5 L538 377.3 L538.5 377.2 L539 377.1 L539.5 377.1 L540 377.1 L540.5 377.2 L541 377.4 L541.5 377.5 L542 377.8 L542.5 378.1 L543 378.4 L543.5 378.8 L544 379.2 L544.5 379.6 L545 380.1 L545.5 380.6 L546 381.2 L546.5 381.8 L547 382.4 L547.5 383.1 L548 383.8 L548.5 384.6 L549 385.4 L549.5 386.2 L550 387.1 L550.5 387.9 L551 388.9 L551.5 389.8 L552 390.8 L552.5 391.8 L553 392.9 L553.5 393.9 L554 395 L554.5 396.2 L555 397.3 L555.5 398.5 L556 399.7 L556.5 400.9 L557 402.1 L557.5 403.4 L558 404.6 L558.5 405.9 L559 407.2 L559.5 408.5 L560 409.9 L560.5 411.2 L561 412.5 L561.5 413.9 L562 415.3 L562.5 416.6 L563 418 L563.5 419.4 L564 420.8 L564.5 422.2 L565 423.6 L565.5 425 L566 426.4 L566.5 427.8 L567 429.2 L567.5 430.6 L568 432 L568.5 433.3 L569 434.7 L569.5 436.1 L570 437.5 L570.5 438.8 L571 440.2 L571.5 441.5 L572 442.9 L572.5 444.2 L573 445.5 L573.5 446.8 L574 448.1 L574.5 449.4 L575 450.6 L575.5 451.9 L576 453.1 L576.5 454.4 L577 455.6 L577.5 456.8 L578 457.9 L578.5 459.1 L579 460.3 L579.5 461.4 L580 462.5 L580.5 463.6 L581 464.7 L581.5 465.7 L582 466.8 L582.5 467.8 L583 468.8 L583.5 469.8 L584 470.8 L584.5 471.7 L585 472.7 L585.5 473.6 L586 474.5 L586.5 475.3 L587 476.2 L587.5 477 L588 477.9 L588.5 478.7 L589 479.5 L589.5 480.2 L590 481 L590.5 481.7 L591 482.4 L591.5 483.1 L592 483.8 L592.5 484.5 L593 485.1 L593.5 485.7 L594 486.4 L594.5 486.9 L595 487.5 L595.5 488.1 L596 488.6 L596.5 489.2 L597 489.7 L597.5 490.2 L598 490.7 L598.5 491.1 L599 491.6 L599.5 492.1 L600 492.5 L600.5 492.9 L601 493.3 L601.5 493.7 L602 494.1 L602.5 494.4 L603 494.8 L603.5 495.1 L604 495.5 L604.5 495.8 L605 496.1 L605.5 496.4 L606 496.7 L606.5 497 L607 497.2 L607.5 497.5 L608 497.7 L608.5 498 L609 498.2 L609.5 498.5 L610 498.7 L610.5 498.9 L611 499.1 L611.5 499.3 L612 499.5 L612.5 499.6 L613 499.8 L613.5 500 L614 500.1 L614.5 500.3 L615 500.4 L615.5 500.6 L616 500.7 L616.5 500.9 L617 501 L617.5 501.1 L618 501.2 L618.5 501.3 L619 501.4 L619.5 501.5 L620 501.6 L620.5 501.7 L621 501.8 L621.5 501.9 L622 502 L622.5 502.1 L623 502.2 L623.5 502.3 L624 502.3 L624.5 502.4 L625 502.5 L625.5 502.5 L626 502.6 L626.5 502.7 L627 502.7 L627.5 502.8 L628 502.8 L628.5 502.9 L629 502.9 L629.5 503 L630 503 L630.5 503.1 L631 503.1 L631.5 503.2 L632 503.2 L632.5 503.2 L633 503.3 L633.5 503.3 L634 503.3 L634.5 503.4 L635 503.4 L635.5 503.4 L636 503.5 L636.5 503.5 L637 503.5 L637.5 503.6 L638 503.6 L638.5 503.6 L639 503.6 L639.5 503.7 L640 503.7 L640.5 503.7 L641 503.7 L641.5 503.8 L642 503.8 L642.5 503.8 L643 503.8 L643.5 503.9 L644 503.9 L644.5 503.9 L645 503.9 L645.5 503.9 L646 503.9 L646.5 504 L647 504 L647.5 504 L648 504 L648.5 504 L649 504.1 L649.5 504.1 L650 504.1 L650.5 504.1 L651 504.1 L651.5 504.1 L652 504.1 L652.5 504.2 L653 504.2 L653.5 504.2 L654 504.2 L654.5 504.2 L655 504.2 L655.5 504.2 L656 504.3 L656.5 504.3 L657 504.3 L657.5 504.3 L658 504.3 L658.5 504.3 L659 504.3 L659.5 504.3 L660 504.3 L660.5 504.4 L661 504.4 L661.5 504.4 L662 504.4 L662.5 504.4 L663 504.4 L663.5 504.4 L664 504.4 L664.5 504.4 L665 504.5 L665.5 504.5 L666 504.5 L666.5 504.5 L667 504.5 L667.5 504.5 L668 504.5 L668.5 504.5 L669 504.5 L669.5 504.5 L670 504.6" fill="none" stroke="#8010ee" stroke-width="3.4" stroke-linejoin="round"/>
<g fill="none" stroke="#000" stroke-width="2">
<rect x="33" y="1" width="308" height="159.5"/>
<rect x="363" y="1" width="308" height="159.5"/>
<path d="M341 298V222H33V524.2H341V488M341 446V336"/>
<path d="M363 298V222H671.5V524.2H363V488M363 446V336"/>
</g>
<path d="M88.2 160V152M172.5 160V152M256.7 160V152M418.2 160V152M502.5 160V152M586.7 160V152M63 524.2V515M156 524.2V515M249 524.2V515M440.3 524.2V515M532.6 524.2V515M624.8 524.2V515" stroke="#000" stroke-width="1.8" fill="none"/>
<text x="88.2" y="181.7" font-size="18.6" text-anchor="middle" fill="#000">900</text>
<text x="172.5" y="181.7" font-size="18.6" text-anchor="middle" fill="#000">600</text>
<text x="256.7" y="181.7" font-size="18.6" text-anchor="middle" fill="#000">300</text>
<text x="341" y="181.7" font-size="18.6" text-anchor="middle" fill="#000">0</text>
<text x="418.2" y="181.7" font-size="18.6" text-anchor="middle" fill="#000">900</text>
<text x="502.5" y="181.7" font-size="18.6" text-anchor="middle" fill="#000">600</text>
<text x="586.7" y="181.7" font-size="18.6" text-anchor="middle" fill="#000">300</text>
<text x="671" y="181.7" font-size="18.6" text-anchor="middle" fill="#000">0</text>
<text x="63" y="549" font-size="19.3" text-anchor="middle" fill="#000">213</text>
<text x="156" y="549" font-size="19.3" text-anchor="middle" fill="#000">210</text>
<text x="249" y="549" font-size="19.3" text-anchor="middle" fill="#000">207</text>
<text x="341" y="549" font-size="19.3" text-anchor="middle" fill="#000">204</text>
<text x="440.3" y="549" font-size="19.3" text-anchor="middle" fill="#000">534</text>
<text x="532.6" y="549" font-size="19.3" text-anchor="middle" fill="#000">531</text>
<text x="624.8" y="549" font-size="19.3" text-anchor="middle" fill="#000">528</text>
<text x="352.3" y="205.4" font-size="21.6" text-anchor="middle" fill="#000">Binding energy (eV)</text>
<text x="355" y="576.2" font-size="23.2" text-anchor="middle" fill="#000">Binding energy (eV)</text>
<text transform="translate(15.6 95.3) rotate(-90)" font-size="22.7" text-anchor="middle">Intensity (a.u.)</text>
<text transform="translate(15.6 367.8) rotate(-90)" font-size="22.7" text-anchor="middle">Intensity (a.u.)</text>
<text x="44" y="24.5" font-size="24" text-anchor="start" fill="#000">(a)</text>
<text x="376.5" y="23.8" font-size="24" text-anchor="start" fill="#000">(b)</text>
<text x="44" y="250" font-size="24" text-anchor="start" fill="#000">(c)</text>
<text x="82" y="248.7" font-size="19.5" text-anchor="start" fill="#000">Nb 3d</text>
<text x="376" y="250" font-size="24" text-anchor="start" fill="#000">(d)</text>
<text x="412" y="249" font-size="19.5" text-anchor="start" fill="#000">O 1s</text>
<text x="277" y="25.8" font-size="16.2" text-anchor="start" fill="#1a1ab4" stroke="#1a1ab4" stroke-width="0.3">KN-Pt</text>
<text x="602" y="24.5" font-size="16.5" text-anchor="start" fill="#7418cc" stroke="#7418cc" stroke-width="0.3">KN-NL</text>
<text transform="translate(147 74.3) rotate(-90)" font-size="12.2" fill="#1a1ab4" stroke="#1a1ab4" stroke-width="0.25">OKLL•Mg</text>
<text transform="translate(199.3 60.2) rotate(-90)" font-size="12" fill="#1a1ab4" stroke="#1a1ab4" stroke-width="0.25">O 1s</text>
<text transform="translate(241.9 101.6) rotate(-90)" font-size="12" fill="#1a1ab4" stroke="#1a1ab4" stroke-width="0.25">Nb 3p3</text>
<text transform="translate(260.9 92.8) rotate(-90)" font-size="12" fill="#1a1ab4" stroke="#1a1ab4" stroke-width="0.25">K 2p3</text>
<text transform="translate(273.7 93.6) rotate(-90)" font-size="12" fill="#1a1ab4" stroke="#1a1ab4" stroke-width="0.25">C 1s</text>
<text transform="translate(290.5 100.2) rotate(-90)" font-size="12" fill="#1a1ab4" stroke="#1a1ab4" stroke-width="0.25">Nb 3d5</text>
<text transform="translate(302.3 132.1) rotate(-90)" font-size="12" fill="#1a1ab4" stroke="#1a1ab4" stroke-width="0.25">Si 2s</text>
<text transform="translate(318.5 134.9) rotate(-90)" font-size="12" fill="#1a1ab4" stroke="#1a1ab4" stroke-width="0.25">Si 2p3</text>
<text transform="translate(477.1 68.7) rotate(-90)" font-size="12.2" fill="#7418cc" stroke="#7418cc" stroke-width="0.25">OKLL•Mg</text>
<text transform="translate(525.5 39.3) rotate(-90)" font-size="12" fill="#7418cc" stroke="#7418cc" stroke-width="0.25">O 1s</text>
<text transform="translate(569.9 89.3) rotate(-90)" font-size="12" fill="#7418cc" stroke="#7418cc" stroke-width="0.25">Nb 3p3</text>
<text transform="translate(587.4 100.2) rotate(-90)" font-size="12" fill="#7418cc" stroke="#7418cc" stroke-width="0.25">K 2p3</text>
<text transform="translate(601.4 97.1) rotate(-90)" font-size="12" fill="#7418cc" stroke="#7418cc" stroke-width="0.25">C 1s</text>
<text transform="translate(620 87.8) rotate(-90)" font-size="12" fill="#7418cc" stroke="#7418cc" stroke-width="0.25">Nb 3d5</text>
<text transform="translate(632.2 135.7) rotate(-90)" font-size="12" fill="#7418cc" stroke="#7418cc" stroke-width="0.25">Si 2s</text>
<text transform="translate(649.5 135.9) rotate(-90)" font-size="12" fill="#7418cc" stroke="#7418cc" stroke-width="0.25">Si 2p3</text>
<text x="82.2" y="294" font-size="15.5" text-anchor="start" fill="#1a1ab4" stroke="#1a1ab4" stroke-width="0.3">209.6 eV</text>
<text x="276.4" y="264.5" font-size="15.5" text-anchor="start" fill="#1a1ab4" stroke="#1a1ab4" stroke-width="0.3">206.9 eV</text>
<text x="327.8" y="322.7" font-size="16.5" text-anchor="start" fill="#1a1ab4" stroke="#1a1ab4" stroke-width="0.3">KN-Pt</text>
<text x="323.5" y="467" font-size="16.5" text-anchor="start" fill="#7418cc" stroke="#7418cc" stroke-width="0.3">KN-NL</text>
<text x="86.8" y="394.7" font-size="15.5" text-anchor="start" fill="#000">3d</text>
<text x="103" y="401" font-size="10" text-anchor="start" fill="#000">3/2</text>
<text x="67.8" y="420.6" font-size="15.5" text-anchor="start" fill="#7418cc" stroke="#7418cc" stroke-width="0.3">210.4 eV</text>
<text x="162" y="414.4" font-size="15.5" text-anchor="start" fill="#000">2.7 eV</text>
<text x="275" y="409.7" font-size="15.5" text-anchor="start" fill="#000">3d</text>
<text x="291.2" y="417" font-size="10" text-anchor="start" fill="#000">5/2</text>
<text x="263.4" y="440.5" font-size="15.5" text-anchor="start" fill="#7418cc" stroke="#7418cc" stroke-width="0.3">207.7 eV</text>
<text x="434.4" y="297.1" font-size="15.5" text-anchor="start" fill="#1a1ab4" stroke="#1a1ab4" stroke-width="0.3">531.8 eV</text>
<text x="592.6" y="278.5" font-size="15.5" text-anchor="start" fill="#1a1ab4" stroke="#1a1ab4" stroke-width="0.3">530.0 eV</text>
<text x="479" y="408.6" font-size="15.5" text-anchor="start" fill="#000">1.8 eV</text>
<text x="415" y="448.5" font-size="15.5" text-anchor="start" fill="#7418cc" stroke="#7418cc" stroke-width="0.3">532.5 eV</text>
<text x="581" y="402.8" font-size="15.5" text-anchor="start" fill="#000">O 1s</text>
<text x="577" y="427.9" font-size="15.5" text-anchor="start" fill="#7418cc" stroke="#7418cc" stroke-width="0.3">530.7 eV</text>
<line x1="163.6" y1="298.5" x2="170.7" y2="254.4" stroke="#000" stroke-width="1.6"/>
<path d="M171.8 247.5L173.9 257L166.8 255.8Z" fill="#000"/>
<line x1="554" y1="300.4" x2="560.6" y2="262.7" stroke="#000" stroke-width="1.6"/>
<path d="M561.8 255.8L563.8 265.3L556.7 264Z" fill="#000"/>
<path d="M142.8 394V452M226.4 376V451M483.4 414V477.4M542.2 374V472" stroke="#000" stroke-width="1.8" fill="none"/>
<line x1="184" y1="434.8" x2="150.4" y2="434.8" stroke="#000" stroke-width="1.6"/>
<path d="M143.4 434.8L152.4 431.2L152.4 438.4Z" fill="#000"/>
<line x1="184" y1="434.8" x2="219" y2="434.8" stroke="#000" stroke-width="1.6"/>
<path d="M226 434.8L217 438.4L217 431.2Z" fill="#000"/>
<line x1="512" y1="440.2" x2="491" y2="440.2" stroke="#000" stroke-width="1.6"/>
<path d="M484 440.2L493 436.6L493 443.8Z" fill="#000"/>
<line x1="512" y1="440.2" x2="534.6" y2="440.2" stroke="#000" stroke-width="1.6"/>
<path d="M541.6 440.2L532.6 443.8L532.6 436.6Z" fill="#000"/>
</svg></body></html>
